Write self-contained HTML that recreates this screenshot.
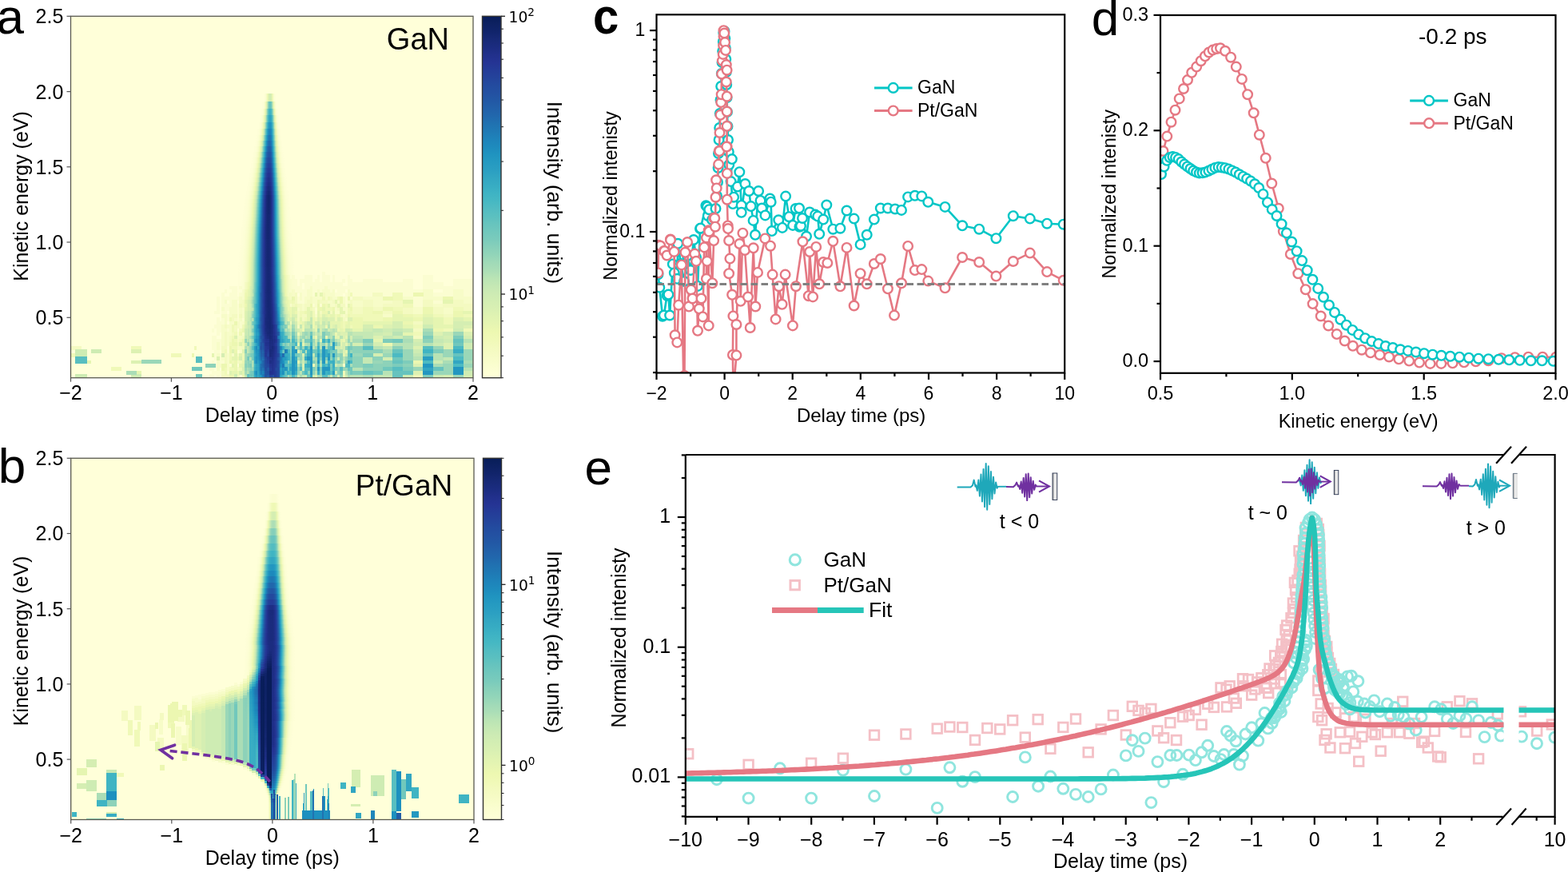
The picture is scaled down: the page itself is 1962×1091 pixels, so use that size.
<!DOCTYPE html>
<html><head><meta charset="utf-8"><title>Figure</title>
<style>html,body{margin:0;padding:0;background:#fff;}svg{display:block;}</style>
</head><body>
<svg width="1962" height="1091" viewBox="0 0 1962 1091" font-family="'Liberation Sans', Arial, sans-serif">
<defs>
<filter id="cmapA" filterUnits="userSpaceOnUse" x="0" y="0" width="700" height="1091" color-interpolation-filters="sRGB"><feGaussianBlur stdDeviation="0.55" result="b"/><feComponentTransfer in="b"><feFuncR type="table" tableValues="1.0000 0.9823 0.9646 0.9469 0.9288 0.8914 0.8540 0.8166 0.7782 0.7073 0.6364 0.5656 0.4952 0.4342 0.3731 0.3121 0.2527 0.2173 0.1818 0.1464 0.1141 0.1190 0.1240 0.1289 0.1336 0.1366 0.1395 0.1425 0.1420 0.1134 0.0849 0.0563 0.0314"/><feFuncG type="table" tableValues="1.0000 0.9931 0.9862 0.9793 0.9723 0.9576 0.9428 0.9280 0.9129 0.8853 0.8577 0.8302 0.8029 0.7802 0.7576 0.7349 0.7114 0.6750 0.6386 0.6022 0.5647 0.5145 0.4643 0.4141 0.3648 0.3234 0.2821 0.2407 0.2014 0.1788 0.1562 0.1335 0.1137"/><feFuncB type="table" tableValues="0.8510 0.8116 0.7722 0.7329 0.6942 0.6971 0.7001 0.7030 0.7061 0.7130 0.7199 0.7268 0.7337 0.7426 0.7515 0.7603 0.7684 0.7644 0.7605 0.7566 0.7511 0.7275 0.7039 0.6802 0.6570 0.6373 0.6176 0.5979 0.5739 0.5149 0.4558 0.3968 0.3451"/><feFuncA type="discrete" tableValues="1"/></feComponentTransfer></filter>
<filter id="cmapB" filterUnits="userSpaceOnUse" x="0" y="0" width="700" height="1091" color-interpolation-filters="sRGB"><feGaussianBlur stdDeviation="0.55" result="b"/><feComponentTransfer in="b"><feFuncR type="table" tableValues="1.0000 0.9823 0.9646 0.9469 0.9288 0.8914 0.8540 0.8166 0.7782 0.7073 0.6364 0.5656 0.4952 0.4342 0.3731 0.3121 0.2527 0.2173 0.1818 0.1464 0.1141 0.1190 0.1240 0.1289 0.1336 0.1366 0.1395 0.1425 0.1420 0.1134 0.0849 0.0563 0.0314"/><feFuncG type="table" tableValues="1.0000 0.9931 0.9862 0.9793 0.9723 0.9576 0.9428 0.9280 0.9129 0.8853 0.8577 0.8302 0.8029 0.7802 0.7576 0.7349 0.7114 0.6750 0.6386 0.6022 0.5647 0.5145 0.4643 0.4141 0.3648 0.3234 0.2821 0.2407 0.2014 0.1788 0.1562 0.1335 0.1137"/><feFuncB type="table" tableValues="0.8510 0.8116 0.7722 0.7329 0.6942 0.6971 0.7001 0.7030 0.7061 0.7130 0.7199 0.7268 0.7337 0.7426 0.7515 0.7603 0.7684 0.7644 0.7605 0.7566 0.7511 0.7275 0.7039 0.6802 0.6570 0.6373 0.6176 0.5979 0.5739 0.5149 0.4558 0.3968 0.3451"/><feFuncA type="discrete" tableValues="1"/></feComponentTransfer></filter>
</defs>
<rect x="88.5" y="20.3" width="503.5" height="452.4" fill="#ffffd9"/>
<clipPath id="clipcmapA"><rect x="88.5" y="20.3" width="503.5" height="452.4"/></clipPath>
<g clip-path="url(#clipcmapA)"><g filter="url(#cmapA)">
<rect x="86.5" y="18.3" width="507.5" height="456.4" fill="#000"/>
<g shape-rendering="crispEdges">
<path fill="#060606" d="M261.6 468.3h3.5v4.8h-3.5zM261.6 459.4h3.5v4.8h-3.5zM264.7 468.3h3.5v4.8h-3.5zM264.7 463.8h3.5v4.8h-3.5zM264.7 459.4h3.5v4.8h-3.5zM264.7 455h3.5v4.8h-3.5zM264.7 450.6h3.5v4.8h-3.5zM264.7 432.8h3.5v4.8h-3.5zM264.7 428.4h3.5v4.8h-3.5zM264.7 424h3.5v4.8h-3.5zM264.7 419.5h3.5v4.8h-3.5zM264.7 410.7h3.5v4.8h-3.5zM267.9 463.8h3.5v4.8h-3.5zM267.9 455h3.5v4.8h-3.5zM267.9 446.1h3.5v4.8h-3.5zM267.9 441.7h3.5v4.8h-3.5zM267.9 437.3h3.5v4.8h-3.5zM267.9 432.8h3.5v4.8h-3.5zM267.9 428.4h3.5v4.8h-3.5zM267.9 424h3.5v4.8h-3.5zM267.9 419.5h3.5v4.8h-3.5zM267.9 406.3h3.5v4.8h-3.5zM267.9 388.5h3.5v4.8h-3.5zM271 468.3h3.5v4.8h-3.5zM271 463.8h3.5v4.8h-3.5zM271 437.3h3.5v4.8h-3.5zM271 424h3.5v4.8h-3.5zM271 415.1h3.5v4.8h-3.5zM271 410.7h3.5v4.8h-3.5zM271 406.3h3.5v4.8h-3.5zM271 401.8h3.5v4.8h-3.5zM271 397.4h3.5v4.8h-3.5zM271 388.5h3.5v4.8h-3.5zM271 384.1h3.5v4.8h-3.5zM271 379.7h3.5v4.8h-3.5zM271 375.2h3.5v4.8h-3.5zM271 370.8h3.5v4.8h-3.5zM274.2 463.8h3.5v4.8h-3.5zM274.2 450.6h3.5v4.8h-3.5zM274.2 446.1h3.5v4.8h-3.5zM274.2 441.7h3.5v4.8h-3.5zM274.2 432.8h3.5v4.8h-3.5zM274.2 428.4h3.5v4.8h-3.5zM274.2 424h3.5v4.8h-3.5zM274.2 410.7h3.5v4.8h-3.5zM274.2 406.3h3.5v4.8h-3.5zM274.2 401.8h3.5v4.8h-3.5zM277.3 450.6h3.5v4.8h-3.5zM277.3 401.8h3.5v4.8h-3.5zM277.3 397.4h3.5v4.8h-3.5zM277.3 388.5h3.5v4.8h-3.5zM277.3 379.7h3.5v4.8h-3.5zM277.3 375.2h3.5v4.8h-3.5zM277.3 370.8h3.5v4.8h-3.5zM277.3 366.4h3.5v4.8h-3.5zM280.5 388.5h3.5v4.8h-3.5zM280.5 384.1h3.5v4.8h-3.5zM280.5 379.7h3.5v4.8h-3.5zM280.5 370.8h3.5v4.8h-3.5zM280.5 362h3.5v4.8h-3.5zM283.6 463.8h3.5v4.8h-3.5zM283.6 437.3h3.5v4.8h-3.5zM283.6 432.8h3.5v4.8h-3.5zM283.6 410.7h3.5v4.8h-3.5zM283.6 397.4h3.5v4.8h-3.5zM283.6 393h3.5v4.8h-3.5zM283.6 384.1h3.5v4.8h-3.5zM283.6 379.7h3.5v4.8h-3.5zM283.6 370.8h3.5v4.8h-3.5zM286.8 455h3.5v4.8h-3.5zM286.8 379.7h3.5v4.8h-3.5zM286.8 375.2h3.5v4.8h-3.5zM286.8 370.8h3.5v4.8h-3.5zM286.8 366.4h3.5v4.8h-3.5zM286.8 357.5h3.5v4.8h-3.5zM289.9 370.8h3.5v4.8h-3.5zM289.9 366.4h3.5v4.8h-3.5zM289.9 362h3.5v4.8h-3.5zM289.9 357.5h3.5v4.8h-3.5zM293 370.8h3.5v4.8h-3.5zM293 366.4h3.5v4.8h-3.5zM293 362h3.5v4.8h-3.5zM293 357.5h3.5v4.8h-3.5zM296.2 415.1h3.5v4.8h-3.5zM296.2 397.4h3.5v4.8h-3.5zM296.2 393h3.5v4.8h-3.5zM296.2 388.5h3.5v4.8h-3.5zM296.2 384.1h3.5v4.8h-3.5zM296.2 379.7h3.5v4.8h-3.5zM296.2 370.8h3.5v4.8h-3.5zM299.3 437.3h3.5v4.8h-3.5zM299.3 406.3h3.5v4.8h-3.5zM299.3 401.8h3.5v4.8h-3.5zM299.3 366.4h3.5v4.8h-3.5zM299.3 357.5h3.5v4.8h-3.5zM302.5 415.1h3.5v4.8h-3.5zM302.5 401.8h3.5v4.8h-3.5zM302.5 393h3.5v4.8h-3.5zM302.5 388.5h3.5v4.8h-3.5zM302.5 384.1h3.5v4.8h-3.5zM302.5 370.8h3.5v4.8h-3.5zM302.5 366.4h3.5v4.8h-3.5zM302.5 362h3.5v4.8h-3.5zM305.6 357.5h3.5v4.8h-3.5zM305.6 353.1h3.5v4.8h-3.5zM308.8 357.5h3.5v4.8h-3.5zM308.8 353.1h3.5v4.8h-3.5zM311.9 366.4h3.5v4.8h-3.5zM311.9 362h3.5v4.8h-3.5zM311.9 357.5h3.5v4.8h-3.5zM315.1 455h3.5v4.8h-3.5zM315.1 450.6h3.5v4.8h-3.5zM315.1 415.1h3.5v4.8h-3.5zM315.1 406.3h3.5v4.8h-3.5zM315.1 362h3.5v4.8h-3.5zM318.2 362h3.5v4.8h-3.5zM318.2 357.5h3.5v4.8h-3.5zM318.2 353.1h3.5v4.8h-3.5zM321.4 393h3.5v4.8h-3.5zM321.4 370.8h3.5v4.8h-3.5zM321.4 366.4h3.5v4.8h-3.5zM321.4 362h3.5v4.8h-3.5zM321.4 357.5h3.5v4.8h-3.5zM324.5 357.5h3.5v4.8h-3.5zM327.7 463.8h3.5v4.8h-3.5zM327.7 401.8h3.5v4.8h-3.5zM327.7 357.5h3.5v4.8h-3.5zM327.7 353.1h3.5v4.8h-3.5zM330.8 357.5h3.5v4.8h-3.5zM334 357.5h3.5v4.8h-3.5zM334 353.1h3.5v4.8h-3.5zM337.1 357.5h3.5v4.8h-3.5zM337.1 353.1h3.5v4.8h-3.5zM337.1 348.7h3.5v4.8h-3.5zM337.1 344.2h3.5v4.8h-3.5zM340.2 362h3.5v4.8h-3.5zM340.2 348.7h3.5v4.8h-3.5zM340.2 344.2h3.5v4.8h-3.5zM343.4 348.7h3.5v4.8h-3.5zM343.4 344.2h3.5v4.8h-3.5zM346.5 357.5h3.5v4.8h-3.5zM346.5 353.1h3.5v4.8h-3.5zM346.5 348.7h3.5v4.8h-3.5zM346.5 344.2h3.5v4.8h-3.5zM349.7 362h3.5v4.8h-3.5zM349.7 357.5h3.5v4.8h-3.5zM349.7 353.1h3.5v4.8h-3.5zM349.7 348.7h3.5v4.8h-3.5zM352.8 362h3.5v4.8h-3.5zM352.8 357.5h3.5v4.8h-3.5zM352.8 353.1h3.5v4.8h-3.5zM352.8 348.7h3.5v4.8h-3.5zM352.8 344.2h3.5v4.8h-3.5zM356 366.4h3.5v4.8h-3.5zM356 362h3.5v4.8h-3.5zM356 357.5h3.5v4.8h-3.5zM356 353.1h3.5v4.8h-3.5zM356 348.7h3.5v4.8h-3.5zM356 344.2h3.5v4.8h-3.5zM359.1 366.4h3.5v4.8h-3.5zM359.1 362h3.5v4.8h-3.5zM359.1 357.5h3.5v4.8h-3.5zM359.1 353.1h3.5v4.8h-3.5zM359.1 348.7h3.5v4.8h-3.5zM359.1 344.2h3.5v4.8h-3.5zM362.3 379.7h3.5v4.8h-3.5zM362.3 362h3.5v4.8h-3.5zM362.3 357.5h3.5v4.8h-3.5zM362.3 353.1h3.5v4.8h-3.5zM362.3 348.7h3.5v4.8h-3.5zM365.4 357.5h3.5v4.8h-3.5zM365.4 353.1h3.5v4.8h-3.5zM365.4 348.7h3.5v4.8h-3.5zM365.4 344.2h3.5v4.8h-3.5zM368.6 362h3.5v4.8h-3.5zM368.6 357.5h3.5v4.8h-3.5zM368.6 353.1h3.5v4.8h-3.5zM368.6 348.7h3.5v4.8h-3.5zM371.7 375.2h3.5v4.8h-3.5zM371.7 370.8h3.5v4.8h-3.5zM371.7 362h3.5v4.8h-3.5zM371.7 357.5h3.5v4.8h-3.5zM374.9 375.2h3.5v4.8h-3.5zM374.9 362h3.5v4.8h-3.5zM374.9 357.5h3.5v4.8h-3.5zM374.9 353.1h3.5v4.8h-3.5zM374.9 348.7h3.5v4.8h-3.5zM378 375.2h3.5v4.8h-3.5zM378 370.8h3.5v4.8h-3.5zM378 366.4h3.5v4.8h-3.5zM378 362h3.5v4.8h-3.5zM378 348.7h3.5v4.8h-3.5zM381.2 366.4h3.5v4.8h-3.5zM381.2 362h3.5v4.8h-3.5zM381.2 357.5h3.5v4.8h-3.5zM381.2 353.1h3.5v4.8h-3.5zM381.2 348.7h3.5v4.8h-3.5zM381.2 344.2h3.5v4.8h-3.5zM384.3 357.5h3.5v4.8h-3.5zM384.3 353.1h3.5v4.8h-3.5zM384.3 348.7h3.5v4.8h-3.5zM384.3 344.2h3.5v4.8h-3.5zM387.5 353.1h3.5v4.8h-3.5zM387.5 348.7h3.5v4.8h-3.5zM387.5 344.2h3.5v4.8h-3.5zM390.6 379.7h3.5v4.8h-3.5zM390.6 366.4h3.5v4.8h-3.5zM390.6 362h3.5v4.8h-3.5zM390.6 357.5h3.5v4.8h-3.5zM390.6 353.1h3.5v4.8h-3.5zM393.7 388.5h3.5v4.8h-3.5zM393.7 384.1h3.5v4.8h-3.5zM393.7 362h3.5v4.8h-3.5zM393.7 357.5h3.5v4.8h-3.5zM393.7 353.1h3.5v4.8h-3.5zM393.7 348.7h3.5v4.8h-3.5zM396.9 357.5h3.5v4.8h-3.5zM396.9 353.1h3.5v4.8h-3.5zM396.9 348.7h3.5v4.8h-3.5zM396.9 344.2h3.5v4.8h-3.5zM400 379.7h3.5v4.8h-3.5zM400 362h3.5v4.8h-3.5zM400 357.5h3.5v4.8h-3.5zM400 353.1h3.5v4.8h-3.5zM403.2 357.5h3.5v4.8h-3.5zM403.2 353.1h3.5v4.8h-3.5zM403.2 348.7h3.5v4.8h-3.5zM403.2 344.2h3.5v4.8h-3.5zM403.2 339.8h3.5v4.8h-3.5zM406.3 353.1h3.5v4.8h-3.5zM406.3 348.7h3.5v4.8h-3.5zM406.3 344.2h3.5v4.8h-3.5zM409.5 357.5h3.5v4.8h-3.5zM409.5 353.1h3.5v4.8h-3.5zM409.5 348.7h3.5v4.8h-3.5zM409.5 344.2h3.5v4.8h-3.5zM412.6 362h3.5v4.8h-3.5zM412.6 357.5h3.5v4.8h-3.5zM412.6 353.1h3.5v4.8h-3.5zM415.8 357.5h3.5v4.8h-3.5zM415.8 353.1h3.5v4.8h-3.5zM415.8 348.7h3.5v4.8h-3.5zM415.8 344.2h3.5v4.8h-3.5zM418.9 366.4h3.5v4.8h-3.5zM418.9 357.5h3.5v4.8h-3.5zM418.9 353.1h3.5v4.8h-3.5zM422.1 366.4h3.5v4.8h-3.5zM422.1 362h3.5v4.8h-3.5zM422.1 357.5h3.5v4.8h-3.5zM422.1 353.1h3.5v4.8h-3.5zM425.2 366.4h3.5v4.8h-3.5zM425.2 362h3.5v4.8h-3.5zM425.2 357.5h3.5v4.8h-3.5zM425.2 353.1h3.5v4.8h-3.5zM428.4 362h3.5v4.8h-3.5zM428.4 357.5h3.5v4.8h-3.5zM428.4 348.7h3.5v4.8h-3.5zM431.5 379.7h3.5v4.8h-3.5zM431.5 375.2h3.5v4.8h-3.5zM431.5 370.8h3.5v4.8h-3.5zM431.5 366.4h3.5v4.8h-3.5zM431.5 357.5h3.5v4.8h-3.5zM434.7 357.5h3.5v4.8h-3.5zM434.7 353.1h3.5v4.8h-3.5zM434.7 348.7h3.5v4.8h-3.5zM434.7 344.2h3.5v4.8h-3.5zM437.8 370.8h3.5v4.8h-3.5zM437.8 362h3.5v4.8h-3.5zM437.8 357.5h3.5v4.8h-3.5zM437.8 353.1h3.5v4.8h-3.5zM437.8 348.7h3.5v4.8h-3.5zM441 366.4h13v4.8h-13zM441 362h13v4.8h-13zM441 357.5h13v4.8h-13zM441 353.1h13v4.8h-13zM453.5 366.4h13v4.8h-13zM453.5 362h13v4.8h-13zM453.5 357.5h13v4.8h-13zM453.5 353.1h13v4.8h-13zM453.5 348.7h13v4.8h-13zM466.1 362h13v4.8h-13zM466.1 357.5h13v4.8h-13zM466.1 353.1h13v4.8h-13zM466.1 348.7h13v4.8h-13zM478.7 366.4h13v4.8h-13zM478.7 362h13v4.8h-13zM478.7 357.5h13v4.8h-13zM478.7 353.1h13v4.8h-13zM491.3 362h13v4.8h-13zM491.3 357.5h13v4.8h-13zM491.3 353.1h13v4.8h-13zM503.9 366.4h13v4.8h-13zM503.9 362h13v4.8h-13zM503.9 357.5h13v4.8h-13zM503.9 353.1h13v4.8h-13zM503.9 348.7h13v4.8h-13zM516.5 379.7h13v4.8h-13zM516.5 375.2h13v4.8h-13zM516.5 370.8h13v4.8h-13zM516.5 362h13v4.8h-13zM529.1 357.5h13v4.8h-13zM529.1 353.1h13v4.8h-13zM529.1 348.7h13v4.8h-13zM529.1 344.2h13v4.8h-13zM541.7 375.2h13v4.8h-13zM541.7 366.4h13v4.8h-13zM541.7 357.5h13v4.8h-13zM541.7 353.1h13v4.8h-13zM554.2 366.4h13v4.8h-13zM554.2 362h13v4.8h-13zM554.2 357.5h13v4.8h-13zM566.8 357.5h13v4.8h-13zM566.8 353.1h13v4.8h-13zM566.8 348.7h13v4.8h-13zM579.4 366.4h13v4.8h-13zM579.4 362h13v4.8h-13zM579.4 357.5h13v4.8h-13zM579.4 353.1h13v4.8h-13zM579.4 348.7h13v4.8h-13z"/>
<path fill="#0d0d0d" d="M271 459.4h3.5v4.8h-3.5zM271 455h3.5v4.8h-3.5zM271 450.6h3.5v4.8h-3.5zM271 441.7h3.5v4.8h-3.5zM271 432.8h3.5v4.8h-3.5zM271 428.4h3.5v4.8h-3.5zM274.2 455h3.5v4.8h-3.5zM277.3 446.1h3.5v4.8h-3.5zM277.3 428.4h3.5v4.8h-3.5zM277.3 424h3.5v4.8h-3.5zM277.3 419.5h3.5v4.8h-3.5zM277.3 415.1h3.5v4.8h-3.5zM277.3 410.7h3.5v4.8h-3.5zM277.3 406.3h3.5v4.8h-3.5zM277.3 393h3.5v4.8h-3.5zM277.3 384.1h3.5v4.8h-3.5zM280.5 410.7h3.5v4.8h-3.5zM280.5 401.8h3.5v4.8h-3.5zM280.5 397.4h3.5v4.8h-3.5zM280.5 393h3.5v4.8h-3.5zM280.5 375.2h3.5v4.8h-3.5zM283.6 459.4h3.5v4.8h-3.5zM283.6 455h3.5v4.8h-3.5zM283.6 450.6h3.5v4.8h-3.5zM283.6 446.1h3.5v4.8h-3.5zM283.6 441.7h3.5v4.8h-3.5zM283.6 428.4h3.5v4.8h-3.5zM283.6 424h3.5v4.8h-3.5zM283.6 419.5h3.5v4.8h-3.5zM283.6 415.1h3.5v4.8h-3.5zM283.6 406.3h3.5v4.8h-3.5zM286.8 415.1h3.5v4.8h-3.5zM286.8 410.7h3.5v4.8h-3.5zM286.8 406.3h3.5v4.8h-3.5zM286.8 401.8h3.5v4.8h-3.5zM286.8 393h3.5v4.8h-3.5zM286.8 388.5h3.5v4.8h-3.5zM286.8 384.1h3.5v4.8h-3.5zM289.9 441.7h3.5v4.8h-3.5zM289.9 401.8h3.5v4.8h-3.5zM289.9 388.5h3.5v4.8h-3.5zM289.9 384.1h3.5v4.8h-3.5zM289.9 379.7h3.5v4.8h-3.5zM289.9 375.2h3.5v4.8h-3.5zM293 397.4h3.5v4.8h-3.5zM293 388.5h3.5v4.8h-3.5zM293 384.1h3.5v4.8h-3.5zM293 379.7h3.5v4.8h-3.5zM293 375.2h3.5v4.8h-3.5zM296.2 459.4h3.5v4.8h-3.5zM296.2 450.6h3.5v4.8h-3.5zM296.2 441.7h3.5v4.8h-3.5zM296.2 432.8h3.5v4.8h-3.5zM296.2 424h3.5v4.8h-3.5zM296.2 419.5h3.5v4.8h-3.5zM296.2 406.3h3.5v4.8h-3.5zM296.2 401.8h3.5v4.8h-3.5zM299.3 432.8h3.5v4.8h-3.5zM299.3 419.5h3.5v4.8h-3.5zM299.3 397.4h3.5v4.8h-3.5zM299.3 388.5h3.5v4.8h-3.5zM299.3 384.1h3.5v4.8h-3.5zM299.3 375.2h3.5v4.8h-3.5zM299.3 370.8h3.5v4.8h-3.5zM302.5 432.8h3.5v4.8h-3.5zM302.5 419.5h3.5v4.8h-3.5zM302.5 379.7h3.5v4.8h-3.5zM302.5 375.2h3.5v4.8h-3.5zM305.6 362h3.5v4.8h-3.5zM308.8 366.4h3.5v4.8h-3.5zM308.8 362h3.5v4.8h-3.5zM311.9 415.1h3.5v4.8h-3.5zM311.9 384.1h3.5v4.8h-3.5zM311.9 379.7h3.5v4.8h-3.5zM311.9 370.8h3.5v4.8h-3.5zM315.1 424h3.5v4.8h-3.5zM315.1 379.7h3.5v4.8h-3.5zM315.1 370.8h3.5v4.8h-3.5zM318.2 375.2h3.5v4.8h-3.5zM318.2 370.8h3.5v4.8h-3.5zM318.2 366.4h3.5v4.8h-3.5zM321.4 432.8h3.5v4.8h-3.5zM321.4 410.7h3.5v4.8h-3.5zM321.4 401.8h3.5v4.8h-3.5zM321.4 397.4h3.5v4.8h-3.5zM321.4 388.5h3.5v4.8h-3.5zM321.4 384.1h3.5v4.8h-3.5zM321.4 379.7h3.5v4.8h-3.5zM321.4 375.2h3.5v4.8h-3.5zM324.5 468.3h3.5v4.8h-3.5zM324.5 415.1h3.5v4.8h-3.5zM324.5 410.7h3.5v4.8h-3.5zM324.5 401.8h3.5v4.8h-3.5zM324.5 393h3.5v4.8h-3.5zM324.5 384.1h3.5v4.8h-3.5zM324.5 379.7h3.5v4.8h-3.5zM324.5 375.2h3.5v4.8h-3.5zM324.5 370.8h3.5v4.8h-3.5zM327.7 441.7h3.5v4.8h-3.5zM327.7 432.8h3.5v4.8h-3.5zM327.7 410.7h3.5v4.8h-3.5zM327.7 384.1h3.5v4.8h-3.5zM327.7 375.2h3.5v4.8h-3.5zM330.8 388.5h3.5v4.8h-3.5zM330.8 370.8h3.5v4.8h-3.5zM330.8 362h3.5v4.8h-3.5zM334 384.1h3.5v4.8h-3.5zM334 370.8h3.5v4.8h-3.5zM334 366.4h3.5v4.8h-3.5zM334 362h3.5v4.8h-3.5zM337.1 362h3.5v4.8h-3.5zM340.2 357.5h3.5v4.8h-3.5zM340.2 353.1h3.5v4.8h-3.5zM343.4 357.5h3.5v4.8h-3.5zM343.4 353.1h3.5v4.8h-3.5zM346.5 379.7h3.5v4.8h-3.5zM346.5 362h3.5v4.8h-3.5zM349.7 393h3.5v4.8h-3.5zM349.7 375.2h3.5v4.8h-3.5zM349.7 370.8h3.5v4.8h-3.5zM349.7 366.4h3.5v4.8h-3.5zM352.8 375.2h3.5v4.8h-3.5zM352.8 366.4h3.5v4.8h-3.5zM356 375.2h3.5v4.8h-3.5zM359.1 370.8h3.5v4.8h-3.5zM362.3 370.8h3.5v4.8h-3.5zM362.3 366.4h3.5v4.8h-3.5zM365.4 366.4h3.5v4.8h-3.5zM365.4 362h3.5v4.8h-3.5zM371.7 384.1h3.5v4.8h-3.5zM374.9 370.8h3.5v4.8h-3.5zM374.9 366.4h3.5v4.8h-3.5zM378 384.1h3.5v4.8h-3.5zM378 379.7h3.5v4.8h-3.5zM381.2 375.2h3.5v4.8h-3.5zM381.2 370.8h3.5v4.8h-3.5zM384.3 370.8h3.5v4.8h-3.5zM384.3 366.4h3.5v4.8h-3.5zM384.3 362h3.5v4.8h-3.5zM387.5 366.4h3.5v4.8h-3.5zM387.5 362h3.5v4.8h-3.5zM387.5 357.5h3.5v4.8h-3.5zM390.6 375.2h3.5v4.8h-3.5zM390.6 370.8h3.5v4.8h-3.5zM393.7 393h3.5v4.8h-3.5zM393.7 379.7h3.5v4.8h-3.5zM393.7 375.2h3.5v4.8h-3.5zM393.7 370.8h3.5v4.8h-3.5zM396.9 370.8h3.5v4.8h-3.5zM396.9 366.4h3.5v4.8h-3.5zM396.9 362h3.5v4.8h-3.5zM400 370.8h3.5v4.8h-3.5zM403.2 362h3.5v4.8h-3.5zM406.3 370.8h3.5v4.8h-3.5zM406.3 366.4h3.5v4.8h-3.5zM406.3 362h3.5v4.8h-3.5zM406.3 357.5h3.5v4.8h-3.5zM409.5 375.2h3.5v4.8h-3.5zM409.5 366.4h3.5v4.8h-3.5zM409.5 362h3.5v4.8h-3.5zM412.6 379.7h3.5v4.8h-3.5zM412.6 375.2h3.5v4.8h-3.5zM412.6 366.4h3.5v4.8h-3.5zM415.8 379.7h3.5v4.8h-3.5zM415.8 370.8h3.5v4.8h-3.5zM415.8 366.4h3.5v4.8h-3.5zM415.8 362h3.5v4.8h-3.5zM418.9 388.5h3.5v4.8h-3.5zM418.9 384.1h3.5v4.8h-3.5zM418.9 370.8h3.5v4.8h-3.5zM422.1 388.5h3.5v4.8h-3.5zM422.1 375.2h3.5v4.8h-3.5zM428.4 455h3.5v4.8h-3.5zM428.4 393h3.5v4.8h-3.5zM428.4 384.1h3.5v4.8h-3.5zM428.4 375.2h3.5v4.8h-3.5zM428.4 370.8h3.5v4.8h-3.5zM431.5 397.4h3.5v4.8h-3.5zM431.5 388.5h3.5v4.8h-3.5zM431.5 384.1h3.5v4.8h-3.5zM434.7 375.2h3.5v4.8h-3.5zM434.7 366.4h3.5v4.8h-3.5zM434.7 362h3.5v4.8h-3.5zM441 379.7h13v4.8h-13zM441 375.2h13v4.8h-13zM453.5 370.8h13v4.8h-13zM466.1 379.7h13v4.8h-13zM466.1 375.2h13v4.8h-13zM466.1 370.8h13v4.8h-13zM478.7 393h13v4.8h-13zM478.7 375.2h13v4.8h-13zM503.9 370.8h13v4.8h-13zM516.5 388.5h13v4.8h-13zM516.5 384.1h13v4.8h-13zM529.1 370.8h13v4.8h-13zM529.1 366.4h13v4.8h-13zM529.1 362h13v4.8h-13zM541.7 379.7h13v4.8h-13zM541.7 370.8h13v4.8h-13zM554.2 388.5h13v4.8h-13zM554.2 384.1h13v4.8h-13zM566.8 370.8h13v4.8h-13zM566.8 366.4h13v4.8h-13zM566.8 362h13v4.8h-13zM579.4 375.2h13v4.8h-13zM579.4 370.8h13v4.8h-13z"/>
<path fill="#131313" d="M88.5 432.8h13v4.8h-13zM277.3 468.3h3.5v4.8h-3.5zM277.3 463.8h3.5v4.8h-3.5zM277.3 437.3h3.5v4.8h-3.5zM277.3 432.8h3.5v4.8h-3.5zM280.5 468.3h3.5v4.8h-3.5zM280.5 450.6h3.5v4.8h-3.5zM280.5 446.1h3.5v4.8h-3.5zM280.5 441.7h3.5v4.8h-3.5zM280.5 432.8h3.5v4.8h-3.5zM280.5 428.4h3.5v4.8h-3.5zM280.5 424h3.5v4.8h-3.5zM280.5 419.5h3.5v4.8h-3.5zM280.5 415.1h3.5v4.8h-3.5zM280.5 406.3h3.5v4.8h-3.5zM283.6 468.3h3.5v4.8h-3.5zM286.8 424h3.5v4.8h-3.5zM286.8 419.5h3.5v4.8h-3.5zM289.9 415.1h3.5v4.8h-3.5zM289.9 397.4h3.5v4.8h-3.5zM289.9 393h3.5v4.8h-3.5zM293 410.7h3.5v4.8h-3.5zM293 406.3h3.5v4.8h-3.5zM293 393h3.5v4.8h-3.5zM296.2 468.3h3.5v4.8h-3.5zM296.2 428.4h3.5v4.8h-3.5zM299.3 459.4h3.5v4.8h-3.5zM299.3 450.6h3.5v4.8h-3.5zM299.3 424h3.5v4.8h-3.5zM299.3 410.7h3.5v4.8h-3.5zM299.3 393h3.5v4.8h-3.5zM299.3 379.7h3.5v4.8h-3.5zM302.5 468.3h3.5v4.8h-3.5zM302.5 446.1h3.5v4.8h-3.5zM302.5 441.7h3.5v4.8h-3.5zM302.5 428.4h3.5v4.8h-3.5zM302.5 406.3h3.5v4.8h-3.5zM305.6 379.7h3.5v4.8h-3.5zM305.6 370.8h3.5v4.8h-3.5zM305.6 366.4h3.5v4.8h-3.5zM308.8 370.8h3.5v4.8h-3.5zM311.9 424h3.5v4.8h-3.5zM311.9 410.7h3.5v4.8h-3.5zM311.9 406.3h3.5v4.8h-3.5zM311.9 401.8h3.5v4.8h-3.5zM311.9 393h3.5v4.8h-3.5zM311.9 388.5h3.5v4.8h-3.5zM311.9 375.2h3.5v4.8h-3.5zM315.1 459.4h3.5v4.8h-3.5zM315.1 388.5h3.5v4.8h-3.5zM315.1 375.2h3.5v4.8h-3.5zM321.4 419.5h3.5v4.8h-3.5zM324.5 388.5h3.5v4.8h-3.5zM324.5 366.4h3.5v4.8h-3.5zM327.7 415.1h3.5v4.8h-3.5zM327.7 406.3h3.5v4.8h-3.5zM327.7 388.5h3.5v4.8h-3.5zM330.8 384.1h3.5v4.8h-3.5zM330.8 366.4h3.5v4.8h-3.5zM334 424h3.5v4.8h-3.5zM334 410.7h3.5v4.8h-3.5zM334 397.4h3.5v4.8h-3.5zM337.1 375.2h3.5v4.8h-3.5zM337.1 370.8h3.5v4.8h-3.5zM337.1 366.4h3.5v4.8h-3.5zM340.2 370.8h3.5v4.8h-3.5zM340.2 366.4h3.5v4.8h-3.5zM343.4 366.4h3.5v4.8h-3.5zM343.4 362h3.5v4.8h-3.5zM346.5 375.2h3.5v4.8h-3.5zM346.5 370.8h3.5v4.8h-3.5zM346.5 366.4h3.5v4.8h-3.5zM349.7 388.5h3.5v4.8h-3.5zM349.7 384.1h3.5v4.8h-3.5zM349.7 379.7h3.5v4.8h-3.5zM352.8 379.7h3.5v4.8h-3.5zM352.8 370.8h3.5v4.8h-3.5zM356 379.7h3.5v4.8h-3.5zM356 370.8h3.5v4.8h-3.5zM359.1 384.1h3.5v4.8h-3.5zM359.1 379.7h3.5v4.8h-3.5zM359.1 375.2h3.5v4.8h-3.5zM362.3 401.8h3.5v4.8h-3.5zM362.3 375.2h3.5v4.8h-3.5zM365.4 379.7h3.5v4.8h-3.5zM368.6 375.2h3.5v4.8h-3.5zM368.6 370.8h3.5v4.8h-3.5zM368.6 366.4h3.5v4.8h-3.5zM371.7 406.3h3.5v4.8h-3.5zM371.7 397.4h3.5v4.8h-3.5zM371.7 393h3.5v4.8h-3.5zM371.7 388.5h3.5v4.8h-3.5zM371.7 379.7h3.5v4.8h-3.5zM374.9 384.1h3.5v4.8h-3.5zM374.9 379.7h3.5v4.8h-3.5zM378 397.4h3.5v4.8h-3.5zM378 393h3.5v4.8h-3.5zM381.2 393h3.5v4.8h-3.5zM381.2 384.1h3.5v4.8h-3.5zM381.2 379.7h3.5v4.8h-3.5zM384.3 379.7h3.5v4.8h-3.5zM384.3 375.2h3.5v4.8h-3.5zM387.5 375.2h3.5v4.8h-3.5zM387.5 370.8h3.5v4.8h-3.5zM390.6 384.1h3.5v4.8h-3.5zM400 388.5h3.5v4.8h-3.5zM400 375.2h3.5v4.8h-3.5zM403.2 375.2h3.5v4.8h-3.5zM403.2 366.4h3.5v4.8h-3.5zM406.3 375.2h3.5v4.8h-3.5zM412.6 388.5h3.5v4.8h-3.5zM412.6 370.8h3.5v4.8h-3.5zM415.8 375.2h3.5v4.8h-3.5zM418.9 379.7h3.5v4.8h-3.5zM422.1 384.1h3.5v4.8h-3.5zM425.2 393h3.5v4.8h-3.5zM425.2 379.7h3.5v4.8h-3.5zM428.4 397.4h3.5v4.8h-3.5zM428.4 379.7h3.5v4.8h-3.5zM431.5 393h3.5v4.8h-3.5zM437.8 375.2h3.5v4.8h-3.5zM441 388.5h13v4.8h-13zM441 384.1h13v4.8h-13zM441 370.8h13v4.8h-13zM453.5 379.7h13v4.8h-13zM453.5 375.2h13v4.8h-13zM466.1 384.1h13v4.8h-13zM466.1 366.4h13v4.8h-13zM478.7 388.5h13v4.8h-13zM478.7 379.7h13v4.8h-13zM491.3 379.7h13v4.8h-13zM491.3 375.2h13v4.8h-13zM503.9 388.5h13v4.8h-13zM503.9 384.1h13v4.8h-13zM516.5 419.5h13v4.8h-13zM516.5 410.7h13v4.8h-13zM516.5 401.8h13v4.8h-13zM529.1 379.7h13v4.8h-13zM529.1 375.2h13v4.8h-13zM541.7 388.5h13v4.8h-13zM541.7 384.1h13v4.8h-13zM554.2 393h13v4.8h-13zM554.2 379.7h13v4.8h-13zM566.8 379.7h13v4.8h-13zM566.8 375.2h13v4.8h-13zM579.4 384.1h13v4.8h-13zM579.4 379.7h13v4.8h-13z"/>
<path fill="#1a1a1a" d="M88.5 441.7h13v4.8h-13zM138.8 459.4h13v4.8h-13zM164 432.8h13v4.8h-13zM214.4 441.7h13v4.8h-13zM242.7 432.8h3.5v4.8h-3.5zM280.5 463.8h3.5v4.8h-3.5zM280.5 459.4h3.5v4.8h-3.5zM280.5 437.3h3.5v4.8h-3.5zM286.8 459.4h3.5v4.8h-3.5zM286.8 446.1h3.5v4.8h-3.5zM286.8 441.7h3.5v4.8h-3.5zM286.8 428.4h3.5v4.8h-3.5zM286.8 397.4h3.5v4.8h-3.5zM289.9 459.4h3.5v4.8h-3.5zM289.9 450.6h3.5v4.8h-3.5zM289.9 432.8h3.5v4.8h-3.5zM289.9 419.5h3.5v4.8h-3.5zM289.9 410.7h3.5v4.8h-3.5zM289.9 406.3h3.5v4.8h-3.5zM293 432.8h3.5v4.8h-3.5zM293 424h3.5v4.8h-3.5zM293 415.1h3.5v4.8h-3.5zM296.2 463.8h3.5v4.8h-3.5zM296.2 446.1h3.5v4.8h-3.5zM299.3 415.1h3.5v4.8h-3.5zM302.5 450.6h3.5v4.8h-3.5zM302.5 424h3.5v4.8h-3.5zM302.5 410.7h3.5v4.8h-3.5zM305.6 401.8h3.5v4.8h-3.5zM305.6 384.1h3.5v4.8h-3.5zM305.6 375.2h3.5v4.8h-3.5zM308.8 384.1h3.5v4.8h-3.5zM308.8 379.7h3.5v4.8h-3.5zM308.8 375.2h3.5v4.8h-3.5zM311.9 446.1h3.5v4.8h-3.5zM311.9 428.4h3.5v4.8h-3.5zM311.9 397.4h3.5v4.8h-3.5zM315.1 437.3h3.5v4.8h-3.5zM315.1 410.7h3.5v4.8h-3.5zM315.1 393h3.5v4.8h-3.5zM318.2 401.8h3.5v4.8h-3.5zM318.2 393h3.5v4.8h-3.5zM318.2 388.5h3.5v4.8h-3.5zM318.2 384.1h3.5v4.8h-3.5zM324.5 450.6h3.5v4.8h-3.5zM324.5 424h3.5v4.8h-3.5zM324.5 406.3h3.5v4.8h-3.5zM324.5 397.4h3.5v4.8h-3.5zM327.7 468.3h3.5v4.8h-3.5zM327.7 459.4h3.5v4.8h-3.5zM330.8 406.3h3.5v4.8h-3.5zM330.8 393h3.5v4.8h-3.5zM330.8 379.7h3.5v4.8h-3.5zM330.8 375.2h3.5v4.8h-3.5zM334 441.7h3.5v4.8h-3.5zM334 406.3h3.5v4.8h-3.5zM334 393h3.5v4.8h-3.5zM334 388.5h3.5v4.8h-3.5zM334 379.7h3.5v4.8h-3.5zM334 375.2h3.5v4.8h-3.5zM337.1 388.5h3.5v4.8h-3.5zM337.1 384.1h3.5v4.8h-3.5zM337.1 379.7h3.5v4.8h-3.5zM340.2 375.2h3.5v4.8h-3.5zM343.4 375.2h3.5v4.8h-3.5zM343.4 370.8h3.5v4.8h-3.5zM349.7 406.3h3.5v4.8h-3.5zM352.8 388.5h3.5v4.8h-3.5zM356 388.5h3.5v4.8h-3.5zM356 384.1h3.5v4.8h-3.5zM359.1 397.4h3.5v4.8h-3.5zM359.1 388.5h3.5v4.8h-3.5zM362.3 393h3.5v4.8h-3.5zM362.3 388.5h3.5v4.8h-3.5zM362.3 384.1h3.5v4.8h-3.5zM365.4 375.2h3.5v4.8h-3.5zM368.6 379.7h3.5v4.8h-3.5zM371.7 415.1h3.5v4.8h-3.5zM371.7 401.8h3.5v4.8h-3.5zM374.9 393h3.5v4.8h-3.5zM374.9 388.5h3.5v4.8h-3.5zM378 388.5h3.5v4.8h-3.5zM381.2 397.4h3.5v4.8h-3.5zM387.5 384.1h3.5v4.8h-3.5zM390.6 455h3.5v4.8h-3.5zM390.6 393h3.5v4.8h-3.5zM390.6 388.5h3.5v4.8h-3.5zM393.7 397.4h3.5v4.8h-3.5zM396.9 375.2h3.5v4.8h-3.5zM400 393h3.5v4.8h-3.5zM403.2 370.8h3.5v4.8h-3.5zM406.3 384.1h3.5v4.8h-3.5zM406.3 379.7h3.5v4.8h-3.5zM409.5 384.1h3.5v4.8h-3.5zM409.5 370.8h3.5v4.8h-3.5zM412.6 384.1h3.5v4.8h-3.5zM418.9 397.4h3.5v4.8h-3.5zM418.9 393h3.5v4.8h-3.5zM422.1 370.8h3.5v4.8h-3.5zM428.4 468.3h3.5v4.8h-3.5zM428.4 463.8h3.5v4.8h-3.5zM428.4 406.3h3.5v4.8h-3.5zM428.4 401.8h3.5v4.8h-3.5zM434.7 388.5h3.5v4.8h-3.5zM434.7 384.1h3.5v4.8h-3.5zM437.8 406.3h3.5v4.8h-3.5zM437.8 393h3.5v4.8h-3.5zM437.8 388.5h3.5v4.8h-3.5zM437.8 379.7h3.5v4.8h-3.5zM437.8 366.4h3.5v4.8h-3.5zM441 393h13v4.8h-13zM453.5 397.4h13v4.8h-13zM453.5 393h13v4.8h-13zM453.5 388.5h13v4.8h-13zM453.5 384.1h13v4.8h-13zM466.1 397.4h13v4.8h-13zM466.1 393h13v4.8h-13zM491.3 384.1h13v4.8h-13zM491.3 370.8h13v4.8h-13zM491.3 366.4h13v4.8h-13zM503.9 379.7h13v4.8h-13zM516.5 468.3h13v4.8h-13zM516.5 415.1h13v4.8h-13zM516.5 406.3h13v4.8h-13zM516.5 393h13v4.8h-13zM541.7 393h13v4.8h-13zM554.2 410.7h13v4.8h-13zM554.2 401.8h13v4.8h-13zM554.2 397.4h13v4.8h-13zM566.8 384.1h13v4.8h-13zM579.4 410.7h13v4.8h-13zM579.4 393h13v4.8h-13z"/>
<path fill="#202020" d="M176.6 450.6h13v4.8h-13zM239.6 441.7h3.5v4.8h-3.5zM249 459.4h3.5v4.8h-3.5zM277.3 459.4h3.5v4.8h-3.5zM277.3 455h3.5v4.8h-3.5zM280.5 455h3.5v4.8h-3.5zM286.8 468.3h3.5v4.8h-3.5zM286.8 450.6h3.5v4.8h-3.5zM286.8 437.3h3.5v4.8h-3.5zM286.8 432.8h3.5v4.8h-3.5zM289.9 468.3h3.5v4.8h-3.5zM289.9 428.4h3.5v4.8h-3.5zM289.9 424h3.5v4.8h-3.5zM293 459.4h3.5v4.8h-3.5zM293 455h3.5v4.8h-3.5zM293 450.6h3.5v4.8h-3.5zM293 437.3h3.5v4.8h-3.5zM293 428.4h3.5v4.8h-3.5zM293 401.8h3.5v4.8h-3.5zM299.3 455h3.5v4.8h-3.5zM302.5 463.8h3.5v4.8h-3.5zM302.5 455h3.5v4.8h-3.5zM302.5 437.3h3.5v4.8h-3.5zM305.6 406.3h3.5v4.8h-3.5zM305.6 397.4h3.5v4.8h-3.5zM305.6 393h3.5v4.8h-3.5zM305.6 388.5h3.5v4.8h-3.5zM308.8 406.3h3.5v4.8h-3.5zM308.8 397.4h3.5v4.8h-3.5zM308.8 393h3.5v4.8h-3.5zM308.8 388.5h3.5v4.8h-3.5zM311.9 419.5h3.5v4.8h-3.5zM315.1 428.4h3.5v4.8h-3.5zM315.1 419.5h3.5v4.8h-3.5zM315.1 401.8h3.5v4.8h-3.5zM318.2 379.7h3.5v4.8h-3.5zM321.4 468.3h3.5v4.8h-3.5zM321.4 463.8h3.5v4.8h-3.5zM321.4 455h3.5v4.8h-3.5zM321.4 428.4h3.5v4.8h-3.5zM321.4 424h3.5v4.8h-3.5zM327.7 450.6h3.5v4.8h-3.5zM327.7 424h3.5v4.8h-3.5zM334 401.8h3.5v4.8h-3.5zM346.5 384.1h3.5v4.8h-3.5zM349.7 410.7h3.5v4.8h-3.5zM349.7 397.4h3.5v4.8h-3.5zM352.8 428.4h3.5v4.8h-3.5zM352.8 393h3.5v4.8h-3.5zM352.8 384.1h3.5v4.8h-3.5zM359.1 406.3h3.5v4.8h-3.5zM359.1 393h3.5v4.8h-3.5zM365.4 370.8h3.5v4.8h-3.5zM368.6 388.5h3.5v4.8h-3.5zM374.9 401.8h3.5v4.8h-3.5zM378 410.7h3.5v4.8h-3.5zM378 406.3h3.5v4.8h-3.5zM381.2 388.5h3.5v4.8h-3.5zM387.5 379.7h3.5v4.8h-3.5zM390.6 406.3h3.5v4.8h-3.5zM390.6 401.8h3.5v4.8h-3.5zM390.6 397.4h3.5v4.8h-3.5zM393.7 419.5h3.5v4.8h-3.5zM396.9 384.1h3.5v4.8h-3.5zM396.9 379.7h3.5v4.8h-3.5zM400 384.1h3.5v4.8h-3.5zM403.2 388.5h3.5v4.8h-3.5zM403.2 379.7h3.5v4.8h-3.5zM406.3 406.3h3.5v4.8h-3.5zM406.3 388.5h3.5v4.8h-3.5zM409.5 393h3.5v4.8h-3.5zM415.8 384.1h3.5v4.8h-3.5zM418.9 415.1h3.5v4.8h-3.5zM422.1 410.7h3.5v4.8h-3.5zM422.1 393h3.5v4.8h-3.5zM425.2 406.3h3.5v4.8h-3.5zM425.2 401.8h3.5v4.8h-3.5zM425.2 375.2h3.5v4.8h-3.5zM425.2 370.8h3.5v4.8h-3.5zM428.4 424h3.5v4.8h-3.5zM428.4 410.7h3.5v4.8h-3.5zM431.5 401.8h3.5v4.8h-3.5zM434.7 393h3.5v4.8h-3.5zM434.7 370.8h3.5v4.8h-3.5zM437.8 401.8h3.5v4.8h-3.5zM437.8 384.1h3.5v4.8h-3.5zM441 406.3h13v4.8h-13zM441 401.8h13v4.8h-13zM441 397.4h13v4.8h-13zM466.1 406.3h13v4.8h-13zM466.1 388.5h13v4.8h-13zM478.7 428.4h13v4.8h-13zM478.7 397.4h13v4.8h-13zM478.7 384.1h13v4.8h-13zM478.7 370.8h13v4.8h-13zM491.3 388.5h13v4.8h-13zM503.9 401.8h13v4.8h-13zM503.9 393h13v4.8h-13zM516.5 450.6h13v4.8h-13zM516.5 397.4h13v4.8h-13zM516.5 366.4h13v4.8h-13zM529.1 388.5h13v4.8h-13zM529.1 384.1h13v4.8h-13zM541.7 410.7h13v4.8h-13zM554.2 370.8h13v4.8h-13zM566.8 393h13v4.8h-13zM566.8 388.5h13v4.8h-13z"/>
<path fill="#262626" d="M101.1 450.6h13v4.8h-13zM164 463.8h13v4.8h-13zM264.7 441.7h3.5v4.8h-3.5zM289.9 463.8h3.5v4.8h-3.5zM289.9 455h3.5v4.8h-3.5zM289.9 446.1h3.5v4.8h-3.5zM293 463.8h3.5v4.8h-3.5zM293 446.1h3.5v4.8h-3.5zM293 441.7h3.5v4.8h-3.5zM299.3 441.7h3.5v4.8h-3.5zM299.3 428.4h3.5v4.8h-3.5zM302.5 459.4h3.5v4.8h-3.5zM308.8 437.3h3.5v4.8h-3.5zM308.8 432.8h3.5v4.8h-3.5zM308.8 419.5h3.5v4.8h-3.5zM308.8 415.1h3.5v4.8h-3.5zM308.8 410.7h3.5v4.8h-3.5zM308.8 401.8h3.5v4.8h-3.5zM311.9 437.3h3.5v4.8h-3.5zM311.9 432.8h3.5v4.8h-3.5zM315.1 446.1h3.5v4.8h-3.5zM315.1 441.7h3.5v4.8h-3.5zM318.2 428.4h3.5v4.8h-3.5zM318.2 415.1h3.5v4.8h-3.5zM318.2 397.4h3.5v4.8h-3.5zM321.4 459.4h3.5v4.8h-3.5zM321.4 450.6h3.5v4.8h-3.5zM321.4 437.3h3.5v4.8h-3.5zM321.4 406.3h3.5v4.8h-3.5zM324.5 419.5h3.5v4.8h-3.5zM330.8 424h3.5v4.8h-3.5zM330.8 410.7h3.5v4.8h-3.5zM330.8 397.4h3.5v4.8h-3.5zM334 459.4h3.5v4.8h-3.5zM334 437.3h3.5v4.8h-3.5zM337.1 393h3.5v4.8h-3.5zM340.2 379.7h3.5v4.8h-3.5zM343.4 379.7h3.5v4.8h-3.5zM346.5 388.5h3.5v4.8h-3.5zM349.7 428.4h3.5v4.8h-3.5zM356 410.7h3.5v4.8h-3.5zM356 401.8h3.5v4.8h-3.5zM356 397.4h3.5v4.8h-3.5zM356 393h3.5v4.8h-3.5zM362.3 406.3h3.5v4.8h-3.5zM362.3 397.4h3.5v4.8h-3.5zM365.4 388.5h3.5v4.8h-3.5zM365.4 384.1h3.5v4.8h-3.5zM368.6 397.4h3.5v4.8h-3.5zM368.6 384.1h3.5v4.8h-3.5zM371.7 450.6h3.5v4.8h-3.5zM371.7 428.4h3.5v4.8h-3.5zM374.9 397.4h3.5v4.8h-3.5zM378 428.4h3.5v4.8h-3.5zM378 401.8h3.5v4.8h-3.5zM384.3 397.4h3.5v4.8h-3.5zM384.3 393h3.5v4.8h-3.5zM384.3 388.5h3.5v4.8h-3.5zM384.3 384.1h3.5v4.8h-3.5zM393.7 410.7h3.5v4.8h-3.5zM393.7 406.3h3.5v4.8h-3.5zM393.7 366.4h3.5v4.8h-3.5zM396.9 393h3.5v4.8h-3.5zM396.9 388.5h3.5v4.8h-3.5zM400 424h3.5v4.8h-3.5zM400 401.8h3.5v4.8h-3.5zM400 397.4h3.5v4.8h-3.5zM400 366.4h3.5v4.8h-3.5zM403.2 384.1h3.5v4.8h-3.5zM406.3 419.5h3.5v4.8h-3.5zM406.3 393h3.5v4.8h-3.5zM409.5 379.7h3.5v4.8h-3.5zM412.6 406.3h3.5v4.8h-3.5zM412.6 401.8h3.5v4.8h-3.5zM412.6 393h3.5v4.8h-3.5zM415.8 401.8h3.5v4.8h-3.5zM415.8 393h3.5v4.8h-3.5zM415.8 388.5h3.5v4.8h-3.5zM418.9 419.5h3.5v4.8h-3.5zM418.9 401.8h3.5v4.8h-3.5zM418.9 375.2h3.5v4.8h-3.5zM422.1 419.5h3.5v4.8h-3.5zM422.1 406.3h3.5v4.8h-3.5zM422.1 401.8h3.5v4.8h-3.5zM422.1 379.7h3.5v4.8h-3.5zM425.2 428.4h3.5v4.8h-3.5zM425.2 424h3.5v4.8h-3.5zM425.2 410.7h3.5v4.8h-3.5zM425.2 397.4h3.5v4.8h-3.5zM425.2 388.5h3.5v4.8h-3.5zM425.2 384.1h3.5v4.8h-3.5zM428.4 441.7h3.5v4.8h-3.5zM428.4 388.5h3.5v4.8h-3.5zM431.5 437.3h3.5v4.8h-3.5zM431.5 428.4h3.5v4.8h-3.5zM431.5 419.5h3.5v4.8h-3.5zM431.5 406.3h3.5v4.8h-3.5zM434.7 406.3h3.5v4.8h-3.5zM434.7 401.8h3.5v4.8h-3.5zM434.7 379.7h3.5v4.8h-3.5zM441 410.7h13v4.8h-13zM453.5 401.8h13v4.8h-13zM466.1 424h13v4.8h-13zM466.1 401.8h13v4.8h-13zM478.7 401.8h13v4.8h-13zM491.3 397.4h13v4.8h-13zM491.3 393h13v4.8h-13zM503.9 415.1h13v4.8h-13zM503.9 406.3h13v4.8h-13zM503.9 397.4h13v4.8h-13zM503.9 375.2h13v4.8h-13zM529.1 393h13v4.8h-13zM541.7 406.3h13v4.8h-13zM541.7 401.8h13v4.8h-13zM541.7 397.4h13v4.8h-13zM554.2 406.3h13v4.8h-13zM554.2 375.2h13v4.8h-13zM579.4 397.4h13v4.8h-13zM579.4 388.5h13v4.8h-13z"/>
<path fill="#2d2d2d" d="M164 450.6h13v4.8h-13zM164 437.3h13v4.8h-13zM271 446.1h3.5v4.8h-3.5zM286.8 463.8h3.5v4.8h-3.5zM289.9 437.3h3.5v4.8h-3.5zM293 419.5h3.5v4.8h-3.5zM299.3 463.8h3.5v4.8h-3.5zM299.3 446.1h3.5v4.8h-3.5zM305.6 428.4h3.5v4.8h-3.5zM305.6 415.1h3.5v4.8h-3.5zM305.6 410.7h3.5v4.8h-3.5zM308.8 463.8h3.5v4.8h-3.5zM308.8 424h3.5v4.8h-3.5zM311.9 459.4h3.5v4.8h-3.5zM311.9 450.6h3.5v4.8h-3.5zM315.1 468.3h3.5v4.8h-3.5zM315.1 463.8h3.5v4.8h-3.5zM318.2 410.7h3.5v4.8h-3.5zM318.2 406.3h3.5v4.8h-3.5zM321.4 446.1h3.5v4.8h-3.5zM321.4 441.7h3.5v4.8h-3.5zM324.5 446.1h3.5v4.8h-3.5zM327.7 455h3.5v4.8h-3.5zM330.8 419.5h3.5v4.8h-3.5zM330.8 415.1h3.5v4.8h-3.5zM330.8 401.8h3.5v4.8h-3.5zM334 468.3h3.5v4.8h-3.5zM340.2 384.1h3.5v4.8h-3.5zM343.4 384.1h3.5v4.8h-3.5zM346.5 406.3h3.5v4.8h-3.5zM346.5 393h3.5v4.8h-3.5zM352.8 406.3h3.5v4.8h-3.5zM352.8 397.4h3.5v4.8h-3.5zM362.3 410.7h3.5v4.8h-3.5zM365.4 393h3.5v4.8h-3.5zM368.6 393h3.5v4.8h-3.5zM371.7 437.3h3.5v4.8h-3.5zM374.9 410.7h3.5v4.8h-3.5zM378 455h3.5v4.8h-3.5zM378 441.7h3.5v4.8h-3.5zM387.5 393h3.5v4.8h-3.5zM387.5 388.5h3.5v4.8h-3.5zM393.7 468.3h3.5v4.8h-3.5zM396.9 397.4h3.5v4.8h-3.5zM403.2 393h3.5v4.8h-3.5zM409.5 397.4h3.5v4.8h-3.5zM412.6 397.4h3.5v4.8h-3.5zM415.8 406.3h3.5v4.8h-3.5zM415.8 397.4h3.5v4.8h-3.5zM422.1 397.4h3.5v4.8h-3.5zM425.2 432.8h3.5v4.8h-3.5zM425.2 415.1h3.5v4.8h-3.5zM428.4 437.3h3.5v4.8h-3.5zM428.4 419.5h3.5v4.8h-3.5zM428.4 415.1h3.5v4.8h-3.5zM431.5 415.1h3.5v4.8h-3.5zM434.7 397.4h3.5v4.8h-3.5zM437.8 397.4h3.5v4.8h-3.5zM466.1 419.5h13v4.8h-13zM478.7 406.3h13v4.8h-13zM516.5 463.8h13v4.8h-13zM516.5 455h13v4.8h-13zM516.5 432.8h13v4.8h-13zM529.1 401.8h13v4.8h-13zM529.1 397.4h13v4.8h-13zM541.7 415.1h13v4.8h-13zM554.2 432.8h13v4.8h-13zM554.2 428.4h13v4.8h-13zM566.8 397.4h13v4.8h-13zM579.4 415.1h13v4.8h-13zM579.4 406.3h13v4.8h-13z"/>
<path fill="#333333" d="M277.3 441.7h3.5v4.8h-3.5zM305.6 468.3h3.5v4.8h-3.5zM305.6 419.5h3.5v4.8h-3.5zM308.8 459.4h3.5v4.8h-3.5zM311.9 441.7h3.5v4.8h-3.5zM315.1 432.8h3.5v4.8h-3.5zM318.2 419.5h3.5v4.8h-3.5zM324.5 463.8h3.5v4.8h-3.5zM324.5 441.7h3.5v4.8h-3.5zM324.5 437.3h3.5v4.8h-3.5zM324.5 428.4h3.5v4.8h-3.5zM330.8 432.8h3.5v4.8h-3.5zM334 432.8h3.5v4.8h-3.5zM334 428.4h3.5v4.8h-3.5zM334 419.5h3.5v4.8h-3.5zM337.1 401.8h3.5v4.8h-3.5zM337.1 397.4h3.5v4.8h-3.5zM340.2 397.4h3.5v4.8h-3.5zM340.2 393h3.5v4.8h-3.5zM340.2 388.5h3.5v4.8h-3.5zM346.5 397.4h3.5v4.8h-3.5zM349.7 401.8h3.5v4.8h-3.5zM352.8 437.3h3.5v4.8h-3.5zM368.6 401.8h3.5v4.8h-3.5zM371.7 419.5h3.5v4.8h-3.5zM371.7 410.7h3.5v4.8h-3.5zM378 459.4h3.5v4.8h-3.5zM381.2 401.8h3.5v4.8h-3.5zM390.6 419.5h3.5v4.8h-3.5zM390.6 410.7h3.5v4.8h-3.5zM393.7 401.8h3.5v4.8h-3.5zM400 410.7h3.5v4.8h-3.5zM400 406.3h3.5v4.8h-3.5zM403.2 397.4h3.5v4.8h-3.5zM406.3 401.8h3.5v4.8h-3.5zM406.3 397.4h3.5v4.8h-3.5zM409.5 388.5h3.5v4.8h-3.5zM418.9 406.3h3.5v4.8h-3.5zM422.1 468.3h3.5v4.8h-3.5zM422.1 415.1h3.5v4.8h-3.5zM428.4 432.8h3.5v4.8h-3.5zM428.4 428.4h3.5v4.8h-3.5zM437.8 419.5h3.5v4.8h-3.5zM437.8 410.7h3.5v4.8h-3.5zM441 428.4h13v4.8h-13zM453.5 406.3h13v4.8h-13zM466.1 441.7h13v4.8h-13zM466.1 428.4h13v4.8h-13zM478.7 446.1h13v4.8h-13zM478.7 415.1h13v4.8h-13zM491.3 406.3h13v4.8h-13zM491.3 401.8h13v4.8h-13zM516.5 424h13v4.8h-13zM554.2 468.3h13v4.8h-13zM554.2 419.5h13v4.8h-13zM566.8 406.3h13v4.8h-13zM566.8 401.8h13v4.8h-13zM579.4 468.3h13v4.8h-13zM579.4 419.5h13v4.8h-13zM579.4 401.8h13v4.8h-13z"/>
<path fill="#393939" d="M113.7 437.3h13v4.8h-13zM164 468.3h13v4.8h-13zM293 468.3h3.5v4.8h-3.5zM305.6 432.8h3.5v4.8h-3.5zM308.8 441.7h3.5v4.8h-3.5zM311.9 463.8h3.5v4.8h-3.5zM311.9 455h3.5v4.8h-3.5zM318.2 455h3.5v4.8h-3.5zM324.5 455h3.5v4.8h-3.5zM330.8 446.1h3.5v4.8h-3.5zM337.1 410.7h3.5v4.8h-3.5zM337.1 406.3h3.5v4.8h-3.5zM340.2 401.8h3.5v4.8h-3.5zM343.4 397.4h3.5v4.8h-3.5zM343.4 393h3.5v4.8h-3.5zM343.4 388.5h3.5v4.8h-3.5zM359.1 468.3h3.5v4.8h-3.5zM359.1 410.7h3.5v4.8h-3.5zM359.1 401.8h3.5v4.8h-3.5zM362.3 419.5h3.5v4.8h-3.5zM365.4 397.4h3.5v4.8h-3.5zM368.6 406.3h3.5v4.8h-3.5zM371.7 468.3h3.5v4.8h-3.5zM374.9 415.1h3.5v4.8h-3.5zM378 450.6h3.5v4.8h-3.5zM378 424h3.5v4.8h-3.5zM381.2 468.3h3.5v4.8h-3.5zM381.2 406.3h3.5v4.8h-3.5zM384.3 406.3h3.5v4.8h-3.5zM390.6 468.3h3.5v4.8h-3.5zM393.7 424h3.5v4.8h-3.5zM393.7 415.1h3.5v4.8h-3.5zM396.9 401.8h3.5v4.8h-3.5zM400 415.1h3.5v4.8h-3.5zM403.2 406.3h3.5v4.8h-3.5zM409.5 410.7h3.5v4.8h-3.5zM418.9 463.8h3.5v4.8h-3.5zM418.9 455h3.5v4.8h-3.5zM418.9 432.8h3.5v4.8h-3.5zM422.1 446.1h3.5v4.8h-3.5zM422.1 432.8h3.5v4.8h-3.5zM428.4 450.6h3.5v4.8h-3.5zM431.5 468.3h3.5v4.8h-3.5zM431.5 441.7h3.5v4.8h-3.5zM431.5 424h3.5v4.8h-3.5zM431.5 410.7h3.5v4.8h-3.5zM434.7 410.7h3.5v4.8h-3.5zM437.8 424h3.5v4.8h-3.5zM453.5 410.7h13v4.8h-13zM466.1 415.1h13v4.8h-13zM478.7 410.7h13v4.8h-13zM491.3 419.5h13v4.8h-13zM503.9 468.3h13v4.8h-13zM503.9 410.7h13v4.8h-13zM516.5 437.3h13v4.8h-13zM516.5 428.4h13v4.8h-13zM529.1 406.3h13v4.8h-13zM541.7 468.3h13v4.8h-13zM541.7 450.6h13v4.8h-13zM541.7 428.4h13v4.8h-13zM541.7 419.5h13v4.8h-13zM554.2 424h13v4.8h-13zM554.2 415.1h13v4.8h-13zM566.8 410.7h13v4.8h-13zM579.4 463.8h13v4.8h-13zM579.4 432.8h13v4.8h-13zM579.4 428.4h13v4.8h-13zM93.5 436.9h15.5v9.1h-15.5zM93.5 468.2h15.5v4.9h-15.5z"/>
<path fill="#404040" d="M305.6 463.8h3.5v4.8h-3.5zM305.6 446.1h3.5v4.8h-3.5zM305.6 441.7h3.5v4.8h-3.5zM308.8 455h3.5v4.8h-3.5zM308.8 450.6h3.5v4.8h-3.5zM308.8 428.4h3.5v4.8h-3.5zM311.9 468.3h3.5v4.8h-3.5zM318.2 459.4h3.5v4.8h-3.5zM318.2 441.7h3.5v4.8h-3.5zM324.5 459.4h3.5v4.8h-3.5zM330.8 428.4h3.5v4.8h-3.5zM334 415.1h3.5v4.8h-3.5zM343.4 401.8h3.5v4.8h-3.5zM349.7 415.1h3.5v4.8h-3.5zM352.8 410.7h3.5v4.8h-3.5zM352.8 401.8h3.5v4.8h-3.5zM356 428.4h3.5v4.8h-3.5zM356 415.1h3.5v4.8h-3.5zM356 406.3h3.5v4.8h-3.5zM359.1 428.4h3.5v4.8h-3.5zM359.1 419.5h3.5v4.8h-3.5zM362.3 415.1h3.5v4.8h-3.5zM365.4 401.8h3.5v4.8h-3.5zM368.6 410.7h3.5v4.8h-3.5zM371.7 424h3.5v4.8h-3.5zM374.9 406.3h3.5v4.8h-3.5zM378 468.3h3.5v4.8h-3.5zM378 446.1h3.5v4.8h-3.5zM384.3 401.8h3.5v4.8h-3.5zM387.5 401.8h3.5v4.8h-3.5zM387.5 397.4h3.5v4.8h-3.5zM390.6 441.7h3.5v4.8h-3.5zM393.7 428.4h3.5v4.8h-3.5zM396.9 406.3h3.5v4.8h-3.5zM403.2 401.8h3.5v4.8h-3.5zM406.3 428.4h3.5v4.8h-3.5zM409.5 401.8h3.5v4.8h-3.5zM412.6 468.3h3.5v4.8h-3.5zM412.6 410.7h3.5v4.8h-3.5zM415.8 415.1h3.5v4.8h-3.5zM418.9 410.7h3.5v4.8h-3.5zM422.1 437.3h3.5v4.8h-3.5zM422.1 424h3.5v4.8h-3.5zM434.7 428.4h3.5v4.8h-3.5zM441 415.1h13v4.8h-13zM453.5 450.6h13v4.8h-13zM453.5 446.1h13v4.8h-13zM453.5 419.5h13v4.8h-13zM453.5 415.1h13v4.8h-13zM466.1 468.3h13v4.8h-13zM466.1 410.7h13v4.8h-13zM478.7 468.3h13v4.8h-13zM478.7 432.8h13v4.8h-13zM478.7 419.5h13v4.8h-13zM491.3 410.7h13v4.8h-13zM516.5 441.7h13v4.8h-13zM541.7 424h13v4.8h-13zM554.2 446.1h13v4.8h-13z"/>
<path fill="#464646" d="M305.6 459.4h3.5v4.8h-3.5zM305.6 450.6h3.5v4.8h-3.5zM305.6 424h3.5v4.8h-3.5zM318.2 437.3h3.5v4.8h-3.5zM318.2 424h3.5v4.8h-3.5zM324.5 432.8h3.5v4.8h-3.5zM330.8 463.8h3.5v4.8h-3.5zM330.8 455h3.5v4.8h-3.5zM330.8 450.6h3.5v4.8h-3.5zM334 463.8h3.5v4.8h-3.5zM334 455h3.5v4.8h-3.5zM346.5 419.5h3.5v4.8h-3.5zM346.5 401.8h3.5v4.8h-3.5zM349.7 468.3h3.5v4.8h-3.5zM349.7 419.5h3.5v4.8h-3.5zM359.1 450.6h3.5v4.8h-3.5zM359.1 415.1h3.5v4.8h-3.5zM362.3 424h3.5v4.8h-3.5zM368.6 432.8h3.5v4.8h-3.5zM371.7 455h3.5v4.8h-3.5zM374.9 463.8h3.5v4.8h-3.5zM381.2 437.3h3.5v4.8h-3.5zM381.2 428.4h3.5v4.8h-3.5zM381.2 419.5h3.5v4.8h-3.5zM381.2 410.7h3.5v4.8h-3.5zM384.3 410.7h3.5v4.8h-3.5zM387.5 410.7h3.5v4.8h-3.5zM390.6 432.8h3.5v4.8h-3.5zM390.6 415.1h3.5v4.8h-3.5zM393.7 463.8h3.5v4.8h-3.5zM396.9 415.1h3.5v4.8h-3.5zM400 455h3.5v4.8h-3.5zM400 432.8h3.5v4.8h-3.5zM400 428.4h3.5v4.8h-3.5zM400 419.5h3.5v4.8h-3.5zM403.2 410.7h3.5v4.8h-3.5zM409.5 406.3h3.5v4.8h-3.5zM412.6 428.4h3.5v4.8h-3.5zM412.6 419.5h3.5v4.8h-3.5zM412.6 415.1h3.5v4.8h-3.5zM415.8 410.7h3.5v4.8h-3.5zM418.9 424h3.5v4.8h-3.5zM422.1 455h3.5v4.8h-3.5zM425.2 455h3.5v4.8h-3.5zM425.2 437.3h3.5v4.8h-3.5zM425.2 419.5h3.5v4.8h-3.5zM428.4 446.1h3.5v4.8h-3.5zM431.5 463.8h3.5v4.8h-3.5zM434.7 415.1h3.5v4.8h-3.5zM437.8 468.3h3.5v4.8h-3.5zM437.8 415.1h3.5v4.8h-3.5zM441 468.3h13v4.8h-13zM441 459.4h13v4.8h-13zM441 419.5h13v4.8h-13zM466.1 432.8h13v4.8h-13zM478.7 463.8h13v4.8h-13zM491.3 428.4h13v4.8h-13zM491.3 415.1h13v4.8h-13zM503.9 432.8h13v4.8h-13zM503.9 428.4h13v4.8h-13zM503.9 419.5h13v4.8h-13zM516.5 446.1h13v4.8h-13zM529.1 428.4h13v4.8h-13zM541.7 446.1h13v4.8h-13zM541.7 441.7h13v4.8h-13zM579.4 459.4h13v4.8h-13zM579.4 424h13v4.8h-13z"/>
<path fill="#4c4c4c" d="M305.6 455h3.5v4.8h-3.5zM305.6 437.3h3.5v4.8h-3.5zM308.8 446.1h3.5v4.8h-3.5zM318.2 468.3h3.5v4.8h-3.5zM318.2 446.1h3.5v4.8h-3.5zM318.2 432.8h3.5v4.8h-3.5zM330.8 468.3h3.5v4.8h-3.5zM330.8 459.4h3.5v4.8h-3.5zM330.8 437.3h3.5v4.8h-3.5zM337.1 415.1h3.5v4.8h-3.5zM346.5 410.7h3.5v4.8h-3.5zM349.7 437.3h3.5v4.8h-3.5zM349.7 424h3.5v4.8h-3.5zM352.8 468.3h3.5v4.8h-3.5zM356 468.3h3.5v4.8h-3.5zM356 432.8h3.5v4.8h-3.5zM365.4 406.3h3.5v4.8h-3.5zM368.6 415.1h3.5v4.8h-3.5zM371.7 446.1h3.5v4.8h-3.5zM374.9 468.3h3.5v4.8h-3.5zM374.9 450.6h3.5v4.8h-3.5zM374.9 437.3h3.5v4.8h-3.5zM374.9 419.5h3.5v4.8h-3.5zM378 415.1h3.5v4.8h-3.5zM384.3 428.4h3.5v4.8h-3.5zM384.3 419.5h3.5v4.8h-3.5zM384.3 415.1h3.5v4.8h-3.5zM387.5 406.3h3.5v4.8h-3.5zM390.6 446.1h3.5v4.8h-3.5zM390.6 428.4h3.5v4.8h-3.5zM393.7 455h3.5v4.8h-3.5zM393.7 446.1h3.5v4.8h-3.5zM396.9 468.3h3.5v4.8h-3.5zM396.9 419.5h3.5v4.8h-3.5zM400 468.3h3.5v4.8h-3.5zM400 450.6h3.5v4.8h-3.5zM406.3 450.6h3.5v4.8h-3.5zM406.3 432.8h3.5v4.8h-3.5zM406.3 410.7h3.5v4.8h-3.5zM409.5 419.5h3.5v4.8h-3.5zM422.1 428.4h3.5v4.8h-3.5zM434.7 468.3h3.5v4.8h-3.5zM434.7 419.5h3.5v4.8h-3.5zM437.8 455h3.5v4.8h-3.5zM441 424h13v4.8h-13zM453.5 468.3h13v4.8h-13zM478.7 437.3h13v4.8h-13zM503.9 424h13v4.8h-13zM529.1 410.7h13v4.8h-13zM541.7 455h13v4.8h-13zM554.2 450.6h13v4.8h-13zM579.4 450.6h13v4.8h-13zM157.7 463.7h13v4.9h-13z"/>
<path fill="#535353" d="M318.2 450.6h3.5v4.8h-3.5zM334 450.6h3.5v4.8h-3.5zM334 446.1h3.5v4.8h-3.5zM340.2 410.7h3.5v4.8h-3.5zM349.7 459.4h3.5v4.8h-3.5zM352.8 419.5h3.5v4.8h-3.5zM352.8 415.1h3.5v4.8h-3.5zM356 463.8h3.5v4.8h-3.5zM359.1 432.8h3.5v4.8h-3.5zM362.3 468.3h3.5v4.8h-3.5zM362.3 437.3h3.5v4.8h-3.5zM362.3 432.8h3.5v4.8h-3.5zM362.3 428.4h3.5v4.8h-3.5zM365.4 410.7h3.5v4.8h-3.5zM368.6 419.5h3.5v4.8h-3.5zM371.7 463.8h3.5v4.8h-3.5zM371.7 432.8h3.5v4.8h-3.5zM378 432.8h3.5v4.8h-3.5zM378 419.5h3.5v4.8h-3.5zM381.2 450.6h3.5v4.8h-3.5zM381.2 415.1h3.5v4.8h-3.5zM390.6 424h3.5v4.8h-3.5zM393.7 459.4h3.5v4.8h-3.5zM393.7 450.6h3.5v4.8h-3.5zM393.7 432.8h3.5v4.8h-3.5zM396.9 424h3.5v4.8h-3.5zM396.9 410.7h3.5v4.8h-3.5zM403.2 428.4h3.5v4.8h-3.5zM406.3 415.1h3.5v4.8h-3.5zM409.5 468.3h3.5v4.8h-3.5zM409.5 415.1h3.5v4.8h-3.5zM412.6 424h3.5v4.8h-3.5zM418.9 468.3h3.5v4.8h-3.5zM418.9 450.6h3.5v4.8h-3.5zM418.9 446.1h3.5v4.8h-3.5zM422.1 441.7h3.5v4.8h-3.5zM425.2 450.6h3.5v4.8h-3.5zM428.4 459.4h3.5v4.8h-3.5zM431.5 459.4h3.5v4.8h-3.5zM431.5 446.1h3.5v4.8h-3.5zM431.5 432.8h3.5v4.8h-3.5zM434.7 424h3.5v4.8h-3.5zM437.8 437.3h3.5v4.8h-3.5zM437.8 428.4h3.5v4.8h-3.5zM441 441.7h13v4.8h-13zM453.5 428.4h13v4.8h-13zM466.1 450.6h13v4.8h-13zM478.7 441.7h13v4.8h-13zM503.9 446.1h13v4.8h-13zM503.9 441.7h13v4.8h-13zM503.9 437.3h13v4.8h-13zM516.5 459.4h13v4.8h-13zM529.1 415.1h13v4.8h-13zM541.7 463.8h13v4.8h-13zM541.7 432.8h13v4.8h-13zM554.2 463.8h13v4.8h-13zM554.2 459.4h13v4.8h-13zM554.2 455h13v4.8h-13zM554.2 441.7h13v4.8h-13zM554.2 437.3h13v4.8h-13zM566.8 468.3h13v4.8h-13zM566.8 415.1h13v4.8h-13zM579.4 455h13v4.8h-13zM579.4 446.1h13v4.8h-13zM579.4 441.7h13v4.8h-13zM579.4 437.3h13v4.8h-13zM176.6 450.1h25.6v4.9h-25.6z"/>
<path fill="#595959" d="M308.8 468.3h3.5v4.8h-3.5zM318.2 463.8h3.5v4.8h-3.5zM330.8 441.7h3.5v4.8h-3.5zM340.2 406.3h3.5v4.8h-3.5zM349.7 463.8h3.5v4.8h-3.5zM352.8 432.8h3.5v4.8h-3.5zM356 455h3.5v4.8h-3.5zM362.3 441.7h3.5v4.8h-3.5zM371.7 459.4h3.5v4.8h-3.5zM374.9 446.1h3.5v4.8h-3.5zM374.9 441.7h3.5v4.8h-3.5zM374.9 424h3.5v4.8h-3.5zM384.3 463.8h3.5v4.8h-3.5zM390.6 463.8h3.5v4.8h-3.5zM400 463.8h3.5v4.8h-3.5zM412.6 446.1h3.5v4.8h-3.5zM415.8 419.5h3.5v4.8h-3.5zM422.1 463.8h3.5v4.8h-3.5zM422.1 459.4h3.5v4.8h-3.5zM425.2 468.3h3.5v4.8h-3.5zM425.2 446.1h3.5v4.8h-3.5zM425.2 441.7h3.5v4.8h-3.5zM434.7 463.8h3.5v4.8h-3.5zM441 455h13v4.8h-13zM441 450.6h13v4.8h-13zM441 446.1h13v4.8h-13zM441 437.3h13v4.8h-13zM441 432.8h13v4.8h-13zM453.5 459.4h13v4.8h-13zM453.5 437.3h13v4.8h-13zM466.1 459.4h13v4.8h-13zM466.1 455h13v4.8h-13zM466.1 446.1h13v4.8h-13zM466.1 437.3h13v4.8h-13zM478.7 455h13v4.8h-13zM478.7 450.6h13v4.8h-13zM491.3 432.8h13v4.8h-13zM503.9 455h13v4.8h-13zM529.1 424h13v4.8h-13zM257.2 454.6h13v4.9h-13z"/>
<path fill="#606060" d="M337.1 424h3.5v4.8h-3.5zM337.1 419.5h3.5v4.8h-3.5zM340.2 468.3h3.5v4.8h-3.5zM340.2 415.1h3.5v4.8h-3.5zM352.8 424h3.5v4.8h-3.5zM356 424h3.5v4.8h-3.5zM356 419.5h3.5v4.8h-3.5zM359.1 459.4h3.5v4.8h-3.5zM359.1 455h3.5v4.8h-3.5zM362.3 446.1h3.5v4.8h-3.5zM365.4 415.1h3.5v4.8h-3.5zM368.6 468.3h3.5v4.8h-3.5zM368.6 424h3.5v4.8h-3.5zM371.7 441.7h3.5v4.8h-3.5zM374.9 455h3.5v4.8h-3.5zM381.2 424h3.5v4.8h-3.5zM384.3 424h3.5v4.8h-3.5zM390.6 459.4h3.5v4.8h-3.5zM390.6 450.6h3.5v4.8h-3.5zM400 459.4h3.5v4.8h-3.5zM400 446.1h3.5v4.8h-3.5zM400 437.3h3.5v4.8h-3.5zM403.2 419.5h3.5v4.8h-3.5zM403.2 415.1h3.5v4.8h-3.5zM406.3 446.1h3.5v4.8h-3.5zM409.5 428.4h3.5v4.8h-3.5zM412.6 455h3.5v4.8h-3.5zM412.6 441.7h3.5v4.8h-3.5zM415.8 468.3h3.5v4.8h-3.5zM415.8 437.3h3.5v4.8h-3.5zM415.8 424h3.5v4.8h-3.5zM418.9 459.4h3.5v4.8h-3.5zM418.9 441.7h3.5v4.8h-3.5zM418.9 437.3h3.5v4.8h-3.5zM418.9 428.4h3.5v4.8h-3.5zM422.1 450.6h3.5v4.8h-3.5zM431.5 450.6h3.5v4.8h-3.5zM437.8 432.8h3.5v4.8h-3.5zM441 463.8h13v4.8h-13zM453.5 455h13v4.8h-13zM453.5 441.7h13v4.8h-13zM453.5 424h13v4.8h-13zM478.7 424h13v4.8h-13zM491.3 455h13v4.8h-13zM503.9 459.4h13v4.8h-13zM503.9 450.6h13v4.8h-13zM529.1 468.3h13v4.8h-13zM529.1 419.5h13v4.8h-13zM541.7 437.3h13v4.8h-13zM566.8 419.5h13v4.8h-13z"/>
<path fill="#666666" d="M337.1 428.4h3.5v4.8h-3.5zM343.4 410.7h3.5v4.8h-3.5zM343.4 406.3h3.5v4.8h-3.5zM349.7 455h3.5v4.8h-3.5zM349.7 432.8h3.5v4.8h-3.5zM362.3 450.6h3.5v4.8h-3.5zM365.4 428.4h3.5v4.8h-3.5zM368.6 441.7h3.5v4.8h-3.5zM378 463.8h3.5v4.8h-3.5zM381.2 441.7h3.5v4.8h-3.5zM384.3 468.3h3.5v4.8h-3.5zM384.3 432.8h3.5v4.8h-3.5zM387.5 415.1h3.5v4.8h-3.5zM390.6 437.3h3.5v4.8h-3.5zM393.7 437.3h3.5v4.8h-3.5zM406.3 424h3.5v4.8h-3.5zM412.6 459.4h3.5v4.8h-3.5zM412.6 437.3h3.5v4.8h-3.5zM425.2 463.8h3.5v4.8h-3.5zM434.7 446.1h3.5v4.8h-3.5zM434.7 437.3h3.5v4.8h-3.5zM434.7 432.8h3.5v4.8h-3.5zM437.8 463.8h3.5v4.8h-3.5zM437.8 459.4h3.5v4.8h-3.5zM437.8 446.1h3.5v4.8h-3.5zM466.1 463.8h13v4.8h-13zM478.7 459.4h13v4.8h-13zM491.3 446.1h13v4.8h-13zM491.3 424h13v4.8h-13zM566.8 428.4h13v4.8h-13zM239.5 459.1h13v4.9h-13zM244.6 468.2h8v4.9h-8z"/>
<path fill="#6c6c6c" d="M337.1 468.3h3.5v4.8h-3.5zM340.2 419.5h3.5v4.8h-3.5zM346.5 428.4h3.5v4.8h-3.5zM349.7 441.7h3.5v4.8h-3.5zM356 450.6h3.5v4.8h-3.5zM359.1 437.3h3.5v4.8h-3.5zM359.1 424h3.5v4.8h-3.5zM365.4 419.5h3.5v4.8h-3.5zM393.7 441.7h3.5v4.8h-3.5zM396.9 428.4h3.5v4.8h-3.5zM400 441.7h3.5v4.8h-3.5zM409.5 432.8h3.5v4.8h-3.5zM434.7 459.4h3.5v4.8h-3.5zM434.7 441.7h3.5v4.8h-3.5zM453.5 463.8h13v4.8h-13zM491.3 468.3h13v4.8h-13zM491.3 463.8h13v4.8h-13zM491.3 450.6h13v4.8h-13zM491.3 437.3h13v4.8h-13zM503.9 463.8h13v4.8h-13zM529.1 441.7h13v4.8h-13zM541.7 459.4h13v4.8h-13zM566.8 441.7h13v4.8h-13zM566.8 424h13v4.8h-13z"/>
<path fill="#737373" d="M337.1 432.8h3.5v4.8h-3.5zM343.4 415.1h3.5v4.8h-3.5zM346.5 424h3.5v4.8h-3.5zM346.5 415.1h3.5v4.8h-3.5zM349.7 450.6h3.5v4.8h-3.5zM352.8 459.4h3.5v4.8h-3.5zM352.8 446.1h3.5v4.8h-3.5zM356 441.7h3.5v4.8h-3.5zM362.3 463.8h3.5v4.8h-3.5zM374.9 459.4h3.5v4.8h-3.5zM374.9 432.8h3.5v4.8h-3.5zM378 437.3h3.5v4.8h-3.5zM381.2 459.4h3.5v4.8h-3.5zM384.3 459.4h3.5v4.8h-3.5zM387.5 424h3.5v4.8h-3.5zM403.2 468.3h3.5v4.8h-3.5zM406.3 468.3h3.5v4.8h-3.5zM406.3 455h3.5v4.8h-3.5zM412.6 463.8h3.5v4.8h-3.5zM412.6 432.8h3.5v4.8h-3.5zM425.2 459.4h3.5v4.8h-3.5zM431.5 455h3.5v4.8h-3.5zM453.5 432.8h13v4.8h-13zM491.3 459.4h13v4.8h-13zM529.1 432.8h13v4.8h-13zM93.5 445.6h15.5v9.4h-15.5zM244.6 445.6h8v8.7h-8z"/>
<path fill="#797979" d="M337.1 459.4h3.5v4.8h-3.5zM346.5 432.8h3.5v4.8h-3.5zM349.7 446.1h3.5v4.8h-3.5zM352.8 463.8h3.5v4.8h-3.5zM352.8 450.6h3.5v4.8h-3.5zM359.1 463.8h3.5v4.8h-3.5zM359.1 446.1h3.5v4.8h-3.5zM359.1 441.7h3.5v4.8h-3.5zM362.3 455h3.5v4.8h-3.5zM365.4 468.3h3.5v4.8h-3.5zM365.4 424h3.5v4.8h-3.5zM368.6 428.4h3.5v4.8h-3.5zM374.9 428.4h3.5v4.8h-3.5zM381.2 463.8h3.5v4.8h-3.5zM384.3 450.6h3.5v4.8h-3.5zM387.5 419.5h3.5v4.8h-3.5zM396.9 455h3.5v4.8h-3.5zM409.5 437.3h3.5v4.8h-3.5zM415.8 446.1h3.5v4.8h-3.5zM434.7 455h3.5v4.8h-3.5zM437.8 450.6h3.5v4.8h-3.5zM491.3 441.7h13v4.8h-13zM529.1 450.6h13v4.8h-13zM566.8 455h13v4.8h-13zM566.8 446.1h13v4.8h-13zM566.8 432.8h13v4.8h-13z"/>
<path fill="#808080" d="M337.1 446.1h3.5v4.8h-3.5zM340.2 428.4h3.5v4.8h-3.5zM340.2 424h3.5v4.8h-3.5zM346.5 437.3h3.5v4.8h-3.5zM356 446.1h3.5v4.8h-3.5zM381.2 455h3.5v4.8h-3.5zM381.2 432.8h3.5v4.8h-3.5zM384.3 437.3h3.5v4.8h-3.5zM387.5 428.4h3.5v4.8h-3.5zM396.9 437.3h3.5v4.8h-3.5zM396.9 432.8h3.5v4.8h-3.5zM403.2 455h3.5v4.8h-3.5zM403.2 424h3.5v4.8h-3.5zM406.3 463.8h3.5v4.8h-3.5zM409.5 450.6h3.5v4.8h-3.5zM409.5 424h3.5v4.8h-3.5zM412.6 450.6h3.5v4.8h-3.5zM415.8 459.4h3.5v4.8h-3.5zM437.8 441.7h3.5v4.8h-3.5zM529.1 437.3h13v4.8h-13z"/>
<path fill="#868686" d="M337.1 455h3.5v4.8h-3.5zM343.4 428.4h3.5v4.8h-3.5zM346.5 446.1h3.5v4.8h-3.5zM356 459.4h3.5v4.8h-3.5zM362.3 459.4h3.5v4.8h-3.5zM368.6 463.8h3.5v4.8h-3.5zM368.6 446.1h3.5v4.8h-3.5zM381.2 446.1h3.5v4.8h-3.5zM384.3 455h3.5v4.8h-3.5zM384.3 441.7h3.5v4.8h-3.5zM396.9 463.8h3.5v4.8h-3.5zM406.3 441.7h3.5v4.8h-3.5zM406.3 437.3h3.5v4.8h-3.5zM409.5 463.8h3.5v4.8h-3.5zM415.8 455h3.5v4.8h-3.5zM415.8 450.6h3.5v4.8h-3.5zM566.8 437.3h13v4.8h-13z"/>
<path fill="#8c8c8c" d="M343.4 459.4h3.5v4.8h-3.5zM343.4 419.5h3.5v4.8h-3.5zM352.8 455h3.5v4.8h-3.5zM365.4 432.8h3.5v4.8h-3.5zM368.6 455h3.5v4.8h-3.5zM387.5 468.3h3.5v4.8h-3.5zM396.9 446.1h3.5v4.8h-3.5zM409.5 455h3.5v4.8h-3.5zM415.8 432.8h3.5v4.8h-3.5zM434.7 450.6h3.5v4.8h-3.5zM529.1 459.4h13v4.8h-13zM566.8 450.6h13v4.8h-13z"/>
<path fill="#939393" d="M337.1 463.8h3.5v4.8h-3.5zM337.1 437.3h3.5v4.8h-3.5zM343.4 446.1h3.5v4.8h-3.5zM346.5 455h3.5v4.8h-3.5zM365.4 441.7h3.5v4.8h-3.5zM365.4 437.3h3.5v4.8h-3.5zM368.6 459.4h3.5v4.8h-3.5zM368.6 450.6h3.5v4.8h-3.5zM387.5 441.7h3.5v4.8h-3.5zM387.5 437.3h3.5v4.8h-3.5zM396.9 441.7h3.5v4.8h-3.5zM409.5 441.7h3.5v4.8h-3.5zM415.8 463.8h3.5v4.8h-3.5zM415.8 428.4h3.5v4.8h-3.5zM529.1 446.1h13v4.8h-13z"/>
<path fill="#999999" d="M337.1 450.6h3.5v4.8h-3.5zM337.1 441.7h3.5v4.8h-3.5zM340.2 463.8h3.5v4.8h-3.5zM340.2 459.4h3.5v4.8h-3.5zM340.2 455h3.5v4.8h-3.5zM340.2 450.6h3.5v4.8h-3.5zM340.2 446.1h3.5v4.8h-3.5zM340.2 441.7h3.5v4.8h-3.5zM340.2 437.3h3.5v4.8h-3.5zM340.2 432.8h3.5v4.8h-3.5zM343.4 468.3h3.5v4.8h-3.5zM343.4 463.8h3.5v4.8h-3.5zM343.4 455h3.5v4.8h-3.5zM343.4 450.6h3.5v4.8h-3.5zM343.4 441.7h3.5v4.8h-3.5zM343.4 437.3h3.5v4.8h-3.5zM343.4 432.8h3.5v4.8h-3.5zM343.4 424h3.5v4.8h-3.5zM346.5 468.3h3.5v4.8h-3.5zM346.5 463.8h3.5v4.8h-3.5zM346.5 459.4h3.5v4.8h-3.5zM346.5 450.6h3.5v4.8h-3.5zM346.5 441.7h3.5v4.8h-3.5zM352.8 441.7h3.5v4.8h-3.5zM356 437.3h3.5v4.8h-3.5zM365.4 463.8h3.5v4.8h-3.5zM365.4 459.4h3.5v4.8h-3.5zM365.4 455h3.5v4.8h-3.5zM365.4 450.6h3.5v4.8h-3.5zM365.4 446.1h3.5v4.8h-3.5zM368.6 437.3h3.5v4.8h-3.5zM384.3 446.1h3.5v4.8h-3.5zM387.5 463.8h3.5v4.8h-3.5zM387.5 459.4h3.5v4.8h-3.5zM387.5 455h3.5v4.8h-3.5zM387.5 450.6h3.5v4.8h-3.5zM387.5 446.1h3.5v4.8h-3.5zM387.5 432.8h3.5v4.8h-3.5zM396.9 459.4h3.5v4.8h-3.5zM396.9 450.6h3.5v4.8h-3.5zM403.2 463.8h3.5v4.8h-3.5zM403.2 459.4h3.5v4.8h-3.5zM403.2 450.6h3.5v4.8h-3.5zM403.2 446.1h3.5v4.8h-3.5zM403.2 441.7h3.5v4.8h-3.5zM403.2 437.3h3.5v4.8h-3.5zM403.2 432.8h3.5v4.8h-3.5zM406.3 459.4h3.5v4.8h-3.5zM409.5 459.4h3.5v4.8h-3.5zM409.5 446.1h3.5v4.8h-3.5zM415.8 441.7h3.5v4.8h-3.5zM529.1 463.8h13v4.8h-13zM529.1 455h13v4.8h-13zM566.8 463.8h13v4.8h-13zM566.8 459.4h13v4.8h-13z"/>
</g>
<rect x="273.92" y="470" width="116.6" height="3" fill="url(#gA54)" fill-opacity="0.705"/><rect x="274.17" y="467" width="116.11" height="3" fill="url(#gA54)" fill-opacity="0.714"/><rect x="274.42" y="464" width="115.62" height="3" fill="url(#gA54)" fill-opacity="0.724"/><rect x="274.66" y="461" width="115.13" height="3" fill="url(#gA54)" fill-opacity="0.734"/><rect x="274.91" y="458" width="114.64" height="3" fill="url(#gA54)" fill-opacity="0.743"/><rect x="275.15" y="455" width="114.14" height="3" fill="url(#gA54)" fill-opacity="0.753"/><rect x="275.4" y="452" width="113.65" height="3" fill="url(#gA54)" fill-opacity="0.764"/><rect x="275.65" y="449" width="113.16" height="3" fill="url(#gA54)" fill-opacity="0.778"/><rect x="275.89" y="446" width="112.67" height="3" fill="url(#gA54)" fill-opacity="0.792"/><rect x="276.14" y="443" width="112.18" height="3" fill="url(#gA54)" fill-opacity="0.807"/><rect x="276.39" y="440" width="111.68" height="3" fill="url(#gA54)" fill-opacity="0.821"/><rect x="276.63" y="437" width="111.19" height="3" fill="url(#gA54)" fill-opacity="0.836"/><rect x="276.88" y="433" width="110.7" height="4" fill="url(#gA54)" fill-opacity="0.850"/><rect x="277.18" y="430" width="110.11" height="3" fill="url(#gA54)" fill-opacity="0.861"/><rect x="277.48" y="427" width="109.52" height="3" fill="url(#gA54)" fill-opacity="0.871"/><rect x="277.77" y="424" width="108.93" height="3" fill="url(#gA54)" fill-opacity="0.882"/><rect x="278.07" y="421" width="108.34" height="3" fill="url(#gA54)" fill-opacity="0.893"/><rect x="278.37" y="418" width="107.75" height="3" fill="url(#gA54)" fill-opacity="0.903"/><rect x="278.67" y="415" width="107.16" height="3" fill="url(#gA54)" fill-opacity="0.914"/><rect x="278.97" y="412" width="106.57" height="3" fill="url(#gA54)" fill-opacity="0.925"/><rect x="279.27" y="409" width="105.98" height="3" fill="url(#gA54)" fill-opacity="0.930"/><rect x="279.57" y="406" width="105.39" height="3" fill="url(#gA54)" fill-opacity="0.931"/><rect x="279.87" y="403" width="104.8" height="3" fill="url(#gA54)" fill-opacity="0.931"/><rect x="280.17" y="400" width="104.21" height="3" fill="url(#gA54)" fill-opacity="0.931"/><rect x="280.47" y="397" width="103.62" height="3" fill="url(#gA54)" fill-opacity="0.932"/><rect x="280.77" y="394" width="103.02" height="3" fill="url(#gA54)" fill-opacity="0.932"/><rect x="281.06" y="391" width="102.43" height="3" fill="url(#gA54)" fill-opacity="0.932"/><rect x="281.36" y="388" width="101.84" height="3" fill="url(#gA54)" fill-opacity="0.933"/><rect x="281.61" y="385" width="101.36" height="3" fill="url(#gA54)" fill-opacity="0.933"/><rect x="281.76" y="382" width="101.04" height="3" fill="url(#gA54)" fill-opacity="0.933"/><rect x="281.91" y="379" width="100.72" height="3" fill="url(#gA54)" fill-opacity="0.934"/><rect x="282.06" y="376" width="100.4" height="3" fill="url(#gA54)" fill-opacity="0.934"/><rect x="282.21" y="373" width="100.09" height="3" fill="url(#gA54)" fill-opacity="0.935"/><rect x="282.36" y="370" width="99.77" height="3" fill="url(#gA54)" fill-opacity="0.935"/><rect x="282.51" y="367" width="99.45" height="3" fill="url(#gA54)" fill-opacity="0.935"/><rect x="282.66" y="364" width="99.13" height="3" fill="url(#gA54)" fill-opacity="0.936"/><rect x="282.82" y="361" width="98.82" height="3" fill="url(#gA54)" fill-opacity="0.936"/><rect x="282.97" y="358" width="98.5" height="3" fill="url(#gA54)" fill-opacity="0.936"/><rect x="283.12" y="355" width="98.18" height="3" fill="url(#gA54)" fill-opacity="0.937"/><rect x="283.27" y="352" width="97.86" height="3" fill="url(#gA54)" fill-opacity="0.937"/><rect x="283.42" y="349" width="97.55" height="3" fill="url(#gA54)" fill-opacity="0.937"/><rect x="283.57" y="346" width="97.23" height="3" fill="url(#gA54)" fill-opacity="0.938"/><rect x="283.72" y="343" width="96.91" height="3" fill="url(#gA54)" fill-opacity="0.938"/><rect x="283.87" y="340" width="96.59" height="3" fill="url(#gA54)" fill-opacity="0.939"/><rect x="284.02" y="337" width="96.28" height="3" fill="url(#gA54)" fill-opacity="0.939"/><rect x="284.18" y="334" width="95.96" height="3" fill="url(#gA54)" fill-opacity="0.939"/><rect x="284.33" y="331" width="95.64" height="3" fill="url(#gA54)" fill-opacity="0.940"/><rect x="284.48" y="328" width="95.32" height="3" fill="url(#gA54)" fill-opacity="0.940"/><rect x="284.84" y="325" width="94.62" height="3" fill="url(#gA54)" fill-opacity="0.940"/><rect x="285.19" y="322" width="93.92" height="3" fill="url(#gA54)" fill-opacity="0.941"/><rect x="285.55" y="319" width="93.22" height="3" fill="url(#gA54)" fill-opacity="0.941"/><rect x="285.91" y="316" width="92.51" height="3" fill="url(#gA54)" fill-opacity="0.941"/><rect x="286.28" y="313" width="91.79" height="3" fill="url(#gA54)" fill-opacity="0.942"/><rect x="286.65" y="310" width="91.06" height="3" fill="url(#gA54)" fill-opacity="0.942"/><rect x="287.04" y="306" width="90.3" height="4" fill="url(#gA54)" fill-opacity="0.943"/><rect x="287.43" y="303" width="89.52" height="3" fill="url(#gA54)" fill-opacity="0.943"/><rect x="287.84" y="299" width="88.72" height="4" fill="url(#gA54)" fill-opacity="0.943"/><rect x="288.26" y="296" width="87.9" height="3" fill="url(#gA54)" fill-opacity="0.944"/><rect x="288.69" y="292" width="87.06" height="4" fill="url(#gA54)" fill-opacity="0.944"/><rect x="289.2" y="288" width="86.19" height="4" fill="url(#gA54)" fill-opacity="0.945"/><rect x="289.73" y="284" width="85.3" height="4" fill="url(#gA54)" fill-opacity="0.945"/><rect x="290.28" y="280" width="84.38" height="4" fill="url(#gA54)" fill-opacity="0.946"/><rect x="290.85" y="276" width="83.44" height="4" fill="url(#gA54)" fill-opacity="0.946"/><rect x="291.43" y="272" width="82.46" height="4" fill="url(#gA54)" fill-opacity="0.947"/><rect x="292.03" y="268" width="81.46" height="4" fill="url(#gA54)" fill-opacity="0.947"/><rect x="292.64" y="263" width="80.43" height="5" fill="url(#gA54)" fill-opacity="0.948"/><rect x="293.28" y="259" width="79.37" height="4" fill="url(#gA54)" fill-opacity="0.948"/><rect x="293.93" y="254" width="78.28" height="5" fill="url(#gA54)" fill-opacity="0.949"/><rect x="294.6" y="249" width="77.15" height="5" fill="url(#gA54)" fill-opacity="0.949"/><rect x="295.67" y="244" width="75.29" height="5" fill="url(#gA54)" fill-opacity="0.950"/><rect x="296.89" y="239" width="73.15" height="5" fill="url(#gA54)" fill-opacity="0.937"/><rect x="298.15" y="233" width="70.95" height="6" fill="url(#gA54)" fill-opacity="0.924"/><rect x="299.45" y="228" width="68.67" height="5" fill="url(#gA54)" fill-opacity="0.911"/><rect x="300.8" y="222" width="66.32" height="6" fill="url(#gA54)" fill-opacity="0.897"/><rect x="302.18" y="216" width="63.89" height="6" fill="url(#gA54)" fill-opacity="0.882"/><rect x="303.62" y="210" width="61.38" height="6" fill="url(#gA54)" fill-opacity="0.862"/><rect x="305.1" y="204" width="58.78" height="6" fill="url(#gA54)" fill-opacity="0.840"/><rect x="306.63" y="197" width="56.1" height="7" fill="url(#gA54)" fill-opacity="0.817"/><rect x="308.25" y="190" width="53.31" height="7" fill="url(#gA54)" fill-opacity="0.791"/><rect x="310.01" y="183" width="50.38" height="7" fill="url(#gA54)" fill-opacity="0.759"/><rect x="311.83" y="176" width="47.35" height="7" fill="url(#gA54)" fill-opacity="0.726"/><rect x="313.72" y="169" width="44.21" height="7" fill="url(#gA54)" fill-opacity="0.695"/><rect x="315.68" y="161" width="40.95" height="8" fill="url(#gA54)" fill-opacity="0.663"/><rect x="317.71" y="153" width="37.58" height="8" fill="url(#gA54)" fill-opacity="0.619"/><rect x="319.73" y="144" width="34.05" height="9" fill="url(#gA54)" fill-opacity="0.566"/><rect x="321.71" y="136" width="30.35" height="8" fill="url(#gA54)" fill-opacity="0.509"/><rect x="323.78" y="127" width="26.51" height="9" fill="url(#gA54)" fill-opacity="0.429"/><rect x="325.73" y="117" width="22.86" height="10" fill="url(#gA54)" fill-opacity="0.218"/>
</g></g>
<defs><linearGradient id="gA54" x1="0" y1="0" x2="1" y2="0"><stop offset="0.000" stop-color="#fff" stop-opacity="0.000"/><stop offset="0.021" stop-color="#fff" stop-opacity="0.000"/><stop offset="0.042" stop-color="#fff" stop-opacity="0.000"/><stop offset="0.062" stop-color="#fff" stop-opacity="0.000"/><stop offset="0.083" stop-color="#fff" stop-opacity="0.000"/><stop offset="0.104" stop-color="#fff" stop-opacity="0.000"/><stop offset="0.125" stop-color="#fff" stop-opacity="0.001"/><stop offset="0.146" stop-color="#fff" stop-opacity="0.002"/><stop offset="0.167" stop-color="#fff" stop-opacity="0.005"/><stop offset="0.188" stop-color="#fff" stop-opacity="0.009"/><stop offset="0.208" stop-color="#fff" stop-opacity="0.017"/><stop offset="0.229" stop-color="#fff" stop-opacity="0.030"/><stop offset="0.250" stop-color="#fff" stop-opacity="0.050"/><stop offset="0.271" stop-color="#fff" stop-opacity="0.080"/><stop offset="0.292" stop-color="#fff" stop-opacity="0.123"/><stop offset="0.312" stop-color="#fff" stop-opacity="0.180"/><stop offset="0.333" stop-color="#fff" stop-opacity="0.253"/><stop offset="0.354" stop-color="#fff" stop-opacity="0.341"/><stop offset="0.375" stop-color="#fff" stop-opacity="0.441"/><stop offset="0.396" stop-color="#fff" stop-opacity="0.549"/><stop offset="0.417" stop-color="#fff" stop-opacity="0.658"/><stop offset="0.438" stop-color="#fff" stop-opacity="0.760"/><stop offset="0.458" stop-color="#fff" stop-opacity="0.850"/><stop offset="0.479" stop-color="#fff" stop-opacity="0.921"/><stop offset="0.500" stop-color="#fff" stop-opacity="0.969"/><stop offset="0.521" stop-color="#fff" stop-opacity="0.994"/><stop offset="0.542" stop-color="#fff" stop-opacity="1.000"/><stop offset="0.562" stop-color="#fff" stop-opacity="0.988"/><stop offset="0.583" stop-color="#fff" stop-opacity="0.947"/><stop offset="0.604" stop-color="#fff" stop-opacity="0.874"/><stop offset="0.625" stop-color="#fff" stop-opacity="0.773"/><stop offset="0.646" stop-color="#fff" stop-opacity="0.653"/><stop offset="0.667" stop-color="#fff" stop-opacity="0.525"/><stop offset="0.688" stop-color="#fff" stop-opacity="0.401"/><stop offset="0.708" stop-color="#fff" stop-opacity="0.290"/><stop offset="0.729" stop-color="#fff" stop-opacity="0.198"/><stop offset="0.750" stop-color="#fff" stop-opacity="0.127"/><stop offset="0.771" stop-color="#fff" stop-opacity="0.077"/><stop offset="0.792" stop-color="#fff" stop-opacity="0.044"/><stop offset="0.812" stop-color="#fff" stop-opacity="0.023"/><stop offset="0.833" stop-color="#fff" stop-opacity="0.012"/><stop offset="0.854" stop-color="#fff" stop-opacity="0.005"/><stop offset="0.875" stop-color="#fff" stop-opacity="0.002"/><stop offset="0.896" stop-color="#fff" stop-opacity="0.001"/><stop offset="0.917" stop-color="#fff" stop-opacity="0.000"/><stop offset="0.938" stop-color="#fff" stop-opacity="0.000"/><stop offset="0.958" stop-color="#fff" stop-opacity="0.000"/><stop offset="0.979" stop-color="#fff" stop-opacity="0.000"/><stop offset="1.000" stop-color="#fff" stop-opacity="0.000"/></linearGradient></defs>
<rect x="88.7" y="573.3" width="504.3" height="452.2" fill="#ffffd9"/>
<clipPath id="clipcmapB"><rect x="88.7" y="573.3" width="504.3" height="452.2"/></clipPath>
<g clip-path="url(#clipcmapB)"><g filter="url(#cmapB)">
<rect x="86.7" y="571.3" width="508.3" height="456.2" fill="#000"/>
<g shape-rendering="crispEdges">
<path fill="#060606" d="M240 870.6h4.3v3.4h-4.3zM240 939.6h4.3v3.4h-4.3zM243.9 869.8h4.3v3.4h-4.3zM247.8 869h4.7v3.4h-4.7zM247.8 872h4.7v3.4h-4.7zM252 868.1h5.1v3.4h-5.1zM256.7 867.2h4.8v3.4h-4.8zM261.1 866.4h4v3.4h-4zM261.1 947.4h4v3.4h-4zM264.8 865.7h4.2v3.4h-4.2zM264.8 949.7h4.2v3.4h-4.2zM268.6 864.8h4.3v3.4h-4.3zM272.5 863.4h5v3.4h-5zM277.1 861.9h4.8v3.4h-4.8zM277.1 951.9h4.8v3.4h-4.8zM281.5 953.4h5v3.4h-5zM293.3 853.7h3.4v3.4h-3.4zM296.3 855.6h4.4v3.4h-4.4zM300.3 852.7h4.5v3.4h-4.5zM304.4 959.5h4.6v3.4h-4.6zM308.6 961.7h3.7v3.4h-3.7zM311.9 838.4h3.8v3.4h-3.8zM315.3 834.6h4.5v3.4h-4.5zM315.3 966.6h4.5v3.4h-4.5zM319.5 830.7h3.6v3.4h-3.6zM322.7 826.8h3.8v3.4h-3.8zM326.1 821.8h5.2v3.4h-5.2zM330.9 817.8h3.1v3.4h-3.1zM333.6 814.7h3.8v3.4h-3.8zM337 811.7h3v3.4h-3z"/>
<path fill="#0d0d0d" d="M240 873.6h4.3v3.4h-4.3zM243.9 872.8h4.3v3.4h-4.3zM243.9 875.8h4.3v3.4h-4.3zM247.8 875h4.7v3.4h-4.7zM247.8 941h4.7v3.4h-4.7zM252 871.1h5.1v3.4h-5.1zM252 943.1h5.1v3.4h-5.1zM256.7 870.2h4.8v3.4h-4.8zM256.7 945.2h4.8v3.4h-4.8zM261.1 869.4h4v3.4h-4zM264.8 868.7h4.2v3.4h-4.2zM268.6 867.8h4.3v3.4h-4.3zM272.5 866.4h5v3.4h-5zM272.5 950.4h5v3.4h-5zM277.1 864.9h4.8v3.4h-4.8zM281.5 860.4h5v3.4h-5zM286.1 859.2h3.1v3.4h-3.1zM288.8 858h4.9v3.4h-4.9zM288.8 954h4.9v3.4h-4.9zM293.3 856.7h3.4v3.4h-3.4zM296.3 954.6h4.4v3.4h-4.4zM304.4 848.5h4.6v3.4h-4.6zM308.6 844.7h3.7v3.4h-3.7zM311.9 841.4h3.8v3.4h-3.8zM319.5 833.7h3.6v3.4h-3.6zM319.5 968.7h3.6v3.4h-3.6zM232.6 906.7h5.3v14h-5.3zM220.2 908.8h6.5v23.2h-6.5zM233.4 905.1h5.9v19.5h-5.9zM199.1 899.7h4.7v19.6h-4.7z"/>
<path fill="#131313" d="M240 876.6h4.3v3.4h-4.3zM240 879.6h4.3v3.4h-4.3zM240 936.6h4.3v3.4h-4.3zM243.9 878.8h4.3v3.4h-4.3zM243.9 938.8h4.3v3.4h-4.3zM247.8 878h4.7v3.4h-4.7zM252 874.1h5.1v3.4h-5.1zM252 877.1h5.1v3.4h-5.1zM256.7 873.2h4.8v3.4h-4.8zM261.1 872.4h4v3.4h-4zM264.8 871.7h4.2v3.4h-4.2zM268.6 870.8h4.3v3.4h-4.3zM268.6 948.8h4.3v3.4h-4.3zM272.5 869.4h5v3.4h-5zM277.1 867.9h4.8v3.4h-4.8zM281.5 863.4h5v3.4h-5zM286.1 862.2h3.1v3.4h-3.1zM288.8 861h4.9v3.4h-4.9zM293.3 859.7h3.4v3.4h-3.4zM296.3 858.6h4.4v3.4h-4.4zM300.3 855.7h4.5v3.4h-4.5zM304.4 851.5h4.6v3.4h-4.6zM308.6 847.7h3.7v3.4h-3.7zM315.3 837.6h4.5v3.4h-4.5zM337 988.7h3v3.4h-3zM222.3 892.9h9v10.5h-9zM187.2 906.7h7.9v20.5h-7.9zM151.6 888.7h8.8v13.5h-8.8zM199.5 891.9h5.8v8.6h-5.8zM226.5 919.7h9v21.6h-9zM197.4 922.6h7.1v14.9h-7.1zM167.9 882.9h9.4v17.7h-9.4z"/>
<path fill="#1a1a1a" d="M240 882.6h4.3v3.4h-4.3zM243.9 881.8h4.3v3.4h-4.3zM247.8 881h4.7v3.4h-4.7zM247.8 938h4.7v3.4h-4.7zM252 880.1h5.1v3.4h-5.1zM256.7 876.2h4.8v3.4h-4.8zM261.1 875.4h4v3.4h-4zM264.8 874.7h4.2v3.4h-4.2zM264.8 946.7h4.2v3.4h-4.2zM268.6 873.8h4.3v3.4h-4.3zM272.5 872.4h5v3.4h-5zM281.5 866.4h5v3.4h-5zM286.1 952.2h3.1v3.4h-3.1zM296.3 861.6h4.4v3.4h-4.4zM300.3 858.7h4.5v3.4h-4.5zM308.6 850.7h3.7v3.4h-3.7zM319.5 836.7h3.6v3.4h-3.6zM322.7 829.8h3.8v3.4h-3.8zM326.1 974.8h5.2v3.4h-5.2zM330.9 820.8h3.1v3.4h-3.1zM330.9 979.8h3.1v3.4h-3.1zM171.6 902.7h4.7v11.4h-4.7zM159.8 901.3h6.4v19h-6.4zM227.6 881.6h6.3v12.9h-6.3zM168.2 913.4h6.4v20.7h-6.4zM210.3 899.6h7.5v11.5h-7.5zM145.5 967h9.6v5.4h-9.6z"/>
<path fill="#202020" d="M240 885.6h4.3v3.4h-4.3zM243.9 884.8h4.3v3.4h-4.3zM243.9 935.8h4.3v3.4h-4.3zM247.8 884h4.7v3.4h-4.7zM247.8 887h4.7v3.4h-4.7zM252 883.1h5.1v3.4h-5.1zM252 940.1h5.1v3.4h-5.1zM256.7 879.2h4.8v3.4h-4.8zM256.7 942.2h4.8v3.4h-4.8zM261.1 878.4h4v3.4h-4zM261.1 944.4h4v3.4h-4zM264.8 877.7h4.2v3.4h-4.2zM268.6 876.8h4.3v3.4h-4.3zM272.5 875.4h5v3.4h-5zM272.5 947.4h5v3.4h-5zM277.1 870.9h4.8v3.4h-4.8zM277.1 948.9h4.8v3.4h-4.8zM286.1 865.2h3.1v3.4h-3.1zM288.8 864h4.9v3.4h-4.9zM293.3 862.7h3.4v3.4h-3.4zM296.3 864.6h4.4v3.4h-4.4zM300.3 861.7h4.5v3.4h-4.5zM300.3 954.7h4.5v3.4h-4.5zM304.4 854.5h4.6v3.4h-4.6zM311.9 844.4h3.8v3.4h-3.8zM315.3 840.6h4.5v3.4h-4.5zM326.1 824.8h5.2v3.4h-5.2zM333.6 817.7h3.8v3.4h-3.8zM337 814.7h3v3.4h-3zM227.5 929.8h6.6v21.9h-6.6zM209.8 882h8.6v22.4h-8.6zM236.8 900.9h5.4v24.3h-5.4zM214.2 904.9h4.4v17.8h-4.4zM212.6 879.8h6.8v20.7h-6.8zM219.7 888.1h8.3v9.1h-8.3zM236.4 910.6h4.9v25.3h-4.9zM193.6 903.9h4.5v8.5h-4.5zM214.9 877.8h7.9v24.1h-7.9zM232.3 889.2h5.7v17.3h-5.7zM200 956.6h6.4v7.8h-6.4z"/>
<path fill="#262626" d="M240 888.6h4.3v3.4h-4.3zM240 933.6h4.3v3.4h-4.3zM243.9 887.8h4.3v3.4h-4.3zM247.8 890h4.7v3.4h-4.7zM252 886.1h5.1v3.4h-5.1zM256.7 882.2h4.8v3.4h-4.8zM261.1 881.4h4v3.4h-4zM264.8 880.7h4.2v3.4h-4.2zM272.5 878.4h5v3.4h-5zM277.1 873.9h4.8v3.4h-4.8zM281.5 869.4h5v3.4h-5zM281.5 950.4h5v3.4h-5zM288.8 867h4.9v3.4h-4.9zM293.3 952.7h3.4v3.4h-3.4zM304.4 857.5h4.6v3.4h-4.6zM304.4 956.5h4.6v3.4h-4.6zM308.6 853.7h3.7v3.4h-3.7zM308.6 958.7h3.7v3.4h-3.7zM319.5 839.7h3.6v3.4h-3.6zM322.7 970.8h3.8v3.4h-3.8zM194 928h6v12.4h-6zM96 961h12.8v8.8h-12.8z"/>
<path fill="#2d2d2d" d="M240 891.6h4.3v3.4h-4.3zM243.9 890.8h4.3v3.4h-4.3zM243.9 893.8h4.3v3.4h-4.3zM243.9 896.8h4.3v3.4h-4.3zM243.9 899.8h4.3v3.4h-4.3zM243.9 902.8h4.3v3.4h-4.3zM243.9 905.8h4.3v3.4h-4.3zM243.9 908.8h4.3v3.4h-4.3zM243.9 911.8h4.3v3.4h-4.3zM243.9 914.8h4.3v3.4h-4.3zM243.9 917.8h4.3v3.4h-4.3zM243.9 920.8h4.3v3.4h-4.3zM243.9 923.8h4.3v3.4h-4.3zM243.9 926.8h4.3v3.4h-4.3zM243.9 929.8h4.3v3.4h-4.3zM243.9 932.8h4.3v3.4h-4.3zM247.8 893h4.7v3.4h-4.7zM247.8 896h4.7v3.4h-4.7zM247.8 899h4.7v3.4h-4.7zM247.8 902h4.7v3.4h-4.7zM247.8 905h4.7v3.4h-4.7zM247.8 908h4.7v3.4h-4.7zM247.8 911h4.7v3.4h-4.7zM247.8 914h4.7v3.4h-4.7zM247.8 917h4.7v3.4h-4.7zM247.8 920h4.7v3.4h-4.7zM247.8 923h4.7v3.4h-4.7zM247.8 926h4.7v3.4h-4.7zM247.8 929h4.7v3.4h-4.7zM247.8 932h4.7v3.4h-4.7zM247.8 935h4.7v3.4h-4.7zM252 889.1h5.1v3.4h-5.1zM256.7 885.2h4.8v3.4h-4.8zM261.1 884.4h4v3.4h-4zM264.8 883.7h4.2v3.4h-4.2zM264.8 943.7h4.2v3.4h-4.2zM268.6 879.8h4.3v3.4h-4.3zM268.6 945.8h4.3v3.4h-4.3zM272.5 881.4h5v3.4h-5zM277.1 876.9h4.8v3.4h-4.8zM286.1 868.2h3.1v3.4h-3.1zM288.8 951h4.9v3.4h-4.9zM293.3 865.7h3.4v3.4h-3.4zM296.3 867.6h4.4v3.4h-4.4zM296.3 951.6h4.4v3.4h-4.4zM300.3 864.7h4.5v3.4h-4.5zM311.9 847.4h3.8v3.4h-3.8zM311.9 961.4h3.8v3.4h-3.8zM315.3 843.6h4.5v3.4h-4.5zM322.7 832.8h3.8v3.4h-3.8zM330.9 823.8h3.1v3.4h-3.1z"/>
<path fill="#333333" d="M240 894.6h4.3v3.4h-4.3zM240 897.6h4.3v3.4h-4.3zM240 900.6h4.3v3.4h-4.3zM240 903.6h4.3v3.4h-4.3zM240 906.6h4.3v3.4h-4.3zM240 909.6h4.3v3.4h-4.3zM240 912.6h4.3v3.4h-4.3zM240 915.6h4.3v3.4h-4.3zM240 918.6h4.3v3.4h-4.3zM240 921.6h4.3v3.4h-4.3zM240 924.6h4.3v3.4h-4.3zM240 927.6h4.3v3.4h-4.3zM240 930.6h4.3v3.4h-4.3zM252 892.1h5.1v3.4h-5.1zM252 895.1h5.1v3.4h-5.1zM252 898.1h5.1v3.4h-5.1zM252 901.1h5.1v3.4h-5.1zM252 904.1h5.1v3.4h-5.1zM252 907.1h5.1v3.4h-5.1zM252 910.1h5.1v3.4h-5.1zM252 913.1h5.1v3.4h-5.1zM252 916.1h5.1v3.4h-5.1zM252 919.1h5.1v3.4h-5.1zM252 922.1h5.1v3.4h-5.1zM252 925.1h5.1v3.4h-5.1zM252 928.1h5.1v3.4h-5.1zM252 931.1h5.1v3.4h-5.1zM252 934.1h5.1v3.4h-5.1zM252 937.1h5.1v3.4h-5.1zM261.1 887.4h4v3.4h-4zM261.1 941.4h4v3.4h-4zM268.6 882.8h4.3v3.4h-4.3zM272.5 884.4h5v3.4h-5zM277.1 879.9h4.8v3.4h-4.8zM281.5 872.4h5v3.4h-5zM286.1 871.2h3.1v3.4h-3.1zM288.8 870h4.9v3.4h-4.9zM296.3 870.6h4.4v3.4h-4.4zM300.3 867.7h4.5v3.4h-4.5zM304.4 860.5h4.6v3.4h-4.6zM308.6 856.7h3.7v3.4h-3.7zM315.3 963.6h4.5v3.4h-4.5zM108.4 950h12.7v10.4h-12.7zM96 979.5h12.8v7.7h-12.8zM133.1 1016h13.3v2.4h-13.3zM440 963h11.4v22.4h-11.4zM438.7 1006h12.7v3.4h-12.7z"/>
<path fill="#393939" d="M256.7 888.2h4.8v3.4h-4.8zM256.7 891.2h4.8v3.4h-4.8zM256.7 894.2h4.8v3.4h-4.8zM256.7 897.2h4.8v3.4h-4.8zM256.7 900.2h4.8v3.4h-4.8zM256.7 903.2h4.8v3.4h-4.8zM256.7 906.2h4.8v3.4h-4.8zM256.7 909.2h4.8v3.4h-4.8zM256.7 912.2h4.8v3.4h-4.8zM256.7 915.2h4.8v3.4h-4.8zM256.7 918.2h4.8v3.4h-4.8zM256.7 921.2h4.8v3.4h-4.8zM256.7 924.2h4.8v3.4h-4.8zM256.7 927.2h4.8v3.4h-4.8zM256.7 930.2h4.8v3.4h-4.8zM256.7 933.2h4.8v3.4h-4.8zM256.7 936.2h4.8v3.4h-4.8zM256.7 939.2h4.8v3.4h-4.8zM261.1 890.4h4v3.4h-4zM261.1 893.4h4v3.4h-4zM261.1 896.4h4v3.4h-4zM261.1 899.4h4v3.4h-4zM261.1 902.4h4v3.4h-4zM261.1 905.4h4v3.4h-4zM261.1 908.4h4v3.4h-4zM261.1 911.4h4v3.4h-4zM261.1 914.4h4v3.4h-4zM261.1 917.4h4v3.4h-4zM261.1 920.4h4v3.4h-4zM261.1 923.4h4v3.4h-4zM261.1 926.4h4v3.4h-4zM261.1 929.4h4v3.4h-4zM261.1 932.4h4v3.4h-4zM261.1 935.4h4v3.4h-4zM261.1 938.4h4v3.4h-4zM264.8 886.7h4.2v3.4h-4.2zM264.8 889.7h4.2v3.4h-4.2zM264.8 892.7h4.2v3.4h-4.2zM264.8 895.7h4.2v3.4h-4.2zM264.8 898.7h4.2v3.4h-4.2zM264.8 901.7h4.2v3.4h-4.2zM264.8 904.7h4.2v3.4h-4.2zM264.8 907.7h4.2v3.4h-4.2zM264.8 910.7h4.2v3.4h-4.2zM264.8 913.7h4.2v3.4h-4.2zM264.8 916.7h4.2v3.4h-4.2zM264.8 919.7h4.2v3.4h-4.2zM264.8 922.7h4.2v3.4h-4.2zM264.8 925.7h4.2v3.4h-4.2zM264.8 928.7h4.2v3.4h-4.2zM264.8 931.7h4.2v3.4h-4.2zM264.8 934.7h4.2v3.4h-4.2zM264.8 937.7h4.2v3.4h-4.2zM264.8 940.7h4.2v3.4h-4.2zM268.6 885.8h4.3v3.4h-4.3zM268.6 888.8h4.3v3.4h-4.3zM268.6 891.8h4.3v3.4h-4.3zM268.6 894.8h4.3v3.4h-4.3zM268.6 897.8h4.3v3.4h-4.3zM268.6 900.8h4.3v3.4h-4.3zM268.6 903.8h4.3v3.4h-4.3zM268.6 906.8h4.3v3.4h-4.3zM268.6 909.8h4.3v3.4h-4.3zM268.6 912.8h4.3v3.4h-4.3zM268.6 915.8h4.3v3.4h-4.3zM268.6 918.8h4.3v3.4h-4.3zM268.6 921.8h4.3v3.4h-4.3zM268.6 924.8h4.3v3.4h-4.3zM268.6 927.8h4.3v3.4h-4.3zM268.6 930.8h4.3v3.4h-4.3zM268.6 933.8h4.3v3.4h-4.3zM268.6 936.8h4.3v3.4h-4.3zM268.6 939.8h4.3v3.4h-4.3zM268.6 942.8h4.3v3.4h-4.3zM272.5 887.4h5v3.4h-5zM272.5 890.4h5v3.4h-5zM272.5 893.4h5v3.4h-5zM272.5 896.4h5v3.4h-5zM272.5 899.4h5v3.4h-5zM272.5 902.4h5v3.4h-5zM272.5 905.4h5v3.4h-5zM272.5 908.4h5v3.4h-5zM272.5 911.4h5v3.4h-5zM272.5 914.4h5v3.4h-5zM272.5 917.4h5v3.4h-5zM272.5 920.4h5v3.4h-5zM272.5 923.4h5v3.4h-5zM272.5 926.4h5v3.4h-5zM272.5 929.4h5v3.4h-5zM272.5 932.4h5v3.4h-5zM272.5 935.4h5v3.4h-5zM272.5 938.4h5v3.4h-5zM272.5 941.4h5v3.4h-5zM272.5 944.4h5v3.4h-5zM277.1 945.9h4.8v3.4h-4.8zM281.5 875.4h5v3.4h-5zM286.1 949.2h3.1v3.4h-3.1zM293.3 868.7h3.4v3.4h-3.4zM300.3 951.7h4.5v3.4h-4.5zM308.6 859.7h3.7v3.4h-3.7zM311.9 850.4h3.8v3.4h-3.8zM315.3 846.6h4.5v3.4h-4.5zM319.5 842.7h3.6v3.4h-3.6zM319.5 965.7h3.6v3.4h-3.6zM326.1 827.8h5.2v3.4h-5.2zM337 817.7h3v3.4h-3zM108.4 976h12.7v14h-12.7zM464 970h17.4v26.4h-17.4z"/>
<path fill="#404040" d="M277.1 882.9h4.8v3.4h-4.8zM277.1 885.9h4.8v3.4h-4.8zM277.1 888.9h4.8v3.4h-4.8zM277.1 891.9h4.8v3.4h-4.8zM277.1 894.9h4.8v3.4h-4.8zM277.1 897.9h4.8v3.4h-4.8zM277.1 900.9h4.8v3.4h-4.8zM277.1 903.9h4.8v3.4h-4.8zM277.1 906.9h4.8v3.4h-4.8zM277.1 909.9h4.8v3.4h-4.8zM277.1 912.9h4.8v3.4h-4.8zM277.1 915.9h4.8v3.4h-4.8zM277.1 918.9h4.8v3.4h-4.8zM277.1 921.9h4.8v3.4h-4.8zM277.1 924.9h4.8v3.4h-4.8zM277.1 927.9h4.8v3.4h-4.8zM277.1 930.9h4.8v3.4h-4.8zM277.1 933.9h4.8v3.4h-4.8zM277.1 936.9h4.8v3.4h-4.8zM277.1 939.9h4.8v3.4h-4.8zM277.1 942.9h4.8v3.4h-4.8zM286.1 874.2h3.1v3.4h-3.1zM288.8 873h4.9v3.4h-4.9zM296.3 873.6h4.4v3.4h-4.4zM300.3 870.7h4.5v3.4h-4.5zM304.4 863.5h4.6v3.4h-4.6zM330.9 826.8h3.1v3.4h-3.1zM333.6 820.7h3.8v3.4h-3.8zM133.1 963h13.3v3.9h-13.3z"/>
<path fill="#464646" d="M281.5 878.4h5v3.4h-5zM281.5 947.4h5v3.4h-5zM288.8 876h4.9v3.4h-4.9zM293.3 871.7h3.4v3.4h-3.4zM293.3 949.7h3.4v3.4h-3.4zM296.3 948.6h4.4v3.4h-4.4zM304.4 866.5h4.6v3.4h-4.6zM304.4 953.5h4.6v3.4h-4.6zM308.6 862.7h3.7v3.4h-3.7zM308.6 955.7h3.7v3.4h-3.7zM319.5 845.7h3.6v3.4h-3.6zM322.7 835.8h3.8v3.4h-3.8zM368.1 968.3h1.8v57.6h-1.8z"/>
<path fill="#4c4c4c" d="M286.1 877.2h3.1v3.4h-3.1zM288.8 948h4.9v3.4h-4.9zM296.3 876.6h4.4v3.4h-4.4zM296.3 879.6h4.4v3.4h-4.4zM296.3 882.6h4.4v3.4h-4.4zM296.3 885.6h4.4v3.4h-4.4zM296.3 888.6h4.4v3.4h-4.4zM296.3 891.6h4.4v3.4h-4.4zM296.3 894.6h4.4v3.4h-4.4zM296.3 897.6h4.4v3.4h-4.4zM296.3 900.6h4.4v3.4h-4.4zM296.3 903.6h4.4v3.4h-4.4zM296.3 906.6h4.4v3.4h-4.4zM296.3 909.6h4.4v3.4h-4.4zM296.3 912.6h4.4v3.4h-4.4zM296.3 915.6h4.4v3.4h-4.4zM296.3 918.6h4.4v3.4h-4.4zM296.3 921.6h4.4v3.4h-4.4zM296.3 924.6h4.4v3.4h-4.4zM296.3 927.6h4.4v3.4h-4.4zM296.3 930.6h4.4v3.4h-4.4zM296.3 933.6h4.4v3.4h-4.4zM296.3 936.6h4.4v3.4h-4.4zM296.3 939.6h4.4v3.4h-4.4zM296.3 942.6h4.4v3.4h-4.4zM296.3 945.6h4.4v3.4h-4.4zM300.3 873.7h4.5v3.4h-4.5zM300.3 876.7h4.5v3.4h-4.5zM300.3 879.7h4.5v3.4h-4.5zM300.3 882.7h4.5v3.4h-4.5zM300.3 885.7h4.5v3.4h-4.5zM300.3 888.7h4.5v3.4h-4.5zM300.3 891.7h4.5v3.4h-4.5zM300.3 894.7h4.5v3.4h-4.5zM300.3 897.7h4.5v3.4h-4.5zM300.3 900.7h4.5v3.4h-4.5zM300.3 903.7h4.5v3.4h-4.5zM300.3 906.7h4.5v3.4h-4.5zM300.3 909.7h4.5v3.4h-4.5zM300.3 912.7h4.5v3.4h-4.5zM300.3 915.7h4.5v3.4h-4.5zM300.3 918.7h4.5v3.4h-4.5zM300.3 921.7h4.5v3.4h-4.5zM300.3 924.7h4.5v3.4h-4.5zM300.3 927.7h4.5v3.4h-4.5zM300.3 930.7h4.5v3.4h-4.5zM300.3 933.7h4.5v3.4h-4.5zM300.3 936.7h4.5v3.4h-4.5zM300.3 939.7h4.5v3.4h-4.5zM300.3 942.7h4.5v3.4h-4.5zM300.3 945.7h4.5v3.4h-4.5zM300.3 948.7h4.5v3.4h-4.5zM311.9 853.4h3.8v3.4h-3.8zM315.3 849.6h4.5v3.4h-4.5zM121.2 992.3h12.3v9.1h-12.3z"/>
<path fill="#535353" d="M281.5 881.4h5v3.4h-5zM281.5 884.4h5v3.4h-5zM281.5 887.4h5v3.4h-5zM281.5 890.4h5v3.4h-5zM281.5 893.4h5v3.4h-5zM281.5 896.4h5v3.4h-5zM281.5 899.4h5v3.4h-5zM281.5 902.4h5v3.4h-5zM281.5 905.4h5v3.4h-5zM281.5 908.4h5v3.4h-5zM281.5 911.4h5v3.4h-5zM281.5 914.4h5v3.4h-5zM281.5 917.4h5v3.4h-5zM281.5 920.4h5v3.4h-5zM281.5 923.4h5v3.4h-5zM281.5 926.4h5v3.4h-5zM281.5 929.4h5v3.4h-5zM281.5 932.4h5v3.4h-5zM281.5 935.4h5v3.4h-5zM281.5 938.4h5v3.4h-5zM281.5 941.4h5v3.4h-5zM281.5 944.4h5v3.4h-5zM288.8 879h4.9v3.4h-4.9zM288.8 882h4.9v3.4h-4.9zM288.8 885h4.9v3.4h-4.9zM288.8 888h4.9v3.4h-4.9zM288.8 891h4.9v3.4h-4.9zM288.8 894h4.9v3.4h-4.9zM288.8 897h4.9v3.4h-4.9zM288.8 900h4.9v3.4h-4.9zM288.8 903h4.9v3.4h-4.9zM288.8 906h4.9v3.4h-4.9zM288.8 909h4.9v3.4h-4.9zM288.8 912h4.9v3.4h-4.9zM288.8 915h4.9v3.4h-4.9zM288.8 918h4.9v3.4h-4.9zM288.8 921h4.9v3.4h-4.9zM288.8 924h4.9v3.4h-4.9zM288.8 927h4.9v3.4h-4.9zM288.8 930h4.9v3.4h-4.9zM288.8 933h4.9v3.4h-4.9zM288.8 936h4.9v3.4h-4.9zM288.8 939h4.9v3.4h-4.9zM288.8 942h4.9v3.4h-4.9zM288.8 945h4.9v3.4h-4.9zM293.3 874.7h3.4v3.4h-3.4zM304.4 869.5h4.6v3.4h-4.6zM308.6 865.7h3.7v3.4h-3.7zM308.6 868.7h3.7v3.4h-3.7zM308.6 871.7h3.7v3.4h-3.7zM308.6 874.7h3.7v3.4h-3.7zM308.6 877.7h3.7v3.4h-3.7zM308.6 880.7h3.7v3.4h-3.7zM308.6 883.7h3.7v3.4h-3.7zM308.6 886.7h3.7v3.4h-3.7zM308.6 889.7h3.7v3.4h-3.7zM308.6 892.7h3.7v3.4h-3.7zM308.6 895.7h3.7v3.4h-3.7zM308.6 898.7h3.7v3.4h-3.7zM308.6 901.7h3.7v3.4h-3.7zM308.6 904.7h3.7v3.4h-3.7zM308.6 907.7h3.7v3.4h-3.7zM308.6 910.7h3.7v3.4h-3.7zM308.6 913.7h3.7v3.4h-3.7zM308.6 916.7h3.7v3.4h-3.7zM308.6 919.7h3.7v3.4h-3.7zM308.6 922.7h3.7v3.4h-3.7zM308.6 925.7h3.7v3.4h-3.7zM308.6 928.7h3.7v3.4h-3.7zM308.6 931.7h3.7v3.4h-3.7zM308.6 934.7h3.7v3.4h-3.7zM308.6 937.7h3.7v3.4h-3.7zM308.6 940.7h3.7v3.4h-3.7zM308.6 943.7h3.7v3.4h-3.7zM308.6 946.7h3.7v3.4h-3.7zM308.6 949.7h3.7v3.4h-3.7zM308.6 952.7h3.7v3.4h-3.7zM319.5 848.7h3.6v3.4h-3.6zM326.1 830.8h5.2v3.4h-5.2zM333.6 982.7h3.8v3.4h-3.8zM337 820.7h3v3.4h-3z"/>
<path fill="#595959" d="M286.1 880.2h3.1v3.4h-3.1zM286.1 883.2h3.1v3.4h-3.1zM286.1 886.2h3.1v3.4h-3.1zM286.1 889.2h3.1v3.4h-3.1zM286.1 892.2h3.1v3.4h-3.1zM286.1 895.2h3.1v3.4h-3.1zM286.1 898.2h3.1v3.4h-3.1zM286.1 901.2h3.1v3.4h-3.1zM286.1 904.2h3.1v3.4h-3.1zM286.1 907.2h3.1v3.4h-3.1zM286.1 910.2h3.1v3.4h-3.1zM286.1 913.2h3.1v3.4h-3.1zM286.1 916.2h3.1v3.4h-3.1zM286.1 919.2h3.1v3.4h-3.1zM286.1 922.2h3.1v3.4h-3.1zM286.1 925.2h3.1v3.4h-3.1zM286.1 928.2h3.1v3.4h-3.1zM286.1 931.2h3.1v3.4h-3.1zM286.1 934.2h3.1v3.4h-3.1zM286.1 937.2h3.1v3.4h-3.1zM286.1 940.2h3.1v3.4h-3.1zM286.1 943.2h3.1v3.4h-3.1zM286.1 946.2h3.1v3.4h-3.1zM304.4 872.5h4.6v3.4h-4.6zM304.4 875.5h4.6v3.4h-4.6zM304.4 878.5h4.6v3.4h-4.6zM304.4 881.5h4.6v3.4h-4.6zM304.4 884.5h4.6v3.4h-4.6zM304.4 887.5h4.6v3.4h-4.6zM304.4 890.5h4.6v3.4h-4.6zM304.4 893.5h4.6v3.4h-4.6zM304.4 896.5h4.6v3.4h-4.6zM304.4 899.5h4.6v3.4h-4.6zM304.4 902.5h4.6v3.4h-4.6zM304.4 905.5h4.6v3.4h-4.6zM304.4 908.5h4.6v3.4h-4.6zM304.4 911.5h4.6v3.4h-4.6zM304.4 914.5h4.6v3.4h-4.6zM304.4 917.5h4.6v3.4h-4.6zM304.4 920.5h4.6v3.4h-4.6zM304.4 923.5h4.6v3.4h-4.6zM304.4 926.5h4.6v3.4h-4.6zM304.4 929.5h4.6v3.4h-4.6zM304.4 932.5h4.6v3.4h-4.6zM304.4 935.5h4.6v3.4h-4.6zM304.4 938.5h4.6v3.4h-4.6zM304.4 941.5h4.6v3.4h-4.6zM304.4 944.5h4.6v3.4h-4.6zM304.4 947.5h4.6v3.4h-4.6zM304.4 950.5h4.6v3.4h-4.6zM322.7 838.8h3.8v3.4h-3.8zM330.9 829.8h3.1v3.4h-3.1zM133.1 1001h13.3v7.8h-13.3zM108 1024h25.4v1.9h-25.4zM467 990h5.4v6.4h-5.4zM367.2 974.5h1.6v51.4h-1.6zM356.2 997.8h1.8v28.1h-1.8z"/>
<path fill="#606060" d="M293.3 877.7h3.4v3.4h-3.4zM311.9 856.4h3.8v3.4h-3.8zM311.9 958.4h3.8v3.4h-3.8zM315.3 852.6h4.5v3.4h-4.5zM330.9 976.8h3.1v3.4h-3.1zM333.6 823.7h3.8v3.4h-3.8zM359.9 997.1h2.1v28.8h-2.1zM409.5 980.2h1.8v45.7h-1.8z"/>
<path fill="#666666" d="M293.3 880.7h3.4v3.4h-3.4zM293.3 883.7h3.4v3.4h-3.4zM293.3 886.7h3.4v3.4h-3.4zM293.3 889.7h3.4v3.4h-3.4zM293.3 892.7h3.4v3.4h-3.4zM293.3 895.7h3.4v3.4h-3.4zM293.3 898.7h3.4v3.4h-3.4zM293.3 901.7h3.4v3.4h-3.4zM293.3 904.7h3.4v3.4h-3.4zM293.3 907.7h3.4v3.4h-3.4zM293.3 910.7h3.4v3.4h-3.4zM293.3 913.7h3.4v3.4h-3.4zM293.3 916.7h3.4v3.4h-3.4zM293.3 919.7h3.4v3.4h-3.4zM293.3 922.7h3.4v3.4h-3.4zM293.3 925.7h3.4v3.4h-3.4zM293.3 928.7h3.4v3.4h-3.4zM293.3 931.7h3.4v3.4h-3.4zM293.3 934.7h3.4v3.4h-3.4zM293.3 937.7h3.4v3.4h-3.4zM293.3 940.7h3.4v3.4h-3.4zM293.3 943.7h3.4v3.4h-3.4zM293.3 946.7h3.4v3.4h-3.4zM315.3 960.6h4.5v3.4h-4.5zM319.5 851.7h3.6v3.4h-3.6zM319.5 962.7h3.6v3.4h-3.6zM502 975h5.9v25.4h-5.9zM382.2 981.3h1.6v44.6h-1.6z"/>
<path fill="#6c6c6c" d="M311.9 859.4h3.8v3.4h-3.8zM315.3 855.6h4.5v3.4h-4.5zM322.7 967.8h3.8v3.4h-3.8zM330.9 832.8h3.1v3.4h-3.1zM337 985.7h3v3.4h-3zM390.8 1003.5h2.2v22.4h-2.2z"/>
<path fill="#737373" d="M319.5 854.7h3.6v3.4h-3.6zM322.7 841.8h3.8v3.4h-3.8zM326.1 833.8h5.2v3.4h-5.2zM337 823.7h3v3.4h-3zM489.6 963h6.8v62.4h-6.8zM388.3 990.1h2.2v35.8h-2.2zM404.7 996h2.1v29.9h-2.1zM403.6 985.6h1.7v40.3h-1.7zM409.6 985.7h2.1v40.2h-2.1zM409.2 999.8h2v26.1h-2z"/>
<path fill="#797979" d="M319.5 857.7h3.6v3.4h-3.6zM319.5 860.7h3.6v3.4h-3.6zM319.5 863.7h3.6v3.4h-3.6zM319.5 866.7h3.6v3.4h-3.6zM319.5 869.7h3.6v3.4h-3.6zM319.5 872.7h3.6v3.4h-3.6zM319.5 875.7h3.6v3.4h-3.6zM319.5 878.7h3.6v3.4h-3.6zM319.5 881.7h3.6v3.4h-3.6zM319.5 884.7h3.6v3.4h-3.6zM319.5 887.7h3.6v3.4h-3.6zM319.5 890.7h3.6v3.4h-3.6zM319.5 893.7h3.6v3.4h-3.6zM319.5 896.7h3.6v3.4h-3.6zM319.5 899.7h3.6v3.4h-3.6zM319.5 902.7h3.6v3.4h-3.6zM319.5 905.7h3.6v3.4h-3.6zM319.5 908.7h3.6v3.4h-3.6zM319.5 911.7h3.6v3.4h-3.6zM319.5 914.7h3.6v3.4h-3.6zM319.5 917.7h3.6v3.4h-3.6zM319.5 920.7h3.6v3.4h-3.6zM319.5 923.7h3.6v3.4h-3.6zM319.5 926.7h3.6v3.4h-3.6zM319.5 929.7h3.6v3.4h-3.6zM319.5 932.7h3.6v3.4h-3.6zM319.5 935.7h3.6v3.4h-3.6zM319.5 938.7h3.6v3.4h-3.6zM319.5 941.7h3.6v3.4h-3.6zM319.5 944.7h3.6v3.4h-3.6zM319.5 947.7h3.6v3.4h-3.6zM319.5 950.7h3.6v3.4h-3.6zM319.5 953.7h3.6v3.4h-3.6zM319.5 956.7h3.6v3.4h-3.6zM319.5 959.7h3.6v3.4h-3.6zM326.1 971.8h5.2v3.4h-5.2zM348.6 1000h2.2v25.9h-2.2zM343.5 993.3h1.9v32.6h-1.9zM341.7 992h1.4v33.9h-1.4z"/>
<path fill="#808080" d="M311.9 862.4h3.8v3.4h-3.8zM315.3 858.6h4.5v3.4h-4.5zM333.6 826.7h3.8v3.4h-3.8zM133.1 966.5h13.3v23.9h-13.3zM121.2 1001h12.3v7.8h-12.3zM89.6 1016h6.3v6.1h-6.3zM146 1023.5h9.4v2.4h-9.4zM426.3 978.5h6.6v8.7h-6.6zM515 985h9.4v14.4h-9.4zM574.3 993.7h12.7v11.4h-12.7zM349.2 996h1.7v29.9h-1.7zM364.9 976.3h1.7v49.6h-1.7z"/>
<path fill="#868686" d="M311.9 865.4h3.8v3.4h-3.8zM311.9 868.4h3.8v3.4h-3.8zM311.9 871.4h3.8v3.4h-3.8zM311.9 874.4h3.8v3.4h-3.8zM311.9 877.4h3.8v3.4h-3.8zM311.9 880.4h3.8v3.4h-3.8zM311.9 883.4h3.8v3.4h-3.8zM311.9 886.4h3.8v3.4h-3.8zM311.9 889.4h3.8v3.4h-3.8zM311.9 892.4h3.8v3.4h-3.8zM311.9 895.4h3.8v3.4h-3.8zM311.9 898.4h3.8v3.4h-3.8zM311.9 901.4h3.8v3.4h-3.8zM311.9 904.4h3.8v3.4h-3.8zM311.9 907.4h3.8v3.4h-3.8zM311.9 910.4h3.8v3.4h-3.8zM311.9 913.4h3.8v3.4h-3.8zM311.9 916.4h3.8v3.4h-3.8zM311.9 919.4h3.8v3.4h-3.8zM311.9 922.4h3.8v3.4h-3.8zM311.9 925.4h3.8v3.4h-3.8zM311.9 928.4h3.8v3.4h-3.8zM311.9 931.4h3.8v3.4h-3.8zM311.9 934.4h3.8v3.4h-3.8zM311.9 937.4h3.8v3.4h-3.8zM311.9 940.4h3.8v3.4h-3.8zM311.9 943.4h3.8v3.4h-3.8zM311.9 946.4h3.8v3.4h-3.8zM311.9 949.4h3.8v3.4h-3.8zM311.9 952.4h3.8v3.4h-3.8zM311.9 955.4h3.8v3.4h-3.8zM315.3 861.6h4.5v3.4h-4.5zM315.3 864.6h4.5v3.4h-4.5zM315.3 867.6h4.5v3.4h-4.5zM315.3 870.6h4.5v3.4h-4.5zM315.3 873.6h4.5v3.4h-4.5zM315.3 876.6h4.5v3.4h-4.5zM315.3 879.6h4.5v3.4h-4.5zM315.3 882.6h4.5v3.4h-4.5zM315.3 885.6h4.5v3.4h-4.5zM315.3 888.6h4.5v3.4h-4.5zM315.3 891.6h4.5v3.4h-4.5zM315.3 894.6h4.5v3.4h-4.5zM315.3 897.6h4.5v3.4h-4.5zM315.3 900.6h4.5v3.4h-4.5zM315.3 903.6h4.5v3.4h-4.5zM315.3 906.6h4.5v3.4h-4.5zM315.3 909.6h4.5v3.4h-4.5zM315.3 912.6h4.5v3.4h-4.5zM315.3 915.6h4.5v3.4h-4.5zM315.3 918.6h4.5v3.4h-4.5zM315.3 921.6h4.5v3.4h-4.5zM315.3 924.6h4.5v3.4h-4.5zM315.3 927.6h4.5v3.4h-4.5zM315.3 930.6h4.5v3.4h-4.5zM315.3 933.6h4.5v3.4h-4.5zM315.3 936.6h4.5v3.4h-4.5zM315.3 939.6h4.5v3.4h-4.5zM315.3 942.6h4.5v3.4h-4.5zM315.3 945.6h4.5v3.4h-4.5zM315.3 948.6h4.5v3.4h-4.5zM315.3 951.6h4.5v3.4h-4.5zM315.3 954.6h4.5v3.4h-4.5zM315.3 957.6h4.5v3.4h-4.5zM330.9 835.8h3.1v3.4h-3.1zM133.1 1018h13.3v4.1h-13.3zM341.8 987.8h1.9v38.1h-1.9zM340.5 998.7h1.6v27.2h-1.6zM369.5 979.5h1.7v46.4h-1.7zM379.2 1004.6h1.6v21.3h-1.6z"/>
<path fill="#8c8c8c" d="M322.7 844.8h3.8v3.4h-3.8zM438.7 984h6.7v8.4h-6.7zM445 1017h6.9v7.4h-6.9zM507.5 967.5h7.3v22.4h-7.3zM342.4 990.6h1.8v35.3h-1.8z"/>
<path fill="#939393" d="M326.1 836.8h5.2v3.4h-5.2zM337 826.7h3v3.4h-3zM380.1 991.6h1.3v34.3h-1.3z"/>
<path fill="#999999" d="M515 1015h9.4v8h-9.4zM339.1 992.8h1.6v33.1h-1.6zM409.6 996.1h1.6v29.8h-1.6z"/>
<path fill="#9f9f9f" d="M330.9 838.8h3.1v3.4h-3.1zM133.1 990h13.3v11.4h-13.3zM496 965h6.4v50.4h-6.4zM489.6 1015h6.8v10.4h-6.8zM391.8 987.3h1.5v38.6h-1.5zM405.4 996.1h1.6v29.8h-1.6zM378 1014h35.4v11.9h-35.4z"/>
<path fill="#a6a6a6" d="M322.7 847.8h3.8v3.4h-3.8zM330.9 973.8h3.1v3.4h-3.1zM333.6 829.7h3.8v3.4h-3.8zM464 1014h5.4v11.4h-5.4z"/>
<path fill="#acacac" d="M410.5 1004.9h1.7v21h-1.7z"/>
<path fill="#b2b2b2" d="M326.1 839.8h5.2v3.4h-5.2zM337 829.7h3v3.4h-3zM391.1 989.1h1.6v36.8h-1.6zM403.1 995.7h1.6v30.2h-1.6z"/>
<path fill="#b9b9b9" d="M322.7 964.8h3.8v3.4h-3.8zM330.9 841.8h3.1v3.4h-3.1zM346 994h1.9v31.9h-1.9zM342.2 998.9h1.7v27h-1.7z"/>
<path fill="#bfbfbf" d="M322.7 850.8h3.8v3.4h-3.8zM330.9 844.8h3.1v3.4h-3.1zM330.9 847.8h3.1v3.4h-3.1zM330.9 850.8h3.1v3.4h-3.1zM330.9 853.8h3.1v3.4h-3.1zM330.9 856.8h3.1v3.4h-3.1zM330.9 859.8h3.1v3.4h-3.1zM330.9 862.8h3.1v3.4h-3.1zM330.9 865.8h3.1v3.4h-3.1zM330.9 868.8h3.1v3.4h-3.1zM330.9 871.8h3.1v3.4h-3.1zM330.9 874.8h3.1v3.4h-3.1zM330.9 877.8h3.1v3.4h-3.1zM330.9 880.8h3.1v3.4h-3.1zM330.9 883.8h3.1v3.4h-3.1zM330.9 886.8h3.1v3.4h-3.1zM330.9 889.8h3.1v3.4h-3.1zM330.9 892.8h3.1v3.4h-3.1zM330.9 895.8h3.1v3.4h-3.1zM330.9 898.8h3.1v3.4h-3.1zM330.9 901.8h3.1v3.4h-3.1zM330.9 904.8h3.1v3.4h-3.1zM330.9 907.8h3.1v3.4h-3.1zM330.9 910.8h3.1v3.4h-3.1zM330.9 913.8h3.1v3.4h-3.1zM330.9 916.8h3.1v3.4h-3.1zM330.9 919.8h3.1v3.4h-3.1zM330.9 922.8h3.1v3.4h-3.1zM330.9 925.8h3.1v3.4h-3.1zM330.9 928.8h3.1v3.4h-3.1zM330.9 931.8h3.1v3.4h-3.1zM330.9 934.8h3.1v3.4h-3.1zM330.9 937.8h3.1v3.4h-3.1zM330.9 940.8h3.1v3.4h-3.1zM330.9 943.8h3.1v3.4h-3.1zM330.9 946.8h3.1v3.4h-3.1zM330.9 949.8h3.1v3.4h-3.1zM330.9 952.8h3.1v3.4h-3.1zM330.9 955.8h3.1v3.4h-3.1zM330.9 958.8h3.1v3.4h-3.1zM330.9 961.8h3.1v3.4h-3.1zM330.9 964.8h3.1v3.4h-3.1zM330.9 967.8h3.1v3.4h-3.1zM330.9 970.8h3.1v3.4h-3.1zM333.6 979.7h3.8v3.4h-3.8zM496 1017h6.4v8.4h-6.4z"/>
<path fill="#c6c6c6" d="M322.7 853.8h3.8v3.4h-3.8zM322.7 856.8h3.8v3.4h-3.8zM322.7 859.8h3.8v3.4h-3.8zM322.7 862.8h3.8v3.4h-3.8zM322.7 865.8h3.8v3.4h-3.8zM322.7 868.8h3.8v3.4h-3.8zM322.7 871.8h3.8v3.4h-3.8zM322.7 874.8h3.8v3.4h-3.8zM322.7 877.8h3.8v3.4h-3.8zM322.7 880.8h3.8v3.4h-3.8zM322.7 883.8h3.8v3.4h-3.8zM322.7 886.8h3.8v3.4h-3.8zM322.7 889.8h3.8v3.4h-3.8zM322.7 892.8h3.8v3.4h-3.8zM322.7 895.8h3.8v3.4h-3.8zM322.7 898.8h3.8v3.4h-3.8zM322.7 901.8h3.8v3.4h-3.8zM322.7 904.8h3.8v3.4h-3.8zM322.7 907.8h3.8v3.4h-3.8zM322.7 910.8h3.8v3.4h-3.8zM322.7 913.8h3.8v3.4h-3.8zM322.7 916.8h3.8v3.4h-3.8zM322.7 919.8h3.8v3.4h-3.8zM322.7 922.8h3.8v3.4h-3.8zM322.7 925.8h3.8v3.4h-3.8zM322.7 928.8h3.8v3.4h-3.8zM322.7 931.8h3.8v3.4h-3.8zM322.7 934.8h3.8v3.4h-3.8zM322.7 937.8h3.8v3.4h-3.8zM322.7 940.8h3.8v3.4h-3.8zM322.7 943.8h3.8v3.4h-3.8zM322.7 946.8h3.8v3.4h-3.8zM322.7 949.8h3.8v3.4h-3.8zM322.7 952.8h3.8v3.4h-3.8zM322.7 955.8h3.8v3.4h-3.8zM322.7 958.8h3.8v3.4h-3.8zM322.7 961.8h3.8v3.4h-3.8zM333.6 832.7h3.8v3.4h-3.8z"/>
<path fill="#cccccc" d="M337 982.7h3v3.4h-3z"/>
<path fill="#d2d2d2" d="M326.1 842.8h5.2v3.4h-5.2zM326.1 968.8h5.2v3.4h-5.2zM337 832.7h3v3.4h-3z"/>
<path fill="#ececec" d="M333.6 835.7h3.8v3.4h-3.8z"/>
<path fill="#f2f2f2" d="M326.1 845.8h5.2v3.4h-5.2zM337 835.7h3v3.4h-3z"/>
<path fill="#f9f9f9" d="M326.1 848.8h5.2v3.4h-5.2zM326.1 851.8h5.2v3.4h-5.2zM326.1 854.8h5.2v3.4h-5.2zM326.1 857.8h5.2v3.4h-5.2zM326.1 860.8h5.2v3.4h-5.2zM326.1 863.8h5.2v3.4h-5.2zM326.1 866.8h5.2v3.4h-5.2zM326.1 869.8h5.2v3.4h-5.2zM326.1 872.8h5.2v3.4h-5.2zM326.1 875.8h5.2v3.4h-5.2zM326.1 878.8h5.2v3.4h-5.2zM326.1 881.8h5.2v3.4h-5.2zM326.1 884.8h5.2v3.4h-5.2zM326.1 887.8h5.2v3.4h-5.2zM326.1 890.8h5.2v3.4h-5.2zM326.1 893.8h5.2v3.4h-5.2zM326.1 896.8h5.2v3.4h-5.2zM326.1 899.8h5.2v3.4h-5.2zM326.1 902.8h5.2v3.4h-5.2zM326.1 905.8h5.2v3.4h-5.2zM326.1 908.8h5.2v3.4h-5.2zM326.1 911.8h5.2v3.4h-5.2zM326.1 914.8h5.2v3.4h-5.2zM326.1 917.8h5.2v3.4h-5.2zM326.1 920.8h5.2v3.4h-5.2zM326.1 923.8h5.2v3.4h-5.2zM326.1 926.8h5.2v3.4h-5.2zM326.1 929.8h5.2v3.4h-5.2zM326.1 932.8h5.2v3.4h-5.2zM326.1 935.8h5.2v3.4h-5.2zM326.1 938.8h5.2v3.4h-5.2zM326.1 941.8h5.2v3.4h-5.2zM326.1 944.8h5.2v3.4h-5.2zM326.1 947.8h5.2v3.4h-5.2zM326.1 950.8h5.2v3.4h-5.2zM326.1 953.8h5.2v3.4h-5.2zM326.1 956.8h5.2v3.4h-5.2zM326.1 959.8h5.2v3.4h-5.2zM326.1 962.8h5.2v3.4h-5.2zM326.1 965.8h5.2v3.4h-5.2zM337 838.7h3v3.4h-3zM337 841.7h3v3.4h-3zM337 844.7h3v3.4h-3zM337 847.7h3v3.4h-3zM337 850.7h3v3.4h-3zM337 853.7h3v3.4h-3zM337 856.7h3v3.4h-3zM337 859.7h3v3.4h-3zM337 862.7h3v3.4h-3zM337 865.7h3v3.4h-3zM337 868.7h3v3.4h-3zM337 871.7h3v3.4h-3zM337 874.7h3v3.4h-3zM337 877.7h3v3.4h-3zM337 880.7h3v3.4h-3zM337 883.7h3v3.4h-3zM337 886.7h3v3.4h-3zM337 889.7h3v3.4h-3zM337 892.7h3v3.4h-3zM337 895.7h3v3.4h-3zM337 898.7h3v3.4h-3zM337 901.7h3v3.4h-3zM337 904.7h3v3.4h-3zM337 907.7h3v3.4h-3zM337 910.7h3v3.4h-3zM337 913.7h3v3.4h-3zM337 916.7h3v3.4h-3zM337 919.7h3v3.4h-3zM337 922.7h3v3.4h-3zM337 925.7h3v3.4h-3zM337 928.7h3v3.4h-3zM337 931.7h3v3.4h-3zM337 934.7h3v3.4h-3zM337 937.7h3v3.4h-3zM337 940.7h3v3.4h-3zM337 943.7h3v3.4h-3zM337 946.7h3v3.4h-3zM337 949.7h3v3.4h-3zM337 952.7h3v3.4h-3zM337 955.7h3v3.4h-3zM337 958.7h3v3.4h-3zM337 961.7h3v3.4h-3zM337 964.7h3v3.4h-3zM337 967.7h3v3.4h-3zM337 970.7h3v3.4h-3zM337 973.7h3v3.4h-3zM337 976.7h3v3.4h-3zM337 979.7h3v3.4h-3z"/>
<path fill="#ffffff" d="M333.6 838.7h3.8v3.4h-3.8zM333.6 841.7h3.8v3.4h-3.8zM333.6 844.7h3.8v3.4h-3.8zM333.6 847.7h3.8v3.4h-3.8zM333.6 850.7h3.8v3.4h-3.8zM333.6 853.7h3.8v3.4h-3.8zM333.6 856.7h3.8v3.4h-3.8zM333.6 859.7h3.8v3.4h-3.8zM333.6 862.7h3.8v3.4h-3.8zM333.6 865.7h3.8v3.4h-3.8zM333.6 868.7h3.8v3.4h-3.8zM333.6 871.7h3.8v3.4h-3.8zM333.6 874.7h3.8v3.4h-3.8zM333.6 877.7h3.8v3.4h-3.8zM333.6 880.7h3.8v3.4h-3.8zM333.6 883.7h3.8v3.4h-3.8zM333.6 886.7h3.8v3.4h-3.8zM333.6 889.7h3.8v3.4h-3.8zM333.6 892.7h3.8v3.4h-3.8zM333.6 895.7h3.8v3.4h-3.8zM333.6 898.7h3.8v3.4h-3.8zM333.6 901.7h3.8v3.4h-3.8zM333.6 904.7h3.8v3.4h-3.8zM333.6 907.7h3.8v3.4h-3.8zM333.6 910.7h3.8v3.4h-3.8zM333.6 913.7h3.8v3.4h-3.8zM333.6 916.7h3.8v3.4h-3.8zM333.6 919.7h3.8v3.4h-3.8zM333.6 922.7h3.8v3.4h-3.8zM333.6 925.7h3.8v3.4h-3.8zM333.6 928.7h3.8v3.4h-3.8zM333.6 931.7h3.8v3.4h-3.8zM333.6 934.7h3.8v3.4h-3.8zM333.6 937.7h3.8v3.4h-3.8zM333.6 940.7h3.8v3.4h-3.8zM333.6 943.7h3.8v3.4h-3.8zM333.6 946.7h3.8v3.4h-3.8zM333.6 949.7h3.8v3.4h-3.8zM333.6 952.7h3.8v3.4h-3.8zM333.6 955.7h3.8v3.4h-3.8zM333.6 958.7h3.8v3.4h-3.8zM333.6 961.7h3.8v3.4h-3.8zM333.6 964.7h3.8v3.4h-3.8zM333.6 967.7h3.8v3.4h-3.8zM333.6 970.7h3.8v3.4h-3.8zM333.6 973.7h3.8v3.4h-3.8zM333.6 976.7h3.8v3.4h-3.8z"/>
</g>
<rect x="329.5" y="1022" width="24" height="4" fill="url(#gB50)" fill-opacity="0.300"/><rect x="329.5" y="1019" width="24" height="3" fill="url(#gB50)" fill-opacity="0.300"/><rect x="329.5" y="1016" width="24" height="3" fill="url(#gB50)" fill-opacity="0.300"/><rect x="329.5" y="1013" width="24" height="3" fill="url(#gB50)" fill-opacity="0.300"/><rect x="329.5" y="1010" width="24" height="3" fill="url(#gB50)" fill-opacity="0.300"/><rect x="329.5" y="1007" width="24" height="3" fill="url(#gB50)" fill-opacity="0.300"/><rect x="329.5" y="1004" width="24" height="3" fill="url(#gB50)" fill-opacity="0.316"/><rect x="329.5" y="1001" width="24" height="3" fill="url(#gB50)" fill-opacity="0.380"/><rect x="329.5" y="998" width="24" height="3" fill="url(#gB50)" fill-opacity="0.444"/><rect x="329.26" y="995" width="24.48" height="3" fill="url(#gB50)" fill-opacity="0.505"/><rect x="327.34" y="992" width="28.32" height="3" fill="url(#gB50)" fill-opacity="0.546"/><rect x="325.42" y="989" width="32.16" height="3" fill="url(#gB50)" fill-opacity="0.587"/><rect x="323.5" y="986" width="36" height="3" fill="url(#gB50)" fill-opacity="0.629"/><rect x="321.53" y="983" width="39.84" height="3" fill="url(#gB50)" fill-opacity="0.670"/><rect x="319.55" y="980" width="43.68" height="3" fill="url(#gB50)" fill-opacity="0.694"/><rect x="317.58" y="977" width="47.52" height="3" fill="url(#gB50)" fill-opacity="0.714"/><rect x="316.03" y="974" width="50.52" height="3" fill="url(#gB50)" fill-opacity="0.733"/><rect x="314.53" y="971" width="53.4" height="3" fill="url(#gB50)" fill-opacity="0.752"/><rect x="313.04" y="968" width="56.28" height="3" fill="url(#gB50)" fill-opacity="0.771"/><rect x="311.55" y="965" width="59.16" height="3" fill="url(#gB50)" fill-opacity="0.790"/><rect x="310.05" y="962" width="62.04" height="3" fill="url(#gB50)" fill-opacity="0.804"/><rect x="308.56" y="959" width="64.92" height="3" fill="url(#gB50)" fill-opacity="0.813"/><rect x="307.33" y="956" width="67.1" height="3" fill="url(#gB50)" fill-opacity="0.822"/><rect x="306.27" y="953" width="68.86" height="3" fill="url(#gB50)" fill-opacity="0.831"/><rect x="305.2" y="950" width="70.62" height="3" fill="url(#gB50)" fill-opacity="0.840"/><rect x="304.13" y="947" width="72.38" height="3" fill="url(#gB50)" fill-opacity="0.849"/><rect x="303.07" y="944" width="74.14" height="3" fill="url(#gB50)" fill-opacity="0.858"/><rect x="302" y="941" width="75.9" height="3" fill="url(#gB51)" fill-opacity="0.867"/><rect x="300.93" y="938" width="77.66" height="3" fill="url(#gB51)" fill-opacity="0.876"/><rect x="299.87" y="935" width="79.42" height="3" fill="url(#gB51)" fill-opacity="0.884"/><rect x="298.8" y="932" width="81.18" height="3" fill="url(#gB51)" fill-opacity="0.893"/><rect x="297.75" y="929" width="82.89" height="3" fill="url(#gB51)" fill-opacity="0.900"/><rect x="296.75" y="926" width="84.45" height="3" fill="url(#gB51)" fill-opacity="0.900"/><rect x="295.76" y="923" width="86.01" height="3" fill="url(#gB51)" fill-opacity="0.901"/><rect x="294.76" y="920" width="87.57" height="3" fill="url(#gB52)" fill-opacity="0.901"/><rect x="293.76" y="917" width="89.13" height="3" fill="url(#gB52)" fill-opacity="0.902"/><rect x="292.76" y="914" width="90.69" height="3" fill="url(#gB52)" fill-opacity="0.902"/><rect x="291.77" y="911" width="92.25" height="3" fill="url(#gB52)" fill-opacity="0.902"/><rect x="290.77" y="908" width="93.81" height="3" fill="url(#gB52)" fill-opacity="0.903"/><rect x="289.77" y="905" width="95.37" height="3" fill="url(#gB52)" fill-opacity="0.903"/><rect x="288.77" y="902" width="96.93" height="3" fill="url(#gB52)" fill-opacity="0.903"/><rect x="287.78" y="899" width="98.49" height="3" fill="url(#gB53)" fill-opacity="0.904"/><rect x="286.78" y="896" width="100.05" height="3" fill="url(#gB53)" fill-opacity="0.904"/><rect x="285.78" y="893" width="101.61" height="3" fill="url(#gB53)" fill-opacity="0.904"/><rect x="285.03" y="890" width="102.48" height="3" fill="url(#gB53)" fill-opacity="0.905"/><rect x="284.35" y="887" width="103.12" height="3" fill="url(#gB53)" fill-opacity="0.905"/><rect x="283.67" y="884" width="103.76" height="3" fill="url(#gB54)" fill-opacity="0.905"/><rect x="282.99" y="881" width="104.4" height="3" fill="url(#gB54)" fill-opacity="0.906"/><rect x="282.32" y="878" width="105.04" height="3" fill="url(#gB54)" fill-opacity="0.906"/><rect x="281.64" y="875" width="105.68" height="3" fill="url(#gB55)" fill-opacity="0.906"/><rect x="280.99" y="872" width="106.32" height="3" fill="url(#gB55)" fill-opacity="0.907"/><rect x="280.36" y="869" width="106.96" height="3" fill="url(#gB55)" fill-opacity="0.907"/><rect x="279.71" y="866" width="107.62" height="3" fill="url(#gB55)" fill-opacity="0.908"/><rect x="279.56" y="862" width="107.78" height="4" fill="url(#gB55)" fill-opacity="0.908"/><rect x="280.09" y="859" width="107.27" height="3" fill="url(#gB55)" fill-opacity="0.908"/><rect x="280.63" y="856" width="106.74" height="3" fill="url(#gB55)" fill-opacity="0.909"/><rect x="281.19" y="852" width="106.19" height="4" fill="url(#gB55)" fill-opacity="0.909"/><rect x="281.77" y="849" width="105.63" height="3" fill="url(#gB55)" fill-opacity="0.910"/><rect x="282.36" y="845" width="105.05" height="4" fill="url(#gB54)" fill-opacity="0.910"/><rect x="282.96" y="841" width="104.46" height="4" fill="url(#gB54)" fill-opacity="0.910"/><rect x="283.59" y="837" width="103.85" height="4" fill="url(#gB54)" fill-opacity="0.911"/><rect x="284.09" y="833" width="103.36" height="4" fill="url(#gB54)" fill-opacity="0.911"/><rect x="284.43" y="829" width="103.04" height="4" fill="url(#gB53)" fill-opacity="0.912"/><rect x="284.78" y="825" width="102.71" height="4" fill="url(#gB53)" fill-opacity="0.912"/><rect x="285.14" y="821" width="102.37" height="4" fill="url(#gB53)" fill-opacity="0.913"/><rect x="285.51" y="816" width="102.02" height="5" fill="url(#gB53)" fill-opacity="0.913"/><rect x="285.89" y="812" width="101.65" height="4" fill="url(#gB53)" fill-opacity="0.914"/><rect x="286.28" y="807" width="101.28" height="5" fill="url(#gB53)" fill-opacity="0.914"/><rect x="286.69" y="802" width="100.89" height="5" fill="url(#gB52)" fill-opacity="0.915"/><rect x="287.11" y="797" width="100.49" height="5" fill="url(#gB52)" fill-opacity="0.916"/><rect x="288.39" y="792" width="98.13" height="5" fill="url(#gB52)" fill-opacity="0.916"/><rect x="289.71" y="786" width="95.69" height="6" fill="url(#gB52)" fill-opacity="0.917"/><rect x="291.07" y="781" width="93.18" height="5" fill="url(#gB52)" fill-opacity="0.917"/><rect x="292.48" y="775" width="90.58" height="6" fill="url(#gB52)" fill-opacity="0.918"/><rect x="293.93" y="769" width="87.91" height="6" fill="url(#gB52)" fill-opacity="0.919"/><rect x="295.43" y="763" width="85.14" height="6" fill="url(#gB52)" fill-opacity="0.920"/><rect x="296.98" y="757" width="82.28" height="6" fill="url(#gB52)" fill-opacity="0.903"/><rect x="298.58" y="750" width="79.32" height="7" fill="url(#gB52)" fill-opacity="0.849"/><rect x="300.03" y="743" width="76.75" height="7" fill="url(#gB52)" fill-opacity="0.806"/><rect x="301.35" y="736" width="74.46" height="7" fill="url(#gB52)" fill-opacity="0.767"/><rect x="302.72" y="729" width="72.1" height="7" fill="url(#gB52)" fill-opacity="0.726"/><rect x="304.14" y="721" width="69.65" height="8" fill="url(#gB52)" fill-opacity="0.686"/><rect x="305.61" y="714" width="67.12" height="7" fill="url(#gB52)" fill-opacity="0.642"/><rect x="307.14" y="706" width="64.49" height="8" fill="url(#gB52)" fill-opacity="0.602"/><rect x="309.11" y="697" width="61.08" height="9" fill="url(#gB52)" fill-opacity="0.550"/><rect x="311.65" y="689" width="56.67" height="8" fill="url(#gB52)" fill-opacity="0.500"/><rect x="314.29" y="680" width="52.1" height="9" fill="url(#gB52)" fill-opacity="0.462"/><rect x="317.02" y="670" width="47.36" height="10" fill="url(#gB52)" fill-opacity="0.420"/><rect x="319.73" y="661" width="42.65" height="9" fill="url(#gB52)" fill-opacity="0.365"/><rect x="322.05" y="651" width="38.56" height="10" fill="url(#gB52)" fill-opacity="0.294"/><rect x="324.47" y="640" width="34.3" height="11" fill="url(#gB52)" fill-opacity="0.203"/><rect x="326.98" y="629" width="29.88" height="11" fill="url(#gB52)" fill-opacity="0.109"/><rect x="328.1" y="618" width="27.9" height="11" fill="url(#gB52)" fill-opacity="0.028"/>
</g></g>
<defs><linearGradient id="gB50" x1="0" y1="0" x2="1" y2="0"><stop offset="0.000" stop-color="#fff" stop-opacity="0.000"/><stop offset="0.021" stop-color="#fff" stop-opacity="0.000"/><stop offset="0.042" stop-color="#fff" stop-opacity="0.000"/><stop offset="0.062" stop-color="#fff" stop-opacity="0.000"/><stop offset="0.083" stop-color="#fff" stop-opacity="0.000"/><stop offset="0.104" stop-color="#fff" stop-opacity="0.000"/><stop offset="0.125" stop-color="#fff" stop-opacity="0.000"/><stop offset="0.146" stop-color="#fff" stop-opacity="0.000"/><stop offset="0.167" stop-color="#fff" stop-opacity="0.000"/><stop offset="0.188" stop-color="#fff" stop-opacity="0.001"/><stop offset="0.208" stop-color="#fff" stop-opacity="0.005"/><stop offset="0.229" stop-color="#fff" stop-opacity="0.014"/><stop offset="0.250" stop-color="#fff" stop-opacity="0.034"/><stop offset="0.271" stop-color="#fff" stop-opacity="0.074"/><stop offset="0.292" stop-color="#fff" stop-opacity="0.142"/><stop offset="0.312" stop-color="#fff" stop-opacity="0.241"/><stop offset="0.333" stop-color="#fff" stop-opacity="0.368"/><stop offset="0.354" stop-color="#fff" stop-opacity="0.512"/><stop offset="0.375" stop-color="#fff" stop-opacity="0.656"/><stop offset="0.396" stop-color="#fff" stop-opacity="0.783"/><stop offset="0.417" stop-color="#fff" stop-opacity="0.882"/><stop offset="0.438" stop-color="#fff" stop-opacity="0.949"/><stop offset="0.458" stop-color="#fff" stop-opacity="0.984"/><stop offset="0.479" stop-color="#fff" stop-opacity="0.998"/><stop offset="0.500" stop-color="#fff" stop-opacity="1.000"/><stop offset="0.521" stop-color="#fff" stop-opacity="0.998"/><stop offset="0.542" stop-color="#fff" stop-opacity="0.984"/><stop offset="0.562" stop-color="#fff" stop-opacity="0.949"/><stop offset="0.583" stop-color="#fff" stop-opacity="0.882"/><stop offset="0.604" stop-color="#fff" stop-opacity="0.783"/><stop offset="0.625" stop-color="#fff" stop-opacity="0.656"/><stop offset="0.646" stop-color="#fff" stop-opacity="0.512"/><stop offset="0.667" stop-color="#fff" stop-opacity="0.368"/><stop offset="0.688" stop-color="#fff" stop-opacity="0.241"/><stop offset="0.708" stop-color="#fff" stop-opacity="0.142"/><stop offset="0.729" stop-color="#fff" stop-opacity="0.074"/><stop offset="0.750" stop-color="#fff" stop-opacity="0.034"/><stop offset="0.771" stop-color="#fff" stop-opacity="0.014"/><stop offset="0.792" stop-color="#fff" stop-opacity="0.005"/><stop offset="0.812" stop-color="#fff" stop-opacity="0.001"/><stop offset="0.833" stop-color="#fff" stop-opacity="0.000"/><stop offset="0.854" stop-color="#fff" stop-opacity="0.000"/><stop offset="0.875" stop-color="#fff" stop-opacity="0.000"/><stop offset="0.896" stop-color="#fff" stop-opacity="0.000"/><stop offset="0.917" stop-color="#fff" stop-opacity="0.000"/><stop offset="0.938" stop-color="#fff" stop-opacity="0.000"/><stop offset="0.958" stop-color="#fff" stop-opacity="0.000"/><stop offset="0.979" stop-color="#fff" stop-opacity="0.000"/><stop offset="1.000" stop-color="#fff" stop-opacity="0.000"/></linearGradient><linearGradient id="gB51" x1="0" y1="0" x2="1" y2="0"><stop offset="0.000" stop-color="#fff" stop-opacity="0.000"/><stop offset="0.021" stop-color="#fff" stop-opacity="0.000"/><stop offset="0.042" stop-color="#fff" stop-opacity="0.000"/><stop offset="0.062" stop-color="#fff" stop-opacity="0.000"/><stop offset="0.083" stop-color="#fff" stop-opacity="0.000"/><stop offset="0.104" stop-color="#fff" stop-opacity="0.000"/><stop offset="0.125" stop-color="#fff" stop-opacity="0.000"/><stop offset="0.146" stop-color="#fff" stop-opacity="0.000"/><stop offset="0.167" stop-color="#fff" stop-opacity="0.000"/><stop offset="0.188" stop-color="#fff" stop-opacity="0.001"/><stop offset="0.208" stop-color="#fff" stop-opacity="0.004"/><stop offset="0.229" stop-color="#fff" stop-opacity="0.011"/><stop offset="0.250" stop-color="#fff" stop-opacity="0.028"/><stop offset="0.271" stop-color="#fff" stop-opacity="0.062"/><stop offset="0.292" stop-color="#fff" stop-opacity="0.120"/><stop offset="0.312" stop-color="#fff" stop-opacity="0.208"/><stop offset="0.333" stop-color="#fff" stop-opacity="0.326"/><stop offset="0.354" stop-color="#fff" stop-opacity="0.463"/><stop offset="0.375" stop-color="#fff" stop-opacity="0.606"/><stop offset="0.396" stop-color="#fff" stop-opacity="0.739"/><stop offset="0.417" stop-color="#fff" stop-opacity="0.847"/><stop offset="0.438" stop-color="#fff" stop-opacity="0.925"/><stop offset="0.458" stop-color="#fff" stop-opacity="0.972"/><stop offset="0.479" stop-color="#fff" stop-opacity="0.994"/><stop offset="0.500" stop-color="#fff" stop-opacity="1.000"/><stop offset="0.521" stop-color="#fff" stop-opacity="1.000"/><stop offset="0.542" stop-color="#fff" stop-opacity="0.993"/><stop offset="0.562" stop-color="#fff" stop-opacity="0.967"/><stop offset="0.583" stop-color="#fff" stop-opacity="0.913"/><stop offset="0.604" stop-color="#fff" stop-opacity="0.826"/><stop offset="0.625" stop-color="#fff" stop-opacity="0.705"/><stop offset="0.646" stop-color="#fff" stop-opacity="0.563"/><stop offset="0.667" stop-color="#fff" stop-opacity="0.414"/><stop offset="0.688" stop-color="#fff" stop-opacity="0.277"/><stop offset="0.708" stop-color="#fff" stop-opacity="0.167"/><stop offset="0.729" stop-color="#fff" stop-opacity="0.089"/><stop offset="0.750" stop-color="#fff" stop-opacity="0.042"/><stop offset="0.771" stop-color="#fff" stop-opacity="0.017"/><stop offset="0.792" stop-color="#fff" stop-opacity="0.006"/><stop offset="0.812" stop-color="#fff" stop-opacity="0.002"/><stop offset="0.833" stop-color="#fff" stop-opacity="0.000"/><stop offset="0.854" stop-color="#fff" stop-opacity="0.000"/><stop offset="0.875" stop-color="#fff" stop-opacity="0.000"/><stop offset="0.896" stop-color="#fff" stop-opacity="0.000"/><stop offset="0.917" stop-color="#fff" stop-opacity="0.000"/><stop offset="0.938" stop-color="#fff" stop-opacity="0.000"/><stop offset="0.958" stop-color="#fff" stop-opacity="0.000"/><stop offset="0.979" stop-color="#fff" stop-opacity="0.000"/><stop offset="1.000" stop-color="#fff" stop-opacity="0.000"/></linearGradient><linearGradient id="gB52" x1="0" y1="0" x2="1" y2="0"><stop offset="0.000" stop-color="#fff" stop-opacity="0.000"/><stop offset="0.021" stop-color="#fff" stop-opacity="0.000"/><stop offset="0.042" stop-color="#fff" stop-opacity="0.000"/><stop offset="0.062" stop-color="#fff" stop-opacity="0.000"/><stop offset="0.083" stop-color="#fff" stop-opacity="0.000"/><stop offset="0.104" stop-color="#fff" stop-opacity="0.000"/><stop offset="0.125" stop-color="#fff" stop-opacity="0.000"/><stop offset="0.146" stop-color="#fff" stop-opacity="0.000"/><stop offset="0.167" stop-color="#fff" stop-opacity="0.000"/><stop offset="0.188" stop-color="#fff" stop-opacity="0.001"/><stop offset="0.208" stop-color="#fff" stop-opacity="0.003"/><stop offset="0.229" stop-color="#fff" stop-opacity="0.009"/><stop offset="0.250" stop-color="#fff" stop-opacity="0.023"/><stop offset="0.271" stop-color="#fff" stop-opacity="0.051"/><stop offset="0.292" stop-color="#fff" stop-opacity="0.102"/><stop offset="0.312" stop-color="#fff" stop-opacity="0.180"/><stop offset="0.333" stop-color="#fff" stop-opacity="0.287"/><stop offset="0.354" stop-color="#fff" stop-opacity="0.417"/><stop offset="0.375" stop-color="#fff" stop-opacity="0.557"/><stop offset="0.396" stop-color="#fff" stop-opacity="0.692"/><stop offset="0.417" stop-color="#fff" stop-opacity="0.809"/><stop offset="0.438" stop-color="#fff" stop-opacity="0.898"/><stop offset="0.458" stop-color="#fff" stop-opacity="0.956"/><stop offset="0.479" stop-color="#fff" stop-opacity="0.987"/><stop offset="0.500" stop-color="#fff" stop-opacity="0.998"/><stop offset="0.521" stop-color="#fff" stop-opacity="1.000"/><stop offset="0.542" stop-color="#fff" stop-opacity="0.998"/><stop offset="0.562" stop-color="#fff" stop-opacity="0.981"/><stop offset="0.583" stop-color="#fff" stop-opacity="0.940"/><stop offset="0.604" stop-color="#fff" stop-opacity="0.865"/><stop offset="0.625" stop-color="#fff" stop-opacity="0.754"/><stop offset="0.646" stop-color="#fff" stop-opacity="0.615"/><stop offset="0.667" stop-color="#fff" stop-opacity="0.463"/><stop offset="0.688" stop-color="#fff" stop-opacity="0.317"/><stop offset="0.708" stop-color="#fff" stop-opacity="0.196"/><stop offset="0.729" stop-color="#fff" stop-opacity="0.107"/><stop offset="0.750" stop-color="#fff" stop-opacity="0.051"/><stop offset="0.771" stop-color="#fff" stop-opacity="0.021"/><stop offset="0.792" stop-color="#fff" stop-opacity="0.007"/><stop offset="0.812" stop-color="#fff" stop-opacity="0.002"/><stop offset="0.833" stop-color="#fff" stop-opacity="0.001"/><stop offset="0.854" stop-color="#fff" stop-opacity="0.000"/><stop offset="0.875" stop-color="#fff" stop-opacity="0.000"/><stop offset="0.896" stop-color="#fff" stop-opacity="0.000"/><stop offset="0.917" stop-color="#fff" stop-opacity="0.000"/><stop offset="0.938" stop-color="#fff" stop-opacity="0.000"/><stop offset="0.958" stop-color="#fff" stop-opacity="0.000"/><stop offset="0.979" stop-color="#fff" stop-opacity="0.000"/><stop offset="1.000" stop-color="#fff" stop-opacity="0.000"/></linearGradient><linearGradient id="gB53" x1="0" y1="0" x2="1" y2="0"><stop offset="0.000" stop-color="#fff" stop-opacity="0.000"/><stop offset="0.021" stop-color="#fff" stop-opacity="0.000"/><stop offset="0.042" stop-color="#fff" stop-opacity="0.000"/><stop offset="0.062" stop-color="#fff" stop-opacity="0.000"/><stop offset="0.083" stop-color="#fff" stop-opacity="0.000"/><stop offset="0.104" stop-color="#fff" stop-opacity="0.000"/><stop offset="0.125" stop-color="#fff" stop-opacity="0.000"/><stop offset="0.146" stop-color="#fff" stop-opacity="0.000"/><stop offset="0.167" stop-color="#fff" stop-opacity="0.000"/><stop offset="0.188" stop-color="#fff" stop-opacity="0.001"/><stop offset="0.208" stop-color="#fff" stop-opacity="0.002"/><stop offset="0.229" stop-color="#fff" stop-opacity="0.007"/><stop offset="0.250" stop-color="#fff" stop-opacity="0.019"/><stop offset="0.271" stop-color="#fff" stop-opacity="0.043"/><stop offset="0.292" stop-color="#fff" stop-opacity="0.086"/><stop offset="0.312" stop-color="#fff" stop-opacity="0.155"/><stop offset="0.333" stop-color="#fff" stop-opacity="0.252"/><stop offset="0.354" stop-color="#fff" stop-opacity="0.373"/><stop offset="0.375" stop-color="#fff" stop-opacity="0.509"/><stop offset="0.396" stop-color="#fff" stop-opacity="0.645"/><stop offset="0.417" stop-color="#fff" stop-opacity="0.768"/><stop offset="0.438" stop-color="#fff" stop-opacity="0.866"/><stop offset="0.458" stop-color="#fff" stop-opacity="0.935"/><stop offset="0.479" stop-color="#fff" stop-opacity="0.976"/><stop offset="0.500" stop-color="#fff" stop-opacity="0.995"/><stop offset="0.521" stop-color="#fff" stop-opacity="1.000"/><stop offset="0.542" stop-color="#fff" stop-opacity="1.000"/><stop offset="0.562" stop-color="#fff" stop-opacity="0.991"/><stop offset="0.583" stop-color="#fff" stop-opacity="0.961"/><stop offset="0.604" stop-color="#fff" stop-opacity="0.899"/><stop offset="0.625" stop-color="#fff" stop-opacity="0.800"/><stop offset="0.646" stop-color="#fff" stop-opacity="0.668"/><stop offset="0.667" stop-color="#fff" stop-opacity="0.515"/><stop offset="0.688" stop-color="#fff" stop-opacity="0.362"/><stop offset="0.708" stop-color="#fff" stop-opacity="0.229"/><stop offset="0.729" stop-color="#fff" stop-opacity="0.128"/><stop offset="0.750" stop-color="#fff" stop-opacity="0.063"/><stop offset="0.771" stop-color="#fff" stop-opacity="0.026"/><stop offset="0.792" stop-color="#fff" stop-opacity="0.009"/><stop offset="0.812" stop-color="#fff" stop-opacity="0.003"/><stop offset="0.833" stop-color="#fff" stop-opacity="0.001"/><stop offset="0.854" stop-color="#fff" stop-opacity="0.000"/><stop offset="0.875" stop-color="#fff" stop-opacity="0.000"/><stop offset="0.896" stop-color="#fff" stop-opacity="0.000"/><stop offset="0.917" stop-color="#fff" stop-opacity="0.000"/><stop offset="0.938" stop-color="#fff" stop-opacity="0.000"/><stop offset="0.958" stop-color="#fff" stop-opacity="0.000"/><stop offset="0.979" stop-color="#fff" stop-opacity="0.000"/><stop offset="1.000" stop-color="#fff" stop-opacity="0.000"/></linearGradient><linearGradient id="gB54" x1="0" y1="0" x2="1" y2="0"><stop offset="0.000" stop-color="#fff" stop-opacity="0.000"/><stop offset="0.021" stop-color="#fff" stop-opacity="0.000"/><stop offset="0.042" stop-color="#fff" stop-opacity="0.000"/><stop offset="0.062" stop-color="#fff" stop-opacity="0.000"/><stop offset="0.083" stop-color="#fff" stop-opacity="0.000"/><stop offset="0.104" stop-color="#fff" stop-opacity="0.000"/><stop offset="0.125" stop-color="#fff" stop-opacity="0.000"/><stop offset="0.146" stop-color="#fff" stop-opacity="0.000"/><stop offset="0.167" stop-color="#fff" stop-opacity="0.000"/><stop offset="0.188" stop-color="#fff" stop-opacity="0.001"/><stop offset="0.208" stop-color="#fff" stop-opacity="0.002"/><stop offset="0.229" stop-color="#fff" stop-opacity="0.006"/><stop offset="0.250" stop-color="#fff" stop-opacity="0.015"/><stop offset="0.271" stop-color="#fff" stop-opacity="0.035"/><stop offset="0.292" stop-color="#fff" stop-opacity="0.072"/><stop offset="0.312" stop-color="#fff" stop-opacity="0.133"/><stop offset="0.333" stop-color="#fff" stop-opacity="0.220"/><stop offset="0.354" stop-color="#fff" stop-opacity="0.333"/><stop offset="0.375" stop-color="#fff" stop-opacity="0.463"/><stop offset="0.396" stop-color="#fff" stop-opacity="0.598"/><stop offset="0.417" stop-color="#fff" stop-opacity="0.725"/><stop offset="0.438" stop-color="#fff" stop-opacity="0.831"/><stop offset="0.458" stop-color="#fff" stop-opacity="0.911"/><stop offset="0.479" stop-color="#fff" stop-opacity="0.962"/><stop offset="0.500" stop-color="#fff" stop-opacity="0.989"/><stop offset="0.521" stop-color="#fff" stop-opacity="0.999"/><stop offset="0.542" stop-color="#fff" stop-opacity="1.000"/><stop offset="0.562" stop-color="#fff" stop-opacity="0.997"/><stop offset="0.583" stop-color="#fff" stop-opacity="0.978"/><stop offset="0.604" stop-color="#fff" stop-opacity="0.929"/><stop offset="0.625" stop-color="#fff" stop-opacity="0.843"/><stop offset="0.646" stop-color="#fff" stop-opacity="0.720"/><stop offset="0.667" stop-color="#fff" stop-opacity="0.569"/><stop offset="0.688" stop-color="#fff" stop-opacity="0.411"/><stop offset="0.708" stop-color="#fff" stop-opacity="0.266"/><stop offset="0.729" stop-color="#fff" stop-opacity="0.153"/><stop offset="0.750" stop-color="#fff" stop-opacity="0.077"/><stop offset="0.771" stop-color="#fff" stop-opacity="0.033"/><stop offset="0.792" stop-color="#fff" stop-opacity="0.012"/><stop offset="0.812" stop-color="#fff" stop-opacity="0.004"/><stop offset="0.833" stop-color="#fff" stop-opacity="0.001"/><stop offset="0.854" stop-color="#fff" stop-opacity="0.000"/><stop offset="0.875" stop-color="#fff" stop-opacity="0.000"/><stop offset="0.896" stop-color="#fff" stop-opacity="0.000"/><stop offset="0.917" stop-color="#fff" stop-opacity="0.000"/><stop offset="0.938" stop-color="#fff" stop-opacity="0.000"/><stop offset="0.958" stop-color="#fff" stop-opacity="0.000"/><stop offset="0.979" stop-color="#fff" stop-opacity="0.000"/><stop offset="1.000" stop-color="#fff" stop-opacity="0.000"/></linearGradient><linearGradient id="gB55" x1="0" y1="0" x2="1" y2="0"><stop offset="0.000" stop-color="#fff" stop-opacity="0.000"/><stop offset="0.021" stop-color="#fff" stop-opacity="0.000"/><stop offset="0.042" stop-color="#fff" stop-opacity="0.000"/><stop offset="0.062" stop-color="#fff" stop-opacity="0.000"/><stop offset="0.083" stop-color="#fff" stop-opacity="0.000"/><stop offset="0.104" stop-color="#fff" stop-opacity="0.000"/><stop offset="0.125" stop-color="#fff" stop-opacity="0.000"/><stop offset="0.146" stop-color="#fff" stop-opacity="0.000"/><stop offset="0.167" stop-color="#fff" stop-opacity="0.000"/><stop offset="0.188" stop-color="#fff" stop-opacity="0.000"/><stop offset="0.208" stop-color="#fff" stop-opacity="0.002"/><stop offset="0.229" stop-color="#fff" stop-opacity="0.005"/><stop offset="0.250" stop-color="#fff" stop-opacity="0.013"/><stop offset="0.271" stop-color="#fff" stop-opacity="0.029"/><stop offset="0.292" stop-color="#fff" stop-opacity="0.061"/><stop offset="0.312" stop-color="#fff" stop-opacity="0.114"/><stop offset="0.333" stop-color="#fff" stop-opacity="0.192"/><stop offset="0.354" stop-color="#fff" stop-opacity="0.296"/><stop offset="0.375" stop-color="#fff" stop-opacity="0.419"/><stop offset="0.396" stop-color="#fff" stop-opacity="0.552"/><stop offset="0.417" stop-color="#fff" stop-opacity="0.681"/><stop offset="0.438" stop-color="#fff" stop-opacity="0.794"/><stop offset="0.458" stop-color="#fff" stop-opacity="0.882"/><stop offset="0.479" stop-color="#fff" stop-opacity="0.944"/><stop offset="0.500" stop-color="#fff" stop-opacity="0.980"/><stop offset="0.521" stop-color="#fff" stop-opacity="0.996"/><stop offset="0.542" stop-color="#fff" stop-opacity="1.000"/><stop offset="0.562" stop-color="#fff" stop-opacity="0.999"/><stop offset="0.583" stop-color="#fff" stop-opacity="0.989"/><stop offset="0.604" stop-color="#fff" stop-opacity="0.954"/><stop offset="0.625" stop-color="#fff" stop-opacity="0.882"/><stop offset="0.646" stop-color="#fff" stop-opacity="0.770"/><stop offset="0.667" stop-color="#fff" stop-opacity="0.625"/><stop offset="0.688" stop-color="#fff" stop-opacity="0.463"/><stop offset="0.708" stop-color="#fff" stop-opacity="0.308"/><stop offset="0.729" stop-color="#fff" stop-opacity="0.182"/><stop offset="0.750" stop-color="#fff" stop-opacity="0.093"/><stop offset="0.771" stop-color="#fff" stop-opacity="0.041"/><stop offset="0.792" stop-color="#fff" stop-opacity="0.015"/><stop offset="0.812" stop-color="#fff" stop-opacity="0.005"/><stop offset="0.833" stop-color="#fff" stop-opacity="0.001"/><stop offset="0.854" stop-color="#fff" stop-opacity="0.000"/><stop offset="0.875" stop-color="#fff" stop-opacity="0.000"/><stop offset="0.896" stop-color="#fff" stop-opacity="0.000"/><stop offset="0.917" stop-color="#fff" stop-opacity="0.000"/><stop offset="0.938" stop-color="#fff" stop-opacity="0.000"/><stop offset="0.958" stop-color="#fff" stop-opacity="0.000"/><stop offset="0.979" stop-color="#fff" stop-opacity="0.000"/><stop offset="1.000" stop-color="#fff" stop-opacity="0.000"/></linearGradient></defs>
<rect x="88.5" y="20.3" width="503.5" height="452.4" fill="none" stroke="#5a5a50" stroke-width="1.3"/>
<line x1="88.5" y1="472.7" x2="88.5" y2="477.7" stroke="#555" stroke-width="1.2"/>
<text x="88.5" y="500" font-size="25" text-anchor="middle">−2</text>
<line x1="214.4" y1="472.7" x2="214.4" y2="477.7" stroke="#555" stroke-width="1.2"/>
<text x="214.4" y="500" font-size="25" text-anchor="middle">−1</text>
<line x1="340.2" y1="472.7" x2="340.2" y2="477.7" stroke="#555" stroke-width="1.2"/>
<text x="340.2" y="500" font-size="25" text-anchor="middle">0</text>
<line x1="466.1" y1="472.7" x2="466.1" y2="477.7" stroke="#555" stroke-width="1.2"/>
<text x="466.1" y="500" font-size="25" text-anchor="middle">1</text>
<line x1="592" y1="472.7" x2="592" y2="477.7" stroke="#555" stroke-width="1.2"/>
<text x="592" y="500" font-size="25" text-anchor="middle">2</text>
<line x1="83.5" y1="397.3" x2="88.5" y2="397.3" stroke="#555" stroke-width="1.2"/>
<text x="79.3" y="406.2" font-size="25" text-anchor="end">0.5</text>
<line x1="83.5" y1="303" x2="88.5" y2="303" stroke="#555" stroke-width="1.2"/>
<text x="79.3" y="311.9" font-size="25" text-anchor="end">1.0</text>
<line x1="83.5" y1="208.8" x2="88.5" y2="208.8" stroke="#555" stroke-width="1.2"/>
<text x="79.3" y="217.7" font-size="25" text-anchor="end">1.5</text>
<line x1="83.5" y1="114.6" x2="88.5" y2="114.6" stroke="#555" stroke-width="1.2"/>
<text x="79.3" y="123.5" font-size="25" text-anchor="end">2.0</text>
<line x1="83.5" y1="20.3" x2="88.5" y2="20.3" stroke="#555" stroke-width="1.2"/>
<text x="79.3" y="29.2" font-size="25" text-anchor="end">2.5</text>
<text x="340.7" y="527.6" font-size="25" text-anchor="middle">Delay time (ps)</text>
<text x="34.7" y="245.5" font-size="25" text-anchor="middle" transform="rotate(-90 34.7 245.5)">Kinetic energy (eV)</text>
<rect x="88.7" y="573.3" width="504.3" height="452.2" fill="none" stroke="#5a5a50" stroke-width="1.3"/>
<line x1="88.7" y1="1025.5" x2="88.7" y2="1030.5" stroke="#555" stroke-width="1.2"/>
<text x="88.7" y="1054" font-size="25" text-anchor="middle">−2</text>
<line x1="214.8" y1="1025.5" x2="214.8" y2="1030.5" stroke="#555" stroke-width="1.2"/>
<text x="214.8" y="1054" font-size="25" text-anchor="middle">−1</text>
<line x1="340.9" y1="1025.5" x2="340.9" y2="1030.5" stroke="#555" stroke-width="1.2"/>
<text x="340.9" y="1054" font-size="25" text-anchor="middle">0</text>
<line x1="466.9" y1="1025.5" x2="466.9" y2="1030.5" stroke="#555" stroke-width="1.2"/>
<text x="466.9" y="1054" font-size="25" text-anchor="middle">1</text>
<line x1="593" y1="1025.5" x2="593" y2="1030.5" stroke="#555" stroke-width="1.2"/>
<text x="593" y="1054" font-size="25" text-anchor="middle">2</text>
<line x1="83.7" y1="950.1" x2="88.7" y2="950.1" stroke="#555" stroke-width="1.2"/>
<text x="79.3" y="959" font-size="25" text-anchor="end">0.5</text>
<line x1="83.7" y1="855.9" x2="88.7" y2="855.9" stroke="#555" stroke-width="1.2"/>
<text x="79.3" y="864.8" font-size="25" text-anchor="end">1.0</text>
<line x1="83.7" y1="761.7" x2="88.7" y2="761.7" stroke="#555" stroke-width="1.2"/>
<text x="79.3" y="770.6" font-size="25" text-anchor="end">1.5</text>
<line x1="83.7" y1="667.5" x2="88.7" y2="667.5" stroke="#555" stroke-width="1.2"/>
<text x="79.3" y="676.4" font-size="25" text-anchor="end">2.0</text>
<line x1="83.7" y1="573.3" x2="88.7" y2="573.3" stroke="#555" stroke-width="1.2"/>
<text x="79.3" y="582.2" font-size="25" text-anchor="end">2.5</text>
<text x="340.7" y="1081.6" font-size="25" text-anchor="middle">Delay time (ps)</text>
<text x="34.7" y="802" font-size="25" text-anchor="middle" transform="rotate(-90 34.7 802)">Kinetic energy (eV)</text>
<text x="562" y="62.2" font-size="38" text-anchor="end">GaN</text>
<text x="566.2" y="620" font-size="37" text-anchor="end">Pt/GaN</text>
<text x="-4.5" y="41.5" font-size="62">a</text>
<text x="-2.2" y="603.5" font-size="62">b</text>
<linearGradient id="ylgnbu" x1="0" y1="1" x2="0" y2="0"><stop offset="0%" stop-color="#ffffd9"/><stop offset="2.1%" stop-color="#fcfed3"/><stop offset="4.3%" stop-color="#f9fdcc"/><stop offset="6.4%" stop-color="#f6fbc5"/><stop offset="8.5%" stop-color="#f3fabf"/><stop offset="10.6%" stop-color="#f0f9b7"/><stop offset="12.8%" stop-color="#edf8b1"/><stop offset="14.9%" stop-color="#e6f5b2"/><stop offset="17%" stop-color="#e0f3b2"/><stop offset="19.1%" stop-color="#d9f0b3"/><stop offset="21.3%" stop-color="#d3eeb3"/><stop offset="23.4%" stop-color="#cdebb4"/><stop offset="25.5%" stop-color="#c4e8b4"/><stop offset="27.7%" stop-color="#b9e4b5"/><stop offset="29.8%" stop-color="#abdeb7"/><stop offset="31.9%" stop-color="#a0dab8"/><stop offset="34%" stop-color="#92d5b9"/><stop offset="36.2%" stop-color="#87d0ba"/><stop offset="38.3%" stop-color="#7acbbc"/><stop offset="40.4%" stop-color="#71c8bd"/><stop offset="42.6%" stop-color="#67c4be"/><stop offset="44.7%" stop-color="#5bc0c0"/><stop offset="46.8%" stop-color="#52bcc2"/><stop offset="48.9%" stop-color="#46b8c3"/><stop offset="51.1%" stop-color="#3eb3c4"/><stop offset="53.2%" stop-color="#37acc3"/><stop offset="55.3%" stop-color="#32a6c2"/><stop offset="57.4%" stop-color="#2b9fc2"/><stop offset="59.6%" stop-color="#259ac1"/><stop offset="61.7%" stop-color="#2094c0"/><stop offset="63.8%" stop-color="#1e8bbd"/><stop offset="66%" stop-color="#1e83ba"/><stop offset="68.1%" stop-color="#1f7ab5"/><stop offset="70.2%" stop-color="#2072b1"/><stop offset="72.3%" stop-color="#2168ad"/><stop offset="74.5%" stop-color="#2260a9"/><stop offset="76.6%" stop-color="#2258a5"/><stop offset="78.7%" stop-color="#2351a2"/><stop offset="80.9%" stop-color="#234b9f"/><stop offset="83%" stop-color="#24439b"/><stop offset="85.1%" stop-color="#243c98"/><stop offset="87.2%" stop-color="#253494"/><stop offset="89.4%" stop-color="#21308b"/><stop offset="91.5%" stop-color="#1b2c80"/><stop offset="93.6%" stop-color="#172976"/><stop offset="95.7%" stop-color="#11246b"/><stop offset="97.9%" stop-color="#0d2161"/><stop offset="100%" stop-color="#081d58"/></linearGradient>
<rect x="603.5" y="20.3" width="23.5" height="452.4" fill="url(#ylgnbu)" stroke="#333" stroke-width="1.4"/>
<line x1="627" y1="472.7" x2="630" y2="472.7" stroke="#222" stroke-width="1.0"/>
<line x1="627" y1="445.2" x2="630" y2="445.2" stroke="#222" stroke-width="1.0"/>
<line x1="627" y1="421.9" x2="630" y2="421.9" stroke="#222" stroke-width="1.0"/>
<line x1="627" y1="401.7" x2="630" y2="401.7" stroke="#222" stroke-width="1.0"/>
<line x1="627" y1="383.9" x2="630" y2="383.9" stroke="#222" stroke-width="1.0"/>
<line x1="627" y1="368" x2="632" y2="368" stroke="#222" stroke-width="1.3"/>
<line x1="627" y1="263.3" x2="630" y2="263.3" stroke="#222" stroke-width="1.0"/>
<line x1="627" y1="202.1" x2="630" y2="202.1" stroke="#222" stroke-width="1.0"/>
<line x1="627" y1="158.7" x2="630" y2="158.7" stroke="#222" stroke-width="1.0"/>
<line x1="627" y1="125" x2="630" y2="125" stroke="#222" stroke-width="1.0"/>
<line x1="627" y1="97.4" x2="630" y2="97.4" stroke="#222" stroke-width="1.0"/>
<line x1="627" y1="74.2" x2="630" y2="74.2" stroke="#222" stroke-width="1.0"/>
<line x1="627" y1="54" x2="630" y2="54" stroke="#222" stroke-width="1.0"/>
<line x1="627" y1="36.2" x2="630" y2="36.2" stroke="#222" stroke-width="1.0"/>
<line x1="627" y1="20.3" x2="632" y2="20.3" stroke="#222" stroke-width="1.3"/>
<text x="636.5" y="27.6" font-size="18.7" font-family="'DejaVu Sans', sans-serif">10<tspan dy="-7.7" font-size="13.6">2</tspan></text>
<text x="636.5" y="375.3" font-size="18.7" font-family="'DejaVu Sans', sans-serif">10<tspan dy="-7.7" font-size="13.6">1</tspan></text>
<text x="684.8" y="241" font-size="26" text-anchor="middle" transform="rotate(90 684.8 241)">Intensity (arb. units)</text>
<rect x="604.5" y="573.3" width="23" height="452.2" fill="url(#ylgnbu)" stroke="#333" stroke-width="1.4"/>
<line x1="627.5" y1="1025.5" x2="630.5" y2="1025.5" stroke="#222" stroke-width="1.0"/>
<line x1="627.5" y1="1007.6" x2="630.5" y2="1007.6" stroke="#222" stroke-width="1.0"/>
<line x1="627.5" y1="992.5" x2="630.5" y2="992.5" stroke="#222" stroke-width="1.0"/>
<line x1="627.5" y1="979.3" x2="630.5" y2="979.3" stroke="#222" stroke-width="1.0"/>
<line x1="627.5" y1="967.8" x2="630.5" y2="967.8" stroke="#222" stroke-width="1.0"/>
<line x1="627.5" y1="957.4" x2="632.5" y2="957.4" stroke="#222" stroke-width="1.3"/>
<line x1="627.5" y1="889.4" x2="630.5" y2="889.4" stroke="#222" stroke-width="1.0"/>
<line x1="627.5" y1="849.6" x2="630.5" y2="849.6" stroke="#222" stroke-width="1.0"/>
<line x1="627.5" y1="821.3" x2="630.5" y2="821.3" stroke="#222" stroke-width="1.0"/>
<line x1="627.5" y1="799.4" x2="630.5" y2="799.4" stroke="#222" stroke-width="1.0"/>
<line x1="627.5" y1="781.5" x2="630.5" y2="781.5" stroke="#222" stroke-width="1.0"/>
<line x1="627.5" y1="766.4" x2="630.5" y2="766.4" stroke="#222" stroke-width="1.0"/>
<line x1="627.5" y1="753.2" x2="630.5" y2="753.2" stroke="#222" stroke-width="1.0"/>
<line x1="627.5" y1="741.7" x2="630.5" y2="741.7" stroke="#222" stroke-width="1.0"/>
<line x1="627.5" y1="731.3" x2="632.5" y2="731.3" stroke="#222" stroke-width="1.3"/>
<line x1="627.5" y1="663.3" x2="630.5" y2="663.3" stroke="#222" stroke-width="1.0"/>
<line x1="627.5" y1="623.5" x2="630.5" y2="623.5" stroke="#222" stroke-width="1.0"/>
<line x1="627.5" y1="595.2" x2="630.5" y2="595.2" stroke="#222" stroke-width="1.0"/>
<line x1="627.5" y1="573.3" x2="630.5" y2="573.3" stroke="#222" stroke-width="1.0"/>
<text x="637" y="738.6" font-size="18.7" font-family="'DejaVu Sans', sans-serif">10<tspan dy="-7.7" font-size="13.6">1</tspan></text>
<text x="637" y="964.7" font-size="18.7" font-family="'DejaVu Sans', sans-serif">10<tspan dy="-7.7" font-size="13.6">0</tspan></text>
<text x="684.8" y="803.2" font-size="26" text-anchor="middle" transform="rotate(90 684.8 803.2)">Intensity (arb. units)</text>
<path d="M337.7 978 C328 966 318 958 302 953 C285 948 262 945 208 939" fill="none" stroke="#7030a0" stroke-width="3.6" stroke-dasharray="9 5"/>
<path d="M218.6 932.2 L201 938.3 L215.6 948.8" fill="none" stroke="#7030a0" stroke-width="3.6" stroke-linecap="round" stroke-linejoin="miter"/>
<clipPath id="cc"><rect x="821.5" y="18.3" width="510.7" height="448.2"/></clipPath>
<path d="M823.5 343.3 L825.3 359.7 L829 395.8 L830.8 394.5 L834.5 369.8 L836.4 368.6 L838.1 394.5 L841.8 330.4 L843.8 341.4 L847.3 348.8 L848.2 304.8 L852 330 L856 352 L860 320 L864 338 L868 300 L871 322 L873 357.9 L876 286 L876.6 285.6 L883.4 257.3 L884.8 258.7 L885.8 270 L887.3 262.2 L891 275 L895.5 261 L897 245 L898 228 L898.6 210 L899 192 L899.6 175 L900.2 160 L900.8 142 L901.5 125 L902.2 108 L902.8 92 L903.5 78 L904.2 64 L904.8 52 L905.3 41 L906.5 39 L907.3 48 L907.8 60 L908.3 74 L908.8 90 L909.2 106 L909.6 122 L910 140 L910.5 158 L911 175 L911.8 190 L912.2 206.2 L915.8 199.1 L914.6 227.1 L917 255.1 L918.1 246.7 L922.9 233.6 L925.3 215.2 L927.7 256.9 L927.7 265.8 L932.4 230 L937.2 239 L939.6 258.1 L942.6 275.9 L945 293.8 L949.1 239 L951.5 250.9 L953.3 260.5 L957.5 269.4 L963.4 248.5 L964.6 252.7 L965.8 289.1 L974.2 275.3 L978.9 284.9 L983.1 245.6 L987.3 271.2 L992 281.9 L995.6 261 L1000 260.5 L1000.4 283.7 L1002 282.7 L1004 273 L1009 295.8 L1013.1 265.5 L1020.2 268.6 L1023.2 270.6 L1025.2 292.8 L1030.2 274.6 L1034.3 256.5 L1042.3 286.7 L1051.4 285.7 L1059.5 263.5 L1068.6 273.6 L1076.6 305.9 L1084.7 293.8 L1093.8 274.6 L1101.8 260.5 L1110.9 260.5 L1120 261.5 L1128 262.9 L1136.1 246.4 L1144.8 244.8 L1153.3 245.4 L1161.3 252.8 L1182.5 258.9 L1204.1 282.3 L1225.2 286.7 L1246.4 298.2 L1267.8 270.2 L1288.8 273.6 L1310.1 279.7 L1330.7 280.7" fill="none" stroke="#03c6c6" stroke-width="2.6" stroke-linejoin="round" clip-path="url(#cc)"/>
<g fill="#fff" stroke="#03c6c6" stroke-width="2.4" clip-path="url(#cc)"><circle cx="823.5" cy="343.3" r="5.8"/><circle cx="825.3" cy="359.7" r="5.8"/><circle cx="829" cy="395.8" r="5.8"/><circle cx="830.8" cy="394.5" r="5.8"/><circle cx="834.5" cy="369.8" r="5.8"/><circle cx="836.4" cy="368.6" r="5.8"/><circle cx="838.1" cy="394.5" r="5.8"/><circle cx="841.8" cy="330.4" r="5.8"/><circle cx="843.8" cy="341.4" r="5.8"/><circle cx="847.3" cy="348.8" r="5.8"/><circle cx="848.2" cy="304.8" r="5.8"/><circle cx="852" cy="330" r="5.8"/><circle cx="856" cy="352" r="5.8"/><circle cx="860" cy="320" r="5.8"/><circle cx="864" cy="338" r="5.8"/><circle cx="868" cy="300" r="5.8"/><circle cx="871" cy="322" r="5.8"/><circle cx="873" cy="357.9" r="5.8"/><circle cx="876" cy="286" r="5.8"/><circle cx="876.6" cy="285.6" r="5.8"/><circle cx="883.4" cy="257.3" r="5.8"/><circle cx="884.8" cy="258.7" r="5.8"/><circle cx="885.8" cy="270" r="5.8"/><circle cx="887.3" cy="262.2" r="5.8"/><circle cx="891" cy="275" r="5.8"/><circle cx="895.5" cy="261" r="5.8"/><circle cx="897" cy="245" r="5.8"/><circle cx="898" cy="228" r="5.8"/><circle cx="898.6" cy="210" r="5.8"/><circle cx="899" cy="192" r="5.8"/><circle cx="899.6" cy="175" r="5.8"/><circle cx="900.2" cy="160" r="5.8"/><circle cx="900.8" cy="142" r="5.8"/><circle cx="901.5" cy="125" r="5.8"/><circle cx="902.2" cy="108" r="5.8"/><circle cx="902.8" cy="92" r="5.8"/><circle cx="903.5" cy="78" r="5.8"/><circle cx="904.2" cy="64" r="5.8"/><circle cx="904.8" cy="52" r="5.8"/><circle cx="905.3" cy="41" r="5.8"/><circle cx="906.5" cy="39" r="5.8"/><circle cx="907.3" cy="48" r="5.8"/><circle cx="907.8" cy="60" r="5.8"/><circle cx="908.3" cy="74" r="5.8"/><circle cx="908.8" cy="90" r="5.8"/><circle cx="909.2" cy="106" r="5.8"/><circle cx="909.6" cy="122" r="5.8"/><circle cx="910" cy="140" r="5.8"/><circle cx="910.5" cy="158" r="5.8"/><circle cx="911" cy="175" r="5.8"/><circle cx="911.8" cy="190" r="5.8"/><circle cx="912.2" cy="206.2" r="5.8"/><circle cx="915.8" cy="199.1" r="5.8"/><circle cx="914.6" cy="227.1" r="5.8"/><circle cx="917" cy="255.1" r="5.8"/><circle cx="918.1" cy="246.7" r="5.8"/><circle cx="922.9" cy="233.6" r="5.8"/><circle cx="925.3" cy="215.2" r="5.8"/><circle cx="927.7" cy="256.9" r="5.8"/><circle cx="927.7" cy="265.8" r="5.8"/><circle cx="932.4" cy="230" r="5.8"/><circle cx="937.2" cy="239" r="5.8"/><circle cx="939.6" cy="258.1" r="5.8"/><circle cx="942.6" cy="275.9" r="5.8"/><circle cx="945" cy="293.8" r="5.8"/><circle cx="949.1" cy="239" r="5.8"/><circle cx="951.5" cy="250.9" r="5.8"/><circle cx="953.3" cy="260.5" r="5.8"/><circle cx="957.5" cy="269.4" r="5.8"/><circle cx="963.4" cy="248.5" r="5.8"/><circle cx="964.6" cy="252.7" r="5.8"/><circle cx="965.8" cy="289.1" r="5.8"/><circle cx="974.2" cy="275.3" r="5.8"/><circle cx="978.9" cy="284.9" r="5.8"/><circle cx="983.1" cy="245.6" r="5.8"/><circle cx="987.3" cy="271.2" r="5.8"/><circle cx="992" cy="281.9" r="5.8"/><circle cx="995.6" cy="261" r="5.8"/><circle cx="1000" cy="260.5" r="5.8"/><circle cx="1000.4" cy="283.7" r="5.8"/><circle cx="1002" cy="282.7" r="5.8"/><circle cx="1004" cy="273" r="5.8"/><circle cx="1009" cy="295.8" r="5.8"/><circle cx="1013.1" cy="265.5" r="5.8"/><circle cx="1020.2" cy="268.6" r="5.8"/><circle cx="1023.2" cy="270.6" r="5.8"/><circle cx="1025.2" cy="292.8" r="5.8"/><circle cx="1030.2" cy="274.6" r="5.8"/><circle cx="1034.3" cy="256.5" r="5.8"/><circle cx="1042.3" cy="286.7" r="5.8"/><circle cx="1051.4" cy="285.7" r="5.8"/><circle cx="1059.5" cy="263.5" r="5.8"/><circle cx="1068.6" cy="273.6" r="5.8"/><circle cx="1076.6" cy="305.9" r="5.8"/><circle cx="1084.7" cy="293.8" r="5.8"/><circle cx="1093.8" cy="274.6" r="5.8"/><circle cx="1101.8" cy="260.5" r="5.8"/><circle cx="1110.9" cy="260.5" r="5.8"/><circle cx="1120" cy="261.5" r="5.8"/><circle cx="1128" cy="262.9" r="5.8"/><circle cx="1136.1" cy="246.4" r="5.8"/><circle cx="1144.8" cy="244.8" r="5.8"/><circle cx="1153.3" cy="245.4" r="5.8"/><circle cx="1161.3" cy="252.8" r="5.8"/><circle cx="1182.5" cy="258.9" r="5.8"/><circle cx="1204.1" cy="282.3" r="5.8"/><circle cx="1225.2" cy="286.7" r="5.8"/><circle cx="1246.4" cy="298.2" r="5.8"/><circle cx="1267.8" cy="270.2" r="5.8"/><circle cx="1288.8" cy="273.6" r="5.8"/><circle cx="1310.1" cy="279.7" r="5.8"/><circle cx="1330.7" cy="280.7" r="5.8"/></g>
<path d="M823.5 341.4 L824 306.8 L826.2 307.5 L830.8 314 L831.4 314.2 L834.5 319.5 L838.9 299.4 L839 300.2 L843.6 314.9 L844.6 419.3 L847.3 428.4 L849.1 381.7 L852.8 331.4 L855.5 490 L856.5 470 L857.4 315.8 L860.1 303 L862 383.6 L864.7 362.5 L866.5 373.5 L869.3 317.6 L871.1 326.8 L873 413.8 L874.8 386.3 L877.5 373.5 L879.4 396.4 L881.2 309.4 L883.9 297.5 L883.9 348.8 L884.8 326.8 L886.7 407.4 L886.7 288.3 L887.2 289.7 L891.3 354.2 L893.1 301.1 L893.1 272.7 L894.3 273 L894.9 283.7 L895.5 246.7 L896.1 225.3 L896.7 235.4 L899.1 205.6 L899.7 188.9 L900.2 189.1 L900.5 166 L901.4 143.8 L902.2 128.1 L902.7 118.2 L903 92.6 L903.8 76.1 L904.7 67.9 L905.1 57.1 L905.5 45.6 L905.5 38.2 L906.3 41.5 L907.1 53 L908 62.9 L908.8 81.1 L909.6 87.7 L908.8 102.5 L909.6 120.7 L909.6 139.6 L909.6 157.8 L909.6 183.4 L909.2 183.6 L909.8 216.9 L909.8 249.7 L910.7 282.4 L911 286.1 L912.1 301 L913.4 323.6 L912.1 342.2 L916.1 368.8 L917.4 395.4 L916.9 444 L917.5 490 L918.5 480 L921.4 444.6 L921.4 406 L925.4 305 L926.7 376.8 L929.4 291.7 L932 313 L936 371.5 L938.7 410 L942.7 310.3 L945.3 383.5 L948 340.9 L957.3 298.4 L964 307.7 L966.6 343.6 L970.6 399.4 L974.6 358.2 L978.6 380.8 L982.6 343.6 L991.9 407.4 L995.9 358.2 L1004.4 302.3 L1011.8 370.2 L1013.1 315 L1017.1 371.4 L1021.2 308.9 L1025.2 355.3 L1030.2 328 L1035.3 329 L1042.3 301.8 L1051.4 358.3 L1059.5 309.9 L1068.6 382.5 L1076.6 342.2 L1084.7 355.3 L1093.8 330 L1101.8 324 L1110.9 361.3 L1119 394.6 L1128 354.3 L1136.1 307.9 L1144.8 338.1 L1153.3 337.1 L1161.3 351.6 L1182.5 360.3 L1204.1 322 L1225.2 328 L1246.4 345.6 L1267.8 327 L1288.8 316.6 L1310.1 340.1 L1330.7 350.8" fill="none" stroke="#e57883" stroke-width="2.6" stroke-linejoin="round" clip-path="url(#cc)"/>
<g fill="#fff" stroke="#e57883" stroke-width="2.4" clip-path="url(#cc)"><circle cx="823.5" cy="341.4" r="5.8"/><circle cx="824" cy="306.8" r="5.8"/><circle cx="826.2" cy="307.5" r="5.8"/><circle cx="830.8" cy="314" r="5.8"/><circle cx="831.4" cy="314.2" r="5.8"/><circle cx="834.5" cy="319.5" r="5.8"/><circle cx="838.9" cy="299.4" r="5.8"/><circle cx="839" cy="300.2" r="5.8"/><circle cx="843.6" cy="314.9" r="5.8"/><circle cx="844.6" cy="419.3" r="5.8"/><circle cx="847.3" cy="428.4" r="5.8"/><circle cx="849.1" cy="381.7" r="5.8"/><circle cx="852.8" cy="331.4" r="5.8"/><circle cx="855.5" cy="490" r="5.8"/><circle cx="856.5" cy="470" r="5.8"/><circle cx="857.4" cy="315.8" r="5.8"/><circle cx="860.1" cy="303" r="5.8"/><circle cx="862" cy="383.6" r="5.8"/><circle cx="864.7" cy="362.5" r="5.8"/><circle cx="866.5" cy="373.5" r="5.8"/><circle cx="869.3" cy="317.6" r="5.8"/><circle cx="871.1" cy="326.8" r="5.8"/><circle cx="873" cy="413.8" r="5.8"/><circle cx="874.8" cy="386.3" r="5.8"/><circle cx="877.5" cy="373.5" r="5.8"/><circle cx="879.4" cy="396.4" r="5.8"/><circle cx="881.2" cy="309.4" r="5.8"/><circle cx="883.9" cy="297.5" r="5.8"/><circle cx="883.9" cy="348.8" r="5.8"/><circle cx="884.8" cy="326.8" r="5.8"/><circle cx="886.7" cy="407.4" r="5.8"/><circle cx="886.7" cy="288.3" r="5.8"/><circle cx="887.2" cy="289.7" r="5.8"/><circle cx="891.3" cy="354.2" r="5.8"/><circle cx="893.1" cy="301.1" r="5.8"/><circle cx="893.1" cy="272.7" r="5.8"/><circle cx="894.3" cy="273" r="5.8"/><circle cx="894.9" cy="283.7" r="5.8"/><circle cx="895.5" cy="246.7" r="5.8"/><circle cx="896.1" cy="225.3" r="5.8"/><circle cx="896.7" cy="235.4" r="5.8"/><circle cx="899.1" cy="205.6" r="5.8"/><circle cx="899.7" cy="188.9" r="5.8"/><circle cx="900.2" cy="189.1" r="5.8"/><circle cx="900.5" cy="166" r="5.8"/><circle cx="901.4" cy="143.8" r="5.8"/><circle cx="902.2" cy="128.1" r="5.8"/><circle cx="902.7" cy="118.2" r="5.8"/><circle cx="903" cy="92.6" r="5.8"/><circle cx="903.8" cy="76.1" r="5.8"/><circle cx="904.7" cy="67.9" r="5.8"/><circle cx="905.1" cy="57.1" r="5.8"/><circle cx="905.5" cy="45.6" r="5.8"/><circle cx="905.5" cy="38.2" r="5.8"/><circle cx="906.3" cy="41.5" r="5.8"/><circle cx="907.1" cy="53" r="5.8"/><circle cx="908" cy="62.9" r="5.8"/><circle cx="908.8" cy="81.1" r="5.8"/><circle cx="909.6" cy="87.7" r="5.8"/><circle cx="908.8" cy="102.5" r="5.8"/><circle cx="909.6" cy="120.7" r="5.8"/><circle cx="909.6" cy="139.6" r="5.8"/><circle cx="909.6" cy="157.8" r="5.8"/><circle cx="909.6" cy="183.4" r="5.8"/><circle cx="909.2" cy="183.6" r="5.8"/><circle cx="909.8" cy="216.9" r="5.8"/><circle cx="909.8" cy="249.7" r="5.8"/><circle cx="910.7" cy="282.4" r="5.8"/><circle cx="911" cy="286.1" r="5.8"/><circle cx="912.1" cy="301" r="5.8"/><circle cx="913.4" cy="323.6" r="5.8"/><circle cx="912.1" cy="342.2" r="5.8"/><circle cx="916.1" cy="368.8" r="5.8"/><circle cx="917.4" cy="395.4" r="5.8"/><circle cx="916.9" cy="444" r="5.8"/><circle cx="917.5" cy="490" r="5.8"/><circle cx="918.5" cy="480" r="5.8"/><circle cx="921.4" cy="444.6" r="5.8"/><circle cx="921.4" cy="406" r="5.8"/><circle cx="925.4" cy="305" r="5.8"/><circle cx="926.7" cy="376.8" r="5.8"/><circle cx="929.4" cy="291.7" r="5.8"/><circle cx="932" cy="313" r="5.8"/><circle cx="936" cy="371.5" r="5.8"/><circle cx="938.7" cy="410" r="5.8"/><circle cx="942.7" cy="310.3" r="5.8"/><circle cx="945.3" cy="383.5" r="5.8"/><circle cx="948" cy="340.9" r="5.8"/><circle cx="957.3" cy="298.4" r="5.8"/><circle cx="964" cy="307.7" r="5.8"/><circle cx="966.6" cy="343.6" r="5.8"/><circle cx="970.6" cy="399.4" r="5.8"/><circle cx="974.6" cy="358.2" r="5.8"/><circle cx="978.6" cy="380.8" r="5.8"/><circle cx="982.6" cy="343.6" r="5.8"/><circle cx="991.9" cy="407.4" r="5.8"/><circle cx="995.9" cy="358.2" r="5.8"/><circle cx="1004.4" cy="302.3" r="5.8"/><circle cx="1011.8" cy="370.2" r="5.8"/><circle cx="1013.1" cy="315" r="5.8"/><circle cx="1017.1" cy="371.4" r="5.8"/><circle cx="1021.2" cy="308.9" r="5.8"/><circle cx="1025.2" cy="355.3" r="5.8"/><circle cx="1030.2" cy="328" r="5.8"/><circle cx="1035.3" cy="329" r="5.8"/><circle cx="1042.3" cy="301.8" r="5.8"/><circle cx="1051.4" cy="358.3" r="5.8"/><circle cx="1059.5" cy="309.9" r="5.8"/><circle cx="1068.6" cy="382.5" r="5.8"/><circle cx="1076.6" cy="342.2" r="5.8"/><circle cx="1084.7" cy="355.3" r="5.8"/><circle cx="1093.8" cy="330" r="5.8"/><circle cx="1101.8" cy="324" r="5.8"/><circle cx="1110.9" cy="361.3" r="5.8"/><circle cx="1119" cy="394.6" r="5.8"/><circle cx="1128" cy="354.3" r="5.8"/><circle cx="1136.1" cy="307.9" r="5.8"/><circle cx="1144.8" cy="338.1" r="5.8"/><circle cx="1153.3" cy="337.1" r="5.8"/><circle cx="1161.3" cy="351.6" r="5.8"/><circle cx="1182.5" cy="360.3" r="5.8"/><circle cx="1204.1" cy="322" r="5.8"/><circle cx="1225.2" cy="328" r="5.8"/><circle cx="1246.4" cy="345.6" r="5.8"/><circle cx="1267.8" cy="327" r="5.8"/><circle cx="1288.8" cy="316.6" r="5.8"/><circle cx="1310.1" cy="340.1" r="5.8"/><circle cx="1330.7" cy="350.8" r="5.8"/></g>
<line x1="822.5" y1="355.6" x2="1331.2" y2="355.6" stroke="#808080" stroke-width="3" stroke-dasharray="8.5 4.5"/>
<rect x="821.5" y="18.3" width="510.7" height="448.2" fill="none" stroke="#000" stroke-width="2.2"/>
<line x1="821.5" y1="466.5" x2="821.5" y2="475" stroke="#000" stroke-width="2.2"/>
<text x="821.5" y="499.7" font-size="23" text-anchor="middle">−2</text>
<line x1="864.1" y1="466.5" x2="864.1" y2="471" stroke="#000" stroke-width="2.2"/>
<line x1="906.6" y1="466.5" x2="906.6" y2="475" stroke="#000" stroke-width="2.2"/>
<text x="906.6" y="499.7" font-size="23" text-anchor="middle">0</text>
<line x1="949.2" y1="466.5" x2="949.2" y2="471" stroke="#000" stroke-width="2.2"/>
<line x1="991.7" y1="466.5" x2="991.7" y2="475" stroke="#000" stroke-width="2.2"/>
<text x="991.7" y="499.7" font-size="23" text-anchor="middle">2</text>
<line x1="1034.3" y1="466.5" x2="1034.3" y2="471" stroke="#000" stroke-width="2.2"/>
<line x1="1076.8" y1="466.5" x2="1076.8" y2="475" stroke="#000" stroke-width="2.2"/>
<text x="1076.8" y="499.7" font-size="23" text-anchor="middle">4</text>
<line x1="1119.4" y1="466.5" x2="1119.4" y2="471" stroke="#000" stroke-width="2.2"/>
<line x1="1162" y1="466.5" x2="1162" y2="475" stroke="#000" stroke-width="2.2"/>
<text x="1162" y="499.7" font-size="23" text-anchor="middle">6</text>
<line x1="1204.5" y1="466.5" x2="1204.5" y2="471" stroke="#000" stroke-width="2.2"/>
<line x1="1247.1" y1="466.5" x2="1247.1" y2="475" stroke="#000" stroke-width="2.2"/>
<text x="1247.1" y="499.7" font-size="23" text-anchor="middle">8</text>
<line x1="1289.6" y1="466.5" x2="1289.6" y2="471" stroke="#000" stroke-width="2.2"/>
<line x1="1332.2" y1="466.5" x2="1332.2" y2="475" stroke="#000" stroke-width="2.2"/>
<text x="1332.2" y="499.7" font-size="23" text-anchor="middle">10</text>
<line x1="817" y1="466.1" x2="821.5" y2="466.1" stroke="#000" stroke-width="2.2"/>
<line x1="817" y1="421.7" x2="821.5" y2="421.7" stroke="#000" stroke-width="2.2"/>
<line x1="817" y1="390.2" x2="821.5" y2="390.2" stroke="#000" stroke-width="2.2"/>
<line x1="817" y1="365.8" x2="821.5" y2="365.8" stroke="#000" stroke-width="2.2"/>
<line x1="817" y1="345.9" x2="821.5" y2="345.9" stroke="#000" stroke-width="2.2"/>
<line x1="817" y1="329" x2="821.5" y2="329" stroke="#000" stroke-width="2.2"/>
<line x1="817" y1="314.4" x2="821.5" y2="314.4" stroke="#000" stroke-width="2.2"/>
<line x1="817" y1="301.5" x2="821.5" y2="301.5" stroke="#000" stroke-width="2.2"/>
<line x1="813" y1="290" x2="821.5" y2="290" stroke="#000" stroke-width="2.2"/>
<line x1="817" y1="214.2" x2="821.5" y2="214.2" stroke="#000" stroke-width="2.2"/>
<line x1="817" y1="169.8" x2="821.5" y2="169.8" stroke="#000" stroke-width="2.2"/>
<line x1="817" y1="138.3" x2="821.5" y2="138.3" stroke="#000" stroke-width="2.2"/>
<line x1="817" y1="113.9" x2="821.5" y2="113.9" stroke="#000" stroke-width="2.2"/>
<line x1="817" y1="94" x2="821.5" y2="94" stroke="#000" stroke-width="2.2"/>
<line x1="817" y1="77.1" x2="821.5" y2="77.1" stroke="#000" stroke-width="2.2"/>
<line x1="817" y1="62.5" x2="821.5" y2="62.5" stroke="#000" stroke-width="2.2"/>
<line x1="817" y1="49.6" x2="821.5" y2="49.6" stroke="#000" stroke-width="2.2"/>
<line x1="813" y1="38.1" x2="821.5" y2="38.1" stroke="#000" stroke-width="2.2"/>
<text x="807.3" y="45.1" font-size="23" text-anchor="end">1</text>
<text x="807.3" y="297" font-size="23" text-anchor="end">0.1</text>
<text x="1077.6" y="528.3" font-size="24" text-anchor="middle">Delay time (ps)</text>
<text x="772" y="245" font-size="23.5" text-anchor="middle" transform="rotate(-90 772 245)">Normalized intenisty</text>
<text x="0" y="0" font-size="58" font-weight="bold" transform="translate(742 42.4) scale(1 1.1)">c</text>
<line x1="1094" y1="109.9" x2="1141.6" y2="109.9" stroke="#03c6c6" stroke-width="3"/>
<circle cx="1117.7" cy="109.9" r="5.9" fill="#fff" stroke="#03c6c6" stroke-width="2.4"/>
<text x="1148" y="116.8" font-size="23">GaN</text>
<line x1="1094" y1="138.5" x2="1141.6" y2="138.5" stroke="#e57883" stroke-width="3"/>
<circle cx="1117.7" cy="138.5" r="5.9" fill="#fff" stroke="#e57883" stroke-width="2.4"/>
<text x="1148" y="145.8" font-size="23">Pt/GaN</text>
<clipPath id="cd"><rect x="1452" y="19" width="494.5" height="447.8"/></clipPath>
<path d="M1452.4 196.3 L1455.5 189 L1460.3 170.6 L1465.5 152.7 L1470.5 137.7 L1475.7 123.4 L1481 111 L1486 100.1 L1491.2 90.8 L1497.2 83.6 L1502.7 76.2 L1507.9 70.3 L1512.7 65.5 L1517.5 62.6 L1522.2 61 L1527 60.3 L1533 63.8 L1540.1 71.7 L1546.8 83.6 L1553.9 98.9 L1561.1 118.2 L1568.7 141.3 L1575.8 168.7 L1583.7 197.8 L1591.3 229.5 L1599.8 260.8 L1605.8 289.5 L1614.8 318 L1624.3 342.2 L1633.7 362.2 L1642.6 380.1 L1652.7 395.5 L1662.2 407.5 L1672.7 418.1 L1682.6 426.5 L1692.8 432.8 L1703.9 437.7 L1714.9 441.3 L1726.5 444 L1738.1 446.5 L1750.3 449.3 L1763.2 451.6 L1776 453.6 L1789.6 454.9 L1803.3 454.9 L1817.6 454.3 L1831.9 453.3 L1846.6 452.3 L1862.4 451.3 L1878.8 448.2 L1895.6 447.2 L1912.4 446.7 L1930.2 446.7 L1947 446.7" fill="none" stroke="#e57883" stroke-width="2.6" stroke-linejoin="round" clip-path="url(#cd)"/>
<g fill="#fff" stroke="#e57883" stroke-width="2.4" clip-path="url(#cd)"><circle cx="1452.4" cy="196.3" r="5.8"/><circle cx="1455.5" cy="189" r="5.8"/><circle cx="1460.3" cy="170.6" r="5.8"/><circle cx="1465.5" cy="152.7" r="5.8"/><circle cx="1470.5" cy="137.7" r="5.8"/><circle cx="1475.7" cy="123.4" r="5.8"/><circle cx="1481" cy="111" r="5.8"/><circle cx="1486" cy="100.1" r="5.8"/><circle cx="1491.2" cy="90.8" r="5.8"/><circle cx="1497.2" cy="83.6" r="5.8"/><circle cx="1502.7" cy="76.2" r="5.8"/><circle cx="1507.9" cy="70.3" r="5.8"/><circle cx="1512.7" cy="65.5" r="5.8"/><circle cx="1517.5" cy="62.6" r="5.8"/><circle cx="1522.2" cy="61" r="5.8"/><circle cx="1527" cy="60.3" r="5.8"/><circle cx="1533" cy="63.8" r="5.8"/><circle cx="1540.1" cy="71.7" r="5.8"/><circle cx="1546.8" cy="83.6" r="5.8"/><circle cx="1553.9" cy="98.9" r="5.8"/><circle cx="1561.1" cy="118.2" r="5.8"/><circle cx="1568.7" cy="141.3" r="5.8"/><circle cx="1575.8" cy="168.7" r="5.8"/><circle cx="1583.7" cy="197.8" r="5.8"/><circle cx="1591.3" cy="229.5" r="5.8"/><circle cx="1599.8" cy="260.8" r="5.8"/><circle cx="1605.8" cy="289.5" r="5.8"/><circle cx="1614.8" cy="318" r="5.8"/><circle cx="1624.3" cy="342.2" r="5.8"/><circle cx="1633.7" cy="362.2" r="5.8"/><circle cx="1642.6" cy="380.1" r="5.8"/><circle cx="1652.7" cy="395.5" r="5.8"/><circle cx="1662.2" cy="407.5" r="5.8"/><circle cx="1672.7" cy="418.1" r="5.8"/><circle cx="1682.6" cy="426.5" r="5.8"/><circle cx="1692.8" cy="432.8" r="5.8"/><circle cx="1703.9" cy="437.7" r="5.8"/><circle cx="1714.9" cy="441.3" r="5.8"/><circle cx="1726.5" cy="444" r="5.8"/><circle cx="1738.1" cy="446.5" r="5.8"/><circle cx="1750.3" cy="449.3" r="5.8"/><circle cx="1763.2" cy="451.6" r="5.8"/><circle cx="1776" cy="453.6" r="5.8"/><circle cx="1789.6" cy="454.9" r="5.8"/><circle cx="1803.3" cy="454.9" r="5.8"/><circle cx="1817.6" cy="454.3" r="5.8"/><circle cx="1831.9" cy="453.3" r="5.8"/><circle cx="1846.6" cy="452.3" r="5.8"/><circle cx="1862.4" cy="451.3" r="5.8"/><circle cx="1878.8" cy="448.2" r="5.8"/><circle cx="1895.6" cy="447.2" r="5.8"/><circle cx="1912.4" cy="446.7" r="5.8"/><circle cx="1930.2" cy="446.7" r="5.8"/><circle cx="1947" cy="446.7" r="5.8"/></g>
<path d="M1453 218.1 L1456.6 208.6 L1460.1 200.8 L1463.7 197.1 L1467.4 196 L1471 196.9 L1474.7 199.1 L1478.3 202.5 L1482 205.6 L1485.7 208.4 L1489.5 211 L1493.2 213.6 L1497 215.4 L1500.8 216.5 L1504.6 216.2 L1508.4 215.4 L1512.4 213.7 L1516.4 211.8 L1520.4 209.9 L1524.6 209 L1528.8 209.4 L1533 210.2 L1537.4 211.6 L1541.7 213.4 L1546.2 215.6 L1550.8 218.3 L1555.4 220.9 L1560.1 223.6 L1565 226.6 L1570 230.3 L1575.2 235 L1580.5 242.9 L1586 253.2 L1591.7 262 L1597.5 270 L1603.6 280.3 L1609.9 291.6 L1616.2 302.5 L1622.6 314.2 L1629.1 326.1 L1635.7 338.2 L1642.4 349.8 L1649.2 360.9 L1656 371.8 L1663 381.8 L1670 390.9 L1677.3 399.7 L1684.7 406.7 L1692.3 412.9 L1700.1 418.4 L1708.1 423.2 L1716.4 427.1 L1724.9 430.1 L1733.7 433 L1742.8 435 L1752.2 437.3 L1761.8 438.9 L1771.8 440.5 L1782 442.2 L1792.6 443.7 L1803.5 444.8 L1814.7 445.8 L1826.2 446.7 L1837.9 447.7 L1850 448.7 L1862.4 449.2 L1875.2 449.8 L1888.3 450.3 L1901.7 450.8 L1915.6 451.3 L1929.5 451.3 L1943.6 451.8" fill="none" stroke="#03c6c6" stroke-width="2.6" stroke-linejoin="round" clip-path="url(#cd)"/>
<g fill="#fff" stroke="#03c6c6" stroke-width="2.4" clip-path="url(#cd)"><circle cx="1453" cy="218.1" r="5.8"/><circle cx="1456.6" cy="208.6" r="5.8"/><circle cx="1460.1" cy="200.8" r="5.8"/><circle cx="1463.7" cy="197.1" r="5.8"/><circle cx="1467.4" cy="196" r="5.8"/><circle cx="1471" cy="196.9" r="5.8"/><circle cx="1474.7" cy="199.1" r="5.8"/><circle cx="1478.3" cy="202.5" r="5.8"/><circle cx="1482" cy="205.6" r="5.8"/><circle cx="1485.7" cy="208.4" r="5.8"/><circle cx="1489.5" cy="211" r="5.8"/><circle cx="1493.2" cy="213.6" r="5.8"/><circle cx="1497" cy="215.4" r="5.8"/><circle cx="1500.8" cy="216.5" r="5.8"/><circle cx="1504.6" cy="216.2" r="5.8"/><circle cx="1508.4" cy="215.4" r="5.8"/><circle cx="1512.4" cy="213.7" r="5.8"/><circle cx="1516.4" cy="211.8" r="5.8"/><circle cx="1520.4" cy="209.9" r="5.8"/><circle cx="1524.6" cy="209" r="5.8"/><circle cx="1528.8" cy="209.4" r="5.8"/><circle cx="1533" cy="210.2" r="5.8"/><circle cx="1537.4" cy="211.6" r="5.8"/><circle cx="1541.7" cy="213.4" r="5.8"/><circle cx="1546.2" cy="215.6" r="5.8"/><circle cx="1550.8" cy="218.3" r="5.8"/><circle cx="1555.4" cy="220.9" r="5.8"/><circle cx="1560.1" cy="223.6" r="5.8"/><circle cx="1565" cy="226.6" r="5.8"/><circle cx="1570" cy="230.3" r="5.8"/><circle cx="1575.2" cy="235" r="5.8"/><circle cx="1580.5" cy="242.9" r="5.8"/><circle cx="1586" cy="253.2" r="5.8"/><circle cx="1591.7" cy="262" r="5.8"/><circle cx="1597.5" cy="270" r="5.8"/><circle cx="1603.6" cy="280.3" r="5.8"/><circle cx="1609.9" cy="291.6" r="5.8"/><circle cx="1616.2" cy="302.5" r="5.8"/><circle cx="1622.6" cy="314.2" r="5.8"/><circle cx="1629.1" cy="326.1" r="5.8"/><circle cx="1635.7" cy="338.2" r="5.8"/><circle cx="1642.4" cy="349.8" r="5.8"/><circle cx="1649.2" cy="360.9" r="5.8"/><circle cx="1656" cy="371.8" r="5.8"/><circle cx="1663" cy="381.8" r="5.8"/><circle cx="1670" cy="390.9" r="5.8"/><circle cx="1677.3" cy="399.7" r="5.8"/><circle cx="1684.7" cy="406.7" r="5.8"/><circle cx="1692.3" cy="412.9" r="5.8"/><circle cx="1700.1" cy="418.4" r="5.8"/><circle cx="1708.1" cy="423.2" r="5.8"/><circle cx="1716.4" cy="427.1" r="5.8"/><circle cx="1724.9" cy="430.1" r="5.8"/><circle cx="1733.7" cy="433" r="5.8"/><circle cx="1742.8" cy="435" r="5.8"/><circle cx="1752.2" cy="437.3" r="5.8"/><circle cx="1761.8" cy="438.9" r="5.8"/><circle cx="1771.8" cy="440.5" r="5.8"/><circle cx="1782" cy="442.2" r="5.8"/><circle cx="1792.6" cy="443.7" r="5.8"/><circle cx="1803.5" cy="444.8" r="5.8"/><circle cx="1814.7" cy="445.8" r="5.8"/><circle cx="1826.2" cy="446.7" r="5.8"/><circle cx="1837.9" cy="447.7" r="5.8"/><circle cx="1850" cy="448.7" r="5.8"/><circle cx="1862.4" cy="449.2" r="5.8"/><circle cx="1875.2" cy="449.8" r="5.8"/><circle cx="1888.3" cy="450.3" r="5.8"/><circle cx="1901.7" cy="450.8" r="5.8"/><circle cx="1915.6" cy="451.3" r="5.8"/><circle cx="1929.5" cy="451.3" r="5.8"/><circle cx="1943.6" cy="451.8" r="5.8"/></g>
<rect x="1452" y="19" width="494.5" height="447.8" fill="none" stroke="#000" stroke-width="2.2"/>
<line x1="1452" y1="466.8" x2="1452" y2="475.3" stroke="#000" stroke-width="2.2"/>
<text x="1452" y="500" font-size="23.5" text-anchor="middle">0.5</text>
<line x1="1534.4" y1="466.8" x2="1534.4" y2="471.3" stroke="#000" stroke-width="2.2"/>
<line x1="1616.8" y1="466.8" x2="1616.8" y2="475.3" stroke="#000" stroke-width="2.2"/>
<text x="1616.8" y="500" font-size="23.5" text-anchor="middle">1.0</text>
<line x1="1699.2" y1="466.8" x2="1699.2" y2="471.3" stroke="#000" stroke-width="2.2"/>
<line x1="1781.7" y1="466.8" x2="1781.7" y2="475.3" stroke="#000" stroke-width="2.2"/>
<text x="1781.7" y="500" font-size="23.5" text-anchor="middle">1.5</text>
<line x1="1864.1" y1="466.8" x2="1864.1" y2="471.3" stroke="#000" stroke-width="2.2"/>
<line x1="1946.5" y1="466.8" x2="1946.5" y2="475.3" stroke="#000" stroke-width="2.2"/>
<text x="1946.5" y="500" font-size="23.5" text-anchor="middle">2.0</text>
<line x1="1443.5" y1="452.1" x2="1452" y2="452.1" stroke="#000" stroke-width="2.2"/>
<text x="1437.2" y="458.9" font-size="23.5" text-anchor="end">0.0</text>
<line x1="1447.5" y1="379.9" x2="1452" y2="379.9" stroke="#000" stroke-width="2.2"/>
<line x1="1443.5" y1="307.7" x2="1452" y2="307.7" stroke="#000" stroke-width="2.2"/>
<text x="1437.2" y="314.5" font-size="23.5" text-anchor="end">0.1</text>
<line x1="1447.5" y1="235.5" x2="1452" y2="235.5" stroke="#000" stroke-width="2.2"/>
<line x1="1443.5" y1="163.3" x2="1452" y2="163.3" stroke="#000" stroke-width="2.2"/>
<text x="1437.2" y="170.1" font-size="23.5" text-anchor="end">0.2</text>
<line x1="1447.5" y1="91.1" x2="1452" y2="91.1" stroke="#000" stroke-width="2.2"/>
<line x1="1443.5" y1="18.9" x2="1452" y2="18.9" stroke="#000" stroke-width="2.2"/>
<text x="1437.2" y="25.7" font-size="23.5" text-anchor="end">0.3</text>
<text x="1699.6" y="535" font-size="23.5" text-anchor="middle">Kinetic energy (eV)</text>
<text x="1395.6" y="242.8" font-size="23.5" text-anchor="middle" transform="rotate(-90 1395.6 242.8)">Normalized intenisty</text>
<text x="1365.7" y="44.3" font-size="62">d</text>
<text x="1775" y="55.2" font-size="28">-0.2 ps</text>
<line x1="1764.2" y1="125.9" x2="1811.9" y2="125.9" stroke="#03c6c6" stroke-width="3"/>
<circle cx="1788.1" cy="125.9" r="5.9" fill="#fff" stroke="#03c6c6" stroke-width="2.4"/>
<text x="1818.5" y="132.9" font-size="23">GaN</text>
<line x1="1764.2" y1="154.2" x2="1811.9" y2="154.2" stroke="#e57883" stroke-width="3"/>
<circle cx="1788.1" cy="154.2" r="5.9" fill="#fff" stroke="#e57883" stroke-width="2.4"/>
<text x="1818.5" y="161.5" font-size="23">Pt/GaN</text>
<clipPath id="ce"><rect x="857.8" y="569" width="1023.7" height="452.8"/><rect x="1900.5" y="569" width="45.1" height="452.8"/></clipPath>
<g fill="none" stroke="#f4c0c6" stroke-width="2.8" clip-path="url(#ce)"><rect x="855.4" y="937.4" width="11.6" height="11.6"/><rect x="930.8" y="951" width="11.6" height="11.6"/><rect x="1009.3" y="949" width="11.6" height="11.6"/><rect x="1049.1" y="942.9" width="11.6" height="11.6"/><rect x="1088.2" y="913.9" width="11.6" height="11.6"/><rect x="1127.6" y="912.7" width="11.6" height="11.6"/><rect x="1166.9" y="905.8" width="11.6" height="11.6"/><rect x="1182.6" y="903.7" width="11.6" height="11.6"/><rect x="1198.5" y="904.2" width="11.6" height="11.6"/><rect x="1214.2" y="920.1" width="11.6" height="11.6"/><rect x="1229.5" y="905.2" width="11.6" height="11.6"/><rect x="1245.4" y="906.6" width="11.6" height="11.6"/><rect x="1261.3" y="895.4" width="11.6" height="11.6"/><rect x="1277" y="916.8" width="11.6" height="11.6"/><rect x="1292.9" y="894.3" width="11.6" height="11.6"/><rect x="1308.6" y="931" width="11.6" height="11.6"/><rect x="1324.5" y="904.1" width="11.6" height="11.6"/><rect x="1340.2" y="893.7" width="11.6" height="11.6"/><rect x="1355.9" y="935.5" width="11.6" height="11.6"/><rect x="1371.8" y="906.6" width="11.6" height="11.6"/><rect x="1387.1" y="889.2" width="11.6" height="11.6"/><rect x="1403" y="913.7" width="11.6" height="11.6"/><rect x="1411" y="878" width="11.6" height="11.6"/><rect x="1418.7" y="883.1" width="11.6" height="11.6"/><rect x="1426.9" y="886.2" width="11.6" height="11.6"/><rect x="1434.6" y="881.1" width="11.6" height="11.6"/><rect x="1442.6" y="908.6" width="11.6" height="11.6"/><rect x="1450.3" y="917.4" width="11.6" height="11.6"/><rect x="1458.5" y="898.4" width="11.6" height="11.6"/><rect x="1466.2" y="920.2" width="11.6" height="11.6"/><rect x="1474.2" y="890.9" width="11.6" height="11.6"/><rect x="1481.9" y="889.2" width="11.6" height="11.6"/><rect x="1490.1" y="882.1" width="11.6" height="11.6"/><rect x="1497.8" y="900.9" width="11.6" height="11.6"/><rect x="1505.4" y="875" width="11.6" height="11.6"/><rect x="1513.1" y="879.1" width="11.6" height="11.6"/><rect x="1521.7" y="854.6" width="11.6" height="11.6"/><rect x="1529.2" y="878.6" width="11.6" height="11.6"/><rect x="1532.9" y="852.5" width="11.6" height="11.6"/><rect x="1538" y="867.8" width="11.6" height="11.6"/><rect x="1541" y="874" width="11.6" height="11.6"/><rect x="1549.2" y="843.4" width="11.6" height="11.6"/><rect x="1556.2" y="844.2" width="11.6" height="11.6"/><rect x="1560.4" y="863.8" width="11.6" height="11.6"/><rect x="1564.5" y="856.6" width="11.6" height="11.6"/><rect x="1572.6" y="842.4" width="11.6" height="11.6"/><rect x="1578.7" y="854.6" width="11.6" height="11.6"/><rect x="1588.9" y="849.5" width="11.6" height="11.6"/><rect x="1597.1" y="838.3" width="11.6" height="11.6"/><rect x="1648.3" y="895.4" width="11.6" height="11.6"/><rect x="1653.8" y="912.5" width="11.6" height="11.6"/><rect x="1658.6" y="929.7" width="11.6" height="11.6"/><rect x="1655.8" y="880.2" width="11.6" height="11.6"/><rect x="1665.5" y="885.7" width="11.6" height="11.6"/><rect x="1671" y="910.5" width="11.6" height="11.6"/><rect x="1677.2" y="930.4" width="11.6" height="11.6"/><rect x="1683.3" y="909.8" width="11.6" height="11.6"/><rect x="1690.2" y="924.2" width="11.6" height="11.6"/><rect x="1694.4" y="946.9" width="11.6" height="11.6"/><rect x="1698.5" y="916" width="11.6" height="11.6"/><rect x="1702.6" y="894" width="11.6" height="11.6"/><rect x="1710.9" y="910.5" width="11.6" height="11.6"/><rect x="1715" y="913.2" width="11.6" height="11.6"/><rect x="1721.9" y="933.9" width="11.6" height="11.6"/><rect x="1730.1" y="910.5" width="11.6" height="11.6"/><rect x="1745.2" y="910.5" width="11.6" height="11.6"/><rect x="1749.4" y="872" width="11.6" height="11.6"/><rect x="1757.6" y="911.9" width="11.6" height="11.6"/><rect x="1773.4" y="922.9" width="11.6" height="11.6"/><rect x="1781" y="929.7" width="11.6" height="11.6"/><rect x="1789.3" y="909.1" width="11.6" height="11.6"/><rect x="1793.4" y="940.7" width="11.6" height="11.6"/><rect x="1646.9" y="874.7" width="11.6" height="11.6"/><rect x="1646.9" y="834.8" width="11.6" height="11.6"/><rect x="1643.5" y="845.8" width="11.6" height="11.6"/><rect x="1643.5" y="858.2" width="11.6" height="11.6"/><rect x="1643.5" y="891.2" width="11.6" height="11.6"/><rect x="1651.7" y="920.1" width="11.6" height="11.6"/><rect x="1677.2" y="892.6" width="11.6" height="11.6"/><rect x="1688.2" y="891.2" width="11.6" height="11.6"/><rect x="1776.2" y="921.8" width="11.6" height="11.6"/><rect x="1796.9" y="941.5" width="11.6" height="11.6"/><rect x="1805" y="878.5" width="11.6" height="11.6"/><rect x="1820.6" y="871.4" width="11.6" height="11.6"/><rect x="1828.2" y="910.2" width="11.6" height="11.6"/><rect x="1836.2" y="874.5" width="11.6" height="11.6"/><rect x="1844.3" y="943.5" width="11.6" height="11.6"/><rect x="1868" y="887.6" width="11.6" height="11.6"/><rect x="1897.2" y="884.5" width="11.6" height="11.6"/><rect x="1917.4" y="908.7" width="11.6" height="11.6"/><rect x="1936" y="900.7" width="11.6" height="11.6"/><rect x="1736.2" y="899.2" width="11.6" height="11.6"/><rect x="1764.2" y="899.2" width="11.6" height="11.6"/><rect x="1619.7" y="683.5" width="11.6" height="11.6"/><rect x="1623" y="690" width="11.6" height="11.6"/><rect x="1621.2" y="697" width="11.6" height="11.6"/><rect x="1620.8" y="706.5" width="11.6" height="11.6"/><rect x="1619.9" y="712" width="11.6" height="11.6"/><rect x="1617.7" y="720.2" width="11.6" height="11.6"/><rect x="1614.1" y="723.1" width="11.6" height="11.6"/><rect x="1615.2" y="732.5" width="11.6" height="11.6"/><rect x="1616.2" y="741.5" width="11.6" height="11.6"/><rect x="1612.1" y="748.8" width="11.6" height="11.6"/><rect x="1613.9" y="756.6" width="11.6" height="11.6"/><rect x="1612.2" y="761" width="11.6" height="11.6"/><rect x="1609.7" y="767.4" width="11.6" height="11.6"/><rect x="1604.3" y="776.7" width="11.6" height="11.6"/><rect x="1602.7" y="782.2" width="11.6" height="11.6"/><rect x="1606.9" y="789.5" width="11.6" height="11.6"/><rect x="1604" y="795.3" width="11.6" height="11.6"/><rect x="1603.6" y="803.2" width="11.6" height="11.6"/><rect x="1597.5" y="809.2" width="11.6" height="11.6"/><rect x="1596.4" y="816.2" width="11.6" height="11.6"/><rect x="1594.1" y="823.1" width="11.6" height="11.6"/><rect x="1587.7" y="831.4" width="11.6" height="11.6"/><rect x="1580.5" y="838.4" width="11.6" height="11.6"/><rect x="1567.3" y="847.6" width="11.6" height="11.6"/><rect x="1549.6" y="852.5" width="11.6" height="11.6"/><rect x="1528.7" y="856.8" width="11.6" height="11.6"/><rect x="1598.3" y="800" width="11.6" height="11.6"/><rect x="1602.5" y="859.9" width="11.6" height="11.6"/><rect x="1605.1" y="804.4" width="11.6" height="11.6"/><rect x="1581.4" y="861.3" width="11.6" height="11.6"/><rect x="1589.4" y="814.5" width="11.6" height="11.6"/><rect x="1588.9" y="843.7" width="11.6" height="11.6"/><rect x="1582.7" y="830.7" width="11.6" height="11.6"/><rect x="1596.7" y="848.3" width="11.6" height="11.6"/><rect x="1578.5" y="855" width="11.6" height="11.6"/><rect x="1590.4" y="826.9" width="11.6" height="11.6"/><rect x="1642" y="649.2" width="11.6" height="11.6"/><rect x="1644" y="656.2" width="11.6" height="11.6"/><rect x="1644.5" y="663.2" width="11.6" height="11.6"/><rect x="1644.4" y="670.2" width="11.6" height="11.6"/><rect x="1645.7" y="677.2" width="11.6" height="11.6"/><rect x="1645.3" y="684.2" width="11.6" height="11.6"/><rect x="1644.7" y="691.2" width="11.6" height="11.6"/><rect x="1645.8" y="698.2" width="11.6" height="11.6"/><rect x="1646" y="705.2" width="11.6" height="11.6"/><rect x="1646.3" y="712.2" width="11.6" height="11.6"/><rect x="1645.6" y="719.2" width="11.6" height="11.6"/><rect x="1647" y="726.2" width="11.6" height="11.6"/><rect x="1647.3" y="733.2" width="11.6" height="11.6"/><rect x="1646.7" y="740.2" width="11.6" height="11.6"/><rect x="1647.5" y="747.2" width="11.6" height="11.6"/><rect x="1648.5" y="754.2" width="11.6" height="11.6"/><rect x="1648.7" y="761.2" width="11.6" height="11.6"/><rect x="1650.7" y="768.2" width="11.6" height="11.6"/><rect x="1650.2" y="775.2" width="11.6" height="11.6"/><rect x="1650.1" y="782.2" width="11.6" height="11.6"/><rect x="1650.8" y="789.2" width="11.6" height="11.6"/><rect x="1652.2" y="796.2" width="11.6" height="11.6"/><rect x="1654.5" y="803.2" width="11.6" height="11.6"/><rect x="1654.5" y="810.2" width="11.6" height="11.6"/><rect x="1656.1" y="817.2" width="11.6" height="11.6"/><rect x="1658.4" y="824.2" width="11.6" height="11.6"/><rect x="1660.1" y="831.2" width="11.6" height="11.6"/><rect x="1663.1" y="838.2" width="11.6" height="11.6"/><rect x="1663.8" y="845.2" width="11.6" height="11.6"/><rect x="1667.4" y="852.2" width="11.6" height="11.6"/><rect x="1628.1" y="654.2" width="11.6" height="11.6"/><rect x="1627.3" y="662.2" width="11.6" height="11.6"/><rect x="1625.3" y="670.2" width="11.6" height="11.6"/><rect x="1626.4" y="678.2" width="11.6" height="11.6"/><rect x="1624.8" y="686.2" width="11.6" height="11.6"/><rect x="1624.4" y="694.2" width="11.6" height="11.6"/><rect x="1623.5" y="702.2" width="11.6" height="11.6"/><rect x="1623.2" y="710.2" width="11.6" height="11.6"/><rect x="1623.7" y="718.2" width="11.6" height="11.6"/><rect x="1623.5" y="726.2" width="11.6" height="11.6"/><rect x="1622.9" y="734.2" width="11.6" height="11.6"/><rect x="1622.7" y="742.2" width="11.6" height="11.6"/><rect x="1621.9" y="750.2" width="11.6" height="11.6"/><rect x="1620.9" y="758.2" width="11.6" height="11.6"/></g>
<g fill="none" stroke="#8fe5de" stroke-width="2.9" clip-path="url(#ce)"><circle cx="896.9" cy="975.2" r="6.5"/><circle cx="936.6" cy="998.6" r="6.5"/><circle cx="976" cy="961.3" r="6.5"/><circle cx="1015.1" cy="998.6" r="6.5"/><circle cx="1054.9" cy="963.6" r="6.5"/><circle cx="1094" cy="996" r="6.5"/><circle cx="1133.4" cy="962.6" r="6.5"/><circle cx="1172.7" cy="1010.9" r="6.5"/><circle cx="1188.4" cy="960.3" r="6.5"/><circle cx="1204.3" cy="977.8" r="6.5"/><circle cx="1220" cy="972.1" r="6.5"/><circle cx="1267.1" cy="997" r="6.5"/><circle cx="1282.8" cy="947.4" r="6.5"/><circle cx="1299.1" cy="983.7" r="6.5"/><circle cx="1314.4" cy="971.5" r="6.5"/><circle cx="1330.3" cy="986.8" r="6.5"/><circle cx="1346" cy="993.9" r="6.5"/><circle cx="1361.7" cy="997" r="6.5"/><circle cx="1377.6" cy="987.4" r="6.5"/><circle cx="1392.9" cy="969.5" r="6.5"/><circle cx="1408.8" cy="945.4" r="6.5"/><circle cx="1416.8" cy="926.2" r="6.5"/><circle cx="1424.5" cy="939.9" r="6.5"/><circle cx="1432.7" cy="923.6" r="6.5"/><circle cx="1440.4" cy="1004.1" r="6.5"/><circle cx="1448.4" cy="953.1" r="6.5"/><circle cx="1456.1" cy="978.2" r="6.5"/><circle cx="1464.3" cy="945" r="6.5"/><circle cx="1472.4" cy="945" r="6.5"/><circle cx="1480" cy="968.8" r="6.5"/><circle cx="1487.7" cy="944.6" r="6.5"/><circle cx="1495.9" cy="951.1" r="6.5"/><circle cx="1503.6" cy="941.3" r="6.5"/><circle cx="1511.2" cy="932.8" r="6.5"/><circle cx="1518.9" cy="946" r="6.5"/><circle cx="1527.5" cy="950.1" r="6.5"/><circle cx="1531.5" cy="944" r="6.5"/><circle cx="1535" cy="915" r="6.5"/><circle cx="1539.7" cy="920.5" r="6.5"/><circle cx="1543.8" cy="944" r="6.5"/><circle cx="1546.4" cy="927.3" r="6.5"/><circle cx="1550.9" cy="956.6" r="6.5"/><circle cx="1555" cy="945.6" r="6.5"/><circle cx="1558.5" cy="918.5" r="6.5"/><circle cx="1566.2" cy="910.3" r="6.5"/><circle cx="1574.3" cy="926.6" r="6.5"/><circle cx="1578.4" cy="905.2" r="6.5"/><circle cx="1582.5" cy="892" r="6.5"/><circle cx="1586.6" cy="911.4" r="6.5"/><circle cx="1594.7" cy="898.1" r="6.5"/><circle cx="1602.9" cy="891" r="6.5"/><circle cx="1650.6" cy="837.9" r="6.5"/><circle cx="1654.1" cy="848.9" r="6.5"/><circle cx="1657.5" cy="861.3" r="6.5"/><circle cx="1669.9" cy="846.1" r="6.5"/><circle cx="1675.4" cy="854.4" r="6.5"/><circle cx="1680.9" cy="861.3" r="6.5"/><circle cx="1685" cy="872.3" r="6.5"/><circle cx="1693.3" cy="865.4" r="6.5"/><circle cx="1698.8" cy="877.8" r="6.5"/><circle cx="1707" cy="880.5" r="6.5"/><circle cx="1719.4" cy="876.4" r="6.5"/><circle cx="1726.3" cy="890.2" r="6.5"/><circle cx="1735.9" cy="880.5" r="6.5"/><circle cx="1740" cy="895.7" r="6.5"/><circle cx="1749.7" cy="894.3" r="6.5"/><circle cx="1756.5" cy="897" r="6.5"/><circle cx="1763.4" cy="905.3" r="6.5"/><circle cx="1771.7" cy="913.5" r="6.5"/><circle cx="1778.6" cy="897" r="6.5"/><circle cx="1689.1" cy="887.4" r="6.5"/><circle cx="1708.4" cy="891.5" r="6.5"/><circle cx="1714" cy="884" r="6.5"/><circle cx="1745" cy="885" r="6.5"/><circle cx="1795.1" cy="884.3" r="6.5"/><circle cx="1803.2" cy="887.3" r="6.5"/><circle cx="1810.8" cy="899.4" r="6.5"/><circle cx="1818.3" cy="905" r="6.5"/><circle cx="1826.4" cy="895.4" r="6.5"/><circle cx="1834.5" cy="899.4" r="6.5"/><circle cx="1842" cy="884.3" r="6.5"/><circle cx="1850.1" cy="901.4" r="6.5"/><circle cx="1857.6" cy="922.1" r="6.5"/><circle cx="1865.7" cy="904" r="6.5"/><circle cx="1874.3" cy="907.5" r="6.5"/><circle cx="1877.8" cy="920.6" r="6.5"/><circle cx="1904" cy="921.6" r="6.5"/><circle cx="1923" cy="930.2" r="6.5"/><circle cx="1945.4" cy="922.6" r="6.5"/><circle cx="1636.9" cy="654" r="6.5"/><circle cx="1633.5" cy="660.5" r="6.5"/><circle cx="1633.9" cy="667" r="6.5"/><circle cx="1632.8" cy="673.5" r="6.5"/><circle cx="1632.3" cy="680" r="6.5"/><circle cx="1631.9" cy="686.5" r="6.5"/><circle cx="1630.5" cy="693" r="6.5"/><circle cx="1631.1" cy="699.5" r="6.5"/><circle cx="1630.5" cy="706" r="6.5"/><circle cx="1632.3" cy="712.5" r="6.5"/><circle cx="1630.4" cy="719" r="6.5"/><circle cx="1629.8" cy="725.5" r="6.5"/><circle cx="1629.6" cy="732" r="6.5"/><circle cx="1629.1" cy="738.5" r="6.5"/><circle cx="1628.4" cy="745" r="6.5"/><circle cx="1628.3" cy="751.5" r="6.5"/><circle cx="1628.4" cy="758" r="6.5"/><circle cx="1627.6" cy="764.5" r="6.5"/><circle cx="1627.6" cy="771" r="6.5"/><circle cx="1626.6" cy="777.5" r="6.5"/><circle cx="1626.2" cy="784" r="6.5"/><circle cx="1626.4" cy="790.5" r="6.5"/><circle cx="1625" cy="797" r="6.5"/><circle cx="1623.8" cy="803.5" r="6.5"/><circle cx="1623.1" cy="810" r="6.5"/><circle cx="1622.5" cy="816.5" r="6.5"/><circle cx="1621.7" cy="823" r="6.5"/><circle cx="1619" cy="829.5" r="6.5"/><circle cx="1634.2" cy="801" r="6.5"/><circle cx="1632.7" cy="803.7" r="6.5"/><circle cx="1634.8" cy="808.6" r="6.5"/><circle cx="1633" cy="812.7" r="6.5"/><circle cx="1628" cy="817" r="6.5"/><circle cx="1630.1" cy="818.3" r="6.5"/><circle cx="1631.1" cy="824.7" r="6.5"/><circle cx="1629" cy="826.9" r="6.5"/><circle cx="1628.6" cy="831.9" r="6.5"/><circle cx="1629.4" cy="836.7" r="6.5"/><circle cx="1625.4" cy="841.1" r="6.5"/><circle cx="1623.2" cy="843.1" r="6.5"/><circle cx="1622.6" cy="848.6" r="6.5"/><circle cx="1619.6" cy="851.2" r="6.5"/><circle cx="1618.4" cy="853.5" r="6.5"/><circle cx="1616.3" cy="860.5" r="6.5"/><circle cx="1610.8" cy="864.1" r="6.5"/><circle cx="1609.9" cy="868.8" r="6.5"/><circle cx="1605.3" cy="871.1" r="6.5"/><circle cx="1607.4" cy="877.2" r="6.5"/><circle cx="1601.1" cy="879.5" r="6.5"/><circle cx="1601.7" cy="883.4" r="6.5"/><circle cx="1601.4" cy="886.8" r="6.5"/><circle cx="1597.5" cy="891" r="6.5"/><circle cx="1595.8" cy="896" r="6.5"/><circle cx="1590.9" cy="898.3" r="6.5"/><circle cx="1591.7" cy="904.8" r="6.5"/><circle cx="1641.2" cy="703" r="6.5"/><circle cx="1641.5" cy="711" r="6.5"/><circle cx="1641.2" cy="719" r="6.5"/><circle cx="1640.8" cy="727" r="6.5"/><circle cx="1641" cy="735" r="6.5"/><circle cx="1641.4" cy="743" r="6.5"/><circle cx="1643.3" cy="751" r="6.5"/><circle cx="1642.3" cy="759" r="6.5"/><circle cx="1643.5" cy="767" r="6.5"/><circle cx="1644.3" cy="775" r="6.5"/><circle cx="1645.2" cy="783" r="6.5"/><circle cx="1646" cy="791" r="6.5"/><circle cx="1645.7" cy="799" r="6.5"/><circle cx="1647.1" cy="656" r="6.5"/><circle cx="1648.7" cy="662.5" r="6.5"/><circle cx="1650" cy="669" r="6.5"/><circle cx="1650.2" cy="675.5" r="6.5"/><circle cx="1650.2" cy="682" r="6.5"/><circle cx="1650.2" cy="688.5" r="6.5"/><circle cx="1650.7" cy="695" r="6.5"/><circle cx="1650.6" cy="701.5" r="6.5"/><circle cx="1651.2" cy="708" r="6.5"/><circle cx="1650.5" cy="714.5" r="6.5"/><circle cx="1651.1" cy="721" r="6.5"/><circle cx="1651.2" cy="727.5" r="6.5"/><circle cx="1651.8" cy="734" r="6.5"/><circle cx="1651.9" cy="740.5" r="6.5"/><circle cx="1653.4" cy="747" r="6.5"/><circle cx="1653.6" cy="753.5" r="6.5"/><circle cx="1654.1" cy="760" r="6.5"/><circle cx="1652.9" cy="766.5" r="6.5"/><circle cx="1654.2" cy="773" r="6.5"/><circle cx="1654.6" cy="779.5" r="6.5"/><circle cx="1655.6" cy="786" r="6.5"/><circle cx="1654.7" cy="792.5" r="6.5"/><circle cx="1657.1" cy="799" r="6.5"/><circle cx="1658.1" cy="805.5" r="6.5"/><circle cx="1657.9" cy="812" r="6.5"/><circle cx="1659.3" cy="818.5" r="6.5"/><circle cx="1660.9" cy="825" r="6.5"/><circle cx="1663.4" cy="831.5" r="6.5"/><circle cx="1665.2" cy="838" r="6.5"/><circle cx="1667.6" cy="844.5" r="6.5"/><circle cx="1673.9" cy="866" r="6.5"/><circle cx="1676.1" cy="868" r="6.5"/><circle cx="1686.1" cy="846.4" r="6.5"/><circle cx="1680.8" cy="858.4" r="6.5"/><circle cx="1690.9" cy="845.7" r="6.5"/><circle cx="1670.4" cy="863.5" r="6.5"/><circle cx="1679.4" cy="869.9" r="6.5"/><circle cx="1676.6" cy="850.3" r="6.5"/><circle cx="1699.4" cy="852.2" r="6.5"/><circle cx="1669.6" cy="853.8" r="6.5"/><circle cx="1676.9" cy="851.5" r="6.5"/><circle cx="1684.4" cy="881.4" r="6.5"/><circle cx="1668.8" cy="859.4" r="6.5"/><circle cx="1689.4" cy="879.2" r="6.5"/><circle cx="1641.8" cy="647.5" r="6.5"/><circle cx="1638.5" cy="650" r="6.5"/><circle cx="1645" cy="650" r="6.5"/></g>
<path d="M857.8 967.6 L861.8 967.5 L865.8 967.4 L869.9 967.3 L873.9 967.2 L877.9 967.1 L881.9 967 L886 966.9 L890 966.8 L894 966.7 L898 966.6 L902 966.5 L906.1 966.4 L910.1 966.3 L914.1 966.2 L918.1 966 L922.1 965.9 L926.2 965.8 L930.2 965.7 L934.2 965.5 L938.2 965.4 L942.2 965.3 L946.3 965.1 L950.3 965 L954.3 964.8 L958.3 964.7 L962.3 964.5 L966.4 964.4 L970.4 964.2 L974.4 964 L978.4 963.9 L982.4 963.7 L986.5 963.5 L990.5 963.3 L994.5 963.1 L998.5 963 L1002.5 962.8 L1006.5 962.6 L1010.6 962.4 L1014.6 962.2 L1018.6 961.9 L1022.6 961.7 L1026.6 961.5 L1030.6 961.3 L1034.7 961.1 L1038.7 960.8 L1042.7 960.6 L1046.7 960.3 L1050.7 960.1 L1054.7 959.8 L1058.8 959.6 L1062.8 959.3 L1066.8 959 L1070.8 958.7 L1074.8 958.5 L1078.8 958.2 L1082.8 957.9 L1086.8 957.6 L1090.9 957.3 L1094.9 957 L1098.9 956.6 L1102.9 956.3 L1106.9 956 L1110.9 955.6 L1114.9 955.3 L1118.9 954.9 L1122.9 954.6 L1126.9 954.2 L1130.9 953.8 L1134.9 953.4 L1138.9 953 L1142.9 952.6 L1146.9 952.2 L1150.9 951.8 L1154.9 951.4 L1158.9 951 L1162.9 950.5 L1166.9 950.1 L1170.9 949.6 L1174.9 949.2 L1178.9 948.7 L1182.9 948.2 L1186.9 947.8 L1190.9 947.3 L1194.9 946.8 L1198.9 946.2 L1202.9 945.7 L1206.9 945.2 L1210.9 944.7 L1214.8 944.1 L1218.8 943.6 L1222.8 943 L1226.8 942.4 L1230.8 941.8 L1234.7 941.2 L1238.7 940.6 L1242.7 940 L1246.7 939.4 L1250.6 938.8 L1254.6 938.1 L1258.6 937.5 L1262.6 936.8 L1266.5 936.1 L1270.5 935.5 L1274.4 934.8 L1278.4 934.1 L1282.4 933.4 L1286.3 932.6 L1290.3 931.9 L1294.2 931.2 L1298.2 930.4 L1302.1 929.7 L1306.1 928.9 L1310 928.1 L1314 927.3 L1317.9 926.5 L1321.9 925.7 L1325.8 924.9 L1329.7 924.1 L1333.7 923.2 L1337.6 922.4 L1341.5 921.5 L1345.5 920.7 L1349.4 919.8 L1353.3 918.9 L1357.2 918 L1361.1 917.1 L1365.1 916.2 L1369 915.2 L1372.9 914.3 L1376.8 913.4 L1380.7 912.4 L1384.6 911.4 L1388.5 910.5 L1392.4 909.5 L1396.3 908.5 L1400.2 907.5 L1404.1 906.5 L1408 905.4 L1411.9 904.4 L1415.8 903.4 L1419.7 902.3 L1423.5 901.3 L1427.4 900.2 L1431.3 899.1 L1435.2 898 L1439 896.9 L1442.9 895.8 L1446.8 894.7 L1450.6 893.6 L1454.5 892.5 L1458.4 891.4 L1462.2 890.2 L1466.1 889.1 L1469.9 887.9 L1473.8 886.7 L1477.6 885.6 L1481.5 884.4 L1485.3 883.2 L1489.1 882 L1493 880.8 L1496.8 879.6 L1500.7 878.4 L1504.5 877.2 L1508.3 875.9 L1512.1 874.7 L1516 873.4 L1519.8 872.2 L1523.6 870.9 L1527.4 869.7 L1531.2 868.4 L1535.1 867.1 L1538.9 865.8 L1542.7 864.5 L1546.5 863.2 L1550.3 861.9 L1554.1 860.6 L1557.9 859.3 L1561.7 858 L1565.5 856.6 L1569.3 855.3 L1573.1 853.9 L1576.8 852.5 L1580.6 851.1 L1584.3 849.5 L1588 847.9 L1591.6 846.1 L1595.1 844.1 L1598.4 841.8 L1601.4 839.1 L1604.1 836.2 L1606.5 832.9 L1608.6 829.5 L1610.4 825.9 L1612 822.2 L1613.4 818.4 L1614.7 814.6 L1615.9 810.8 L1617 806.9 L1618 803 L1618.9 799.1 L1619.8 795.2 L1620.6 791.2 L1621.4 787.3 L1622.1 783.3 L1622.9 779.4 L1623.5 775.4 L1624.2 771.4 L1624.9 767.5 L1625.5 763.5 L1626.2 759.5 L1626.8 755.6 L1627.4 751.6 L1628.1 747.6 L1628.8 743.6 L1629.5 739.7 L1630.2 735.7 L1630.9 731.8 L1631.6 727.8 L1632.2 723.8 L1632.7 719.8 L1633.2 715.9 L1633.6 711.9 L1634 707.9 L1634.5 703.8 L1634.9 699.8 L1635.3 695.8 L1635.8 691.8 L1636.3 687.9 L1636.8 683.9 L1637.3 679.9 L1637.8 675.9 L1638.3 671.9 L1638.9 667.9 L1639.4 663.9 L1640 659.9 L1640.5 656 L1641.1 652 L1641.7 648 L1641.9 652 L1642.2 656.1 L1642.4 660.1 L1642.7 664.2 L1642.9 668.2 L1643.1 672.2 L1643.3 676.3 L1643.5 680.3 L1643.7 684.4 L1644 688.4 L1644.1 692.4 L1644.3 696.5 L1644.5 700.5 L1644.7 704.6 L1644.9 708.6 L1645 712.7 L1645.2 716.7 L1645.3 720.7 L1645.5 724.8 L1645.6 728.8 L1645.8 732.9 L1645.9 736.9 L1646 741 L1646.2 745 L1646.3 749.1 L1646.4 753.1 L1646.6 757.1 L1646.7 761.2 L1646.9 765.2 L1647 769.3 L1647.2 773.3 L1647.4 777.4 L1647.6 781.4 L1647.8 785.4 L1647.9 789.5 L1648.1 793.5 L1648.3 797.6 L1648.6 801.6 L1648.8 805.7 L1649 809.7 L1649.2 813.7 L1649.5 817.8 L1649.7 821.8 L1650 825.9 L1650.3 829.9 L1650.6 833.9 L1650.9 838 L1651.2 842 L1651.6 846 L1652.1 850.1 L1652.6 854.1 L1653.2 858 L1654 862 L1654.9 866 L1656 869.9 L1657.1 873.8 L1658.3 877.7 L1659.6 881.6 L1661.1 885.5 L1662.8 889.3 L1664.8 892.7 L1667.1 895.8 L1670 898.7 L1673.4 901.2 L1677 902.9 L1680.8 904 L1684.7 904.9 L1688.8 905.5 L1692.9 906 L1697 906.2 L1701 906.4 L1705 906.5 L1709.1 906.6 L1713.1 906.7 L1717.2 906.8 L1721.2 906.8 L1725.3 906.8 L1729.3 906.8 L1733.4 906.8 L1737.4 906.8 L1741.5 906.8 L1745.5 906.8 L1749.6 906.8 L1753.6 906.8 L1757.7 906.8 L1761.7 906.8 L1765.7 906.8 L1769.8 906.8 L1773.8 906.8 L1777.9 906.8 L1781.9 906.8 L1786 906.8 L1790 906.8 L1794.1 906.8 L1798.1 906.8 L1802.2 906.8 L1806.2 906.8 L1810.3 906.8 L1814.3 906.8 L1818.3 906.8 L1822.4 906.8 L1826.4 906.8 L1830.5 906.8 L1834.5 906.8 L1838.6 906.8 L1842.6 906.8 L1846.7 906.8 L1850.7 906.8 L1854.8 906.8 L1858.8 906.8 L1862.9 906.8 L1866.9 906.8 L1871 906.8 L1875 906.8 L1879 906.8 L1883.1 906.8 L1887.1 906.8 L1891.2 906.8 L1895.2 906.8 L1899.3 906.8 L1903.3 906.8 L1907.4 906.8 L1911.4 906.8 L1915.5 906.8 L1919.5 906.8 L1923.6 906.8 L1927.6 906.8 L1931.7 906.8 L1935.7 906.8 L1939.8 906.8 L1943.8 906.8 L1947.9 906.8 L1951.9 906.8 L1956 906.8 L1960 906.8" fill="none" stroke="#e57883" stroke-width="6.6" stroke-linejoin="round" clip-path="url(#ce)"/>
<path d="M857.8 974.5 L861.8 974.5 L865.8 974.5 L869.9 974.5 L873.9 974.5 L877.9 974.5 L881.9 974.5 L885.9 974.5 L890 974.5 L894 974.5 L898 974.5 L902 974.5 L906 974.5 L910.1 974.5 L914.1 974.5 L918.1 974.5 L922.1 974.5 L926.1 974.5 L930.2 974.5 L934.2 974.5 L938.2 974.5 L942.2 974.5 L946.2 974.5 L950.3 974.5 L954.3 974.5 L958.3 974.5 L962.3 974.5 L966.3 974.5 L970.4 974.5 L974.4 974.5 L978.4 974.5 L982.4 974.5 L986.4 974.5 L990.5 974.5 L994.5 974.5 L998.5 974.5 L1002.5 974.5 L1006.5 974.5 L1010.6 974.5 L1014.6 974.5 L1018.6 974.5 L1022.6 974.5 L1026.6 974.5 L1030.7 974.5 L1034.7 974.5 L1038.7 974.5 L1042.7 974.5 L1046.7 974.5 L1050.8 974.5 L1054.8 974.5 L1058.8 974.5 L1062.8 974.5 L1066.8 974.5 L1070.9 974.5 L1074.9 974.5 L1078.9 974.5 L1082.9 974.5 L1086.9 974.5 L1091 974.5 L1095 974.5 L1099 974.5 L1103 974.5 L1107 974.5 L1111.1 974.5 L1115.1 974.5 L1119.1 974.5 L1123.1 974.5 L1127.1 974.5 L1131.2 974.5 L1135.2 974.5 L1139.2 974.5 L1143.2 974.5 L1147.2 974.5 L1151.3 974.5 L1155.3 974.5 L1159.3 974.5 L1163.3 974.5 L1167.3 974.5 L1171.4 974.5 L1175.4 974.5 L1179.4 974.5 L1183.4 974.5 L1187.5 974.5 L1191.5 974.5 L1195.5 974.5 L1199.5 974.5 L1203.5 974.5 L1207.6 974.5 L1211.6 974.5 L1215.6 974.5 L1219.6 974.5 L1223.6 974.5 L1227.7 974.5 L1231.7 974.5 L1235.7 974.5 L1239.7 974.5 L1243.7 974.5 L1247.8 974.5 L1251.8 974.5 L1255.8 974.5 L1259.8 974.5 L1263.8 974.5 L1267.9 974.5 L1271.9 974.5 L1275.9 974.5 L1279.9 974.5 L1283.9 974.5 L1288 974.5 L1292 974.5 L1296 974.5 L1300 974.5 L1304 974.5 L1308.1 974.5 L1312.1 974.5 L1316.1 974.5 L1320.1 974.5 L1324.1 974.5 L1328.2 974.5 L1332.2 974.5 L1336.2 974.5 L1340.2 974.5 L1344.2 974.5 L1348.3 974.5 L1352.3 974.4 L1356.3 974.4 L1360.3 974.4 L1364.3 974.4 L1368.4 974.4 L1372.4 974.4 L1376.4 974.4 L1380.4 974.3 L1384.4 974.3 L1388.5 974.3 L1392.5 974.2 L1396.5 974.2 L1400.5 974.2 L1404.5 974.1 L1408.6 974.1 L1412.6 974 L1416.6 973.9 L1420.6 973.9 L1424.6 973.8 L1428.7 973.7 L1432.7 973.6 L1436.7 973.4 L1440.7 973.3 L1444.7 973.1 L1448.7 972.9 L1452.8 972.7 L1456.8 972.4 L1460.8 972.2 L1464.8 971.9 L1468.8 971.5 L1472.8 971.1 L1476.8 970.6 L1480.8 970.1 L1484.7 969.5 L1488.7 968.9 L1492.7 968.2 L1496.6 967.4 L1500.5 966.4 L1504.4 965.4 L1508.3 964.3 L1512.1 963.1 L1515.9 961.8 L1519.6 960.3 L1523.3 958.7 L1526.9 956.9 L1530.5 955.1 L1534 953.1 L1537.4 951 L1540.8 948.8 L1544 946.4 L1547.2 944 L1550.3 941.4 L1553.4 938.8 L1556.3 936 L1559.2 933.2 L1562 930.3 L1564.7 927.4 L1567.4 924.4 L1570 921.3 L1572.5 918.2 L1575 915 L1577.5 911.9 L1579.8 908.6 L1582.2 905.3 L1584.5 902.1 L1586.7 898.7 L1589 895.4 L1591.2 892 L1593.3 888.6 L1595.4 885.2 L1597.5 881.8 L1599.6 878.3 L1601.6 874.8 L1603.6 871.4 L1605.6 867.9 L1607.6 864.4 L1609.5 860.8 L1611.4 857.3 L1613.3 853.8 L1615.2 850.2 L1617 846.6 L1618.6 842.9 L1620.3 839.2 L1621.7 835.5 L1623 831.7 L1624.1 827.8 L1625.1 823.9 L1626 820 L1626.7 816.1 L1627.3 812.1 L1627.9 808.1 L1628.5 804.1 L1629 800.1 L1629.5 796.1 L1629.9 792.1 L1630.3 788.1 L1630.6 784.1 L1631 780.1 L1631.3 776.1 L1631.6 772.1 L1631.9 768.1 L1632.2 764.1 L1632.5 760.1 L1632.7 756.1 L1633 752 L1633.3 748 L1633.5 744 L1633.8 740 L1634 736 L1634.2 732 L1634.4 728 L1634.6 723.9 L1634.8 719.9 L1635 715.9 L1635.1 711.9 L1635.3 707.9 L1635.5 703.8 L1635.7 699.8 L1635.9 695.8 L1636.1 691.8 L1636.4 687.8 L1636.7 683.8 L1637 679.8 L1637.3 675.8 L1637.8 671.8 L1638.2 667.8 L1638.7 663.8 L1639.3 659.8 L1640 655.9 L1640.8 651.9 L1641.7 648 L1642.7 652 L1643.5 655.9 L1644 659.9 L1644.4 664 L1644.8 668 L1645.1 672.1 L1645.3 676.1 L1645.5 680.2 L1645.7 684.2 L1645.8 688.3 L1646 692.3 L1646.1 696.4 L1646.2 700.5 L1646.3 704.5 L1646.3 708.6 L1646.4 712.6 L1646.5 716.7 L1646.6 720.7 L1646.7 724.8 L1646.8 728.9 L1646.9 732.9 L1647.1 737 L1647.3 741 L1647.6 745.1 L1647.9 749.1 L1648.2 753.1 L1648.6 757.2 L1648.9 761.2 L1649.3 765.3 L1649.6 769.3 L1649.9 773.4 L1650.2 777.4 L1650.5 781.5 L1650.8 785.5 L1651.1 789.6 L1651.5 793.6 L1651.9 797.6 L1652.4 801.7 L1653 805.7 L1653.6 809.7 L1654.3 813.7 L1655.2 817.6 L1656.1 821.6 L1657.2 825.5 L1658.2 829.4 L1659.2 833.4 L1660.3 837.3 L1661.3 841.3 L1662.5 845.2 L1663.7 849.1 L1665 852.9 L1666.4 856.6 L1667.9 860.5 L1669.6 864.4 L1671.4 868.2 L1673.4 871.8 L1675.7 875 L1678.2 877.7 L1681.2 880.3 L1684.7 882.7 L1688.5 884.7 L1692.4 886.1 L1696.2 886.9 L1700.2 887.5 L1704.3 888 L1708.4 888.3 L1712.5 888.3 L1716.5 888.4 L1720.6 888.5 L1724.7 888.5 L1728.7 888.5 L1732.8 888.5 L1736.8 888.5 L1740.9 888.5 L1744.9 888.5 L1749 888.5 L1753.1 888.5 L1757.1 888.5 L1761.2 888.5 L1765.2 888.5 L1769.3 888.5 L1773.3 888.5 L1777.4 888.5 L1781.5 888.5 L1785.5 888.5 L1789.6 888.5 L1793.6 888.5 L1797.7 888.5 L1801.8 888.5 L1805.8 888.5 L1809.9 888.5 L1813.9 888.5 L1818 888.5 L1822 888.5 L1826.1 888.5 L1830.2 888.5 L1834.2 888.5 L1838.3 888.5 L1842.3 888.5 L1846.4 888.5 L1850.4 888.5 L1854.5 888.5 L1858.6 888.5 L1862.6 888.5 L1866.7 888.5 L1870.7 888.5 L1874.8 888.5 L1878.8 888.5 L1882.9 888.5 L1887 888.5 L1891 888.5 L1895.1 888.5 L1899.1 888.5 L1903.2 888.5 L1907.2 888.5 L1911.3 888.5 L1915.4 888.5 L1919.4 888.5 L1923.5 888.5 L1927.5 888.5 L1931.6 888.5 L1935.7 888.5 L1939.7 888.5 L1943.8 888.5 L1947.8 888.5 L1951.9 888.5 L1955.9 888.5 L1960 888.5" fill="none" stroke="#26c5b8" stroke-width="6.6" stroke-linejoin="round" clip-path="url(#ce)"/>
<g stroke="#000" stroke-width="2.2" fill="none">
<path d="M1881.5 569 V569 H857.8"/>
<path d="M857.8 569 V1021.8 H1880.5"/>
<path d="M1900.5 569 H1945.6 V1021.8 H1900.5"/>
<path d="M1872.1 579.8 L1891 558.7 M1891 579.8 L1910 558.7 M1872.3 1032 L1891 1011.6 M1891.6 1032 L1909.6 1011.6"/>
</g>
<line x1="857.8" y1="1021.8" x2="857.8" y2="1031.8" stroke="#000" stroke-width="2.2"/>
<text x="857.8" y="1058.7" font-size="25" text-anchor="middle">−10</text>
<line x1="897.1" y1="1021.8" x2="897.1" y2="1026.8" stroke="#000" stroke-width="2.2"/>
<line x1="936.5" y1="1021.8" x2="936.5" y2="1031.8" stroke="#000" stroke-width="2.2"/>
<text x="936.5" y="1058.7" font-size="25" text-anchor="middle">−9</text>
<line x1="975.8" y1="1021.8" x2="975.8" y2="1026.8" stroke="#000" stroke-width="2.2"/>
<line x1="1015.2" y1="1021.8" x2="1015.2" y2="1031.8" stroke="#000" stroke-width="2.2"/>
<text x="1015.2" y="1058.7" font-size="25" text-anchor="middle">−8</text>
<line x1="1054.5" y1="1021.8" x2="1054.5" y2="1026.8" stroke="#000" stroke-width="2.2"/>
<line x1="1093.9" y1="1021.8" x2="1093.9" y2="1031.8" stroke="#000" stroke-width="2.2"/>
<text x="1093.9" y="1058.7" font-size="25" text-anchor="middle">−7</text>
<line x1="1133.2" y1="1021.8" x2="1133.2" y2="1026.8" stroke="#000" stroke-width="2.2"/>
<line x1="1172.6" y1="1021.8" x2="1172.6" y2="1031.8" stroke="#000" stroke-width="2.2"/>
<text x="1172.6" y="1058.7" font-size="25" text-anchor="middle">−6</text>
<line x1="1211.9" y1="1021.8" x2="1211.9" y2="1026.8" stroke="#000" stroke-width="2.2"/>
<line x1="1251.3" y1="1021.8" x2="1251.3" y2="1031.8" stroke="#000" stroke-width="2.2"/>
<text x="1251.3" y="1058.7" font-size="25" text-anchor="middle">−5</text>
<line x1="1290.6" y1="1021.8" x2="1290.6" y2="1026.8" stroke="#000" stroke-width="2.2"/>
<line x1="1330" y1="1021.8" x2="1330" y2="1031.8" stroke="#000" stroke-width="2.2"/>
<text x="1330" y="1058.7" font-size="25" text-anchor="middle">−4</text>
<line x1="1369.3" y1="1021.8" x2="1369.3" y2="1026.8" stroke="#000" stroke-width="2.2"/>
<line x1="1408.7" y1="1021.8" x2="1408.7" y2="1031.8" stroke="#000" stroke-width="2.2"/>
<text x="1408.7" y="1058.7" font-size="25" text-anchor="middle">−3</text>
<line x1="1448" y1="1021.8" x2="1448" y2="1026.8" stroke="#000" stroke-width="2.2"/>
<line x1="1487.4" y1="1021.8" x2="1487.4" y2="1031.8" stroke="#000" stroke-width="2.2"/>
<text x="1487.4" y="1058.7" font-size="25" text-anchor="middle">−2</text>
<line x1="1526.8" y1="1021.8" x2="1526.8" y2="1026.8" stroke="#000" stroke-width="2.2"/>
<line x1="1566.1" y1="1021.8" x2="1566.1" y2="1031.8" stroke="#000" stroke-width="2.2"/>
<text x="1566.1" y="1058.7" font-size="25" text-anchor="middle">−1</text>
<line x1="1605.5" y1="1021.8" x2="1605.5" y2="1026.8" stroke="#000" stroke-width="2.2"/>
<line x1="1644.8" y1="1021.8" x2="1644.8" y2="1031.8" stroke="#000" stroke-width="2.2"/>
<text x="1644.8" y="1058.7" font-size="25" text-anchor="middle">0</text>
<line x1="1684.1" y1="1021.8" x2="1684.1" y2="1026.8" stroke="#000" stroke-width="2.2"/>
<line x1="1723.5" y1="1021.8" x2="1723.5" y2="1031.8" stroke="#000" stroke-width="2.2"/>
<text x="1723.5" y="1058.7" font-size="25" text-anchor="middle">1</text>
<line x1="1762.8" y1="1021.8" x2="1762.8" y2="1026.8" stroke="#000" stroke-width="2.2"/>
<line x1="1802.2" y1="1021.8" x2="1802.2" y2="1031.8" stroke="#000" stroke-width="2.2"/>
<text x="1802.2" y="1058.7" font-size="25" text-anchor="middle">2</text>
<line x1="1841.5" y1="1021.8" x2="1841.5" y2="1026.8" stroke="#000" stroke-width="2.2"/>
<line x1="1922.7" y1="1021.8" x2="1922.7" y2="1026.8" stroke="#000" stroke-width="2.2"/>
<line x1="1945.6" y1="1021.8" x2="1945.6" y2="1031.8" stroke="#000" stroke-width="2.2"/>
<text x="1945.6" y="1058.7" font-size="25" text-anchor="middle">10</text>
<line x1="852.8" y1="1021.4" x2="857.8" y2="1021.4" stroke="#000" stroke-width="2.2"/>
<line x1="852.8" y1="1008.5" x2="857.8" y2="1008.5" stroke="#000" stroke-width="2.2"/>
<line x1="852.8" y1="997.6" x2="857.8" y2="997.6" stroke="#000" stroke-width="2.2"/>
<line x1="852.8" y1="988.2" x2="857.8" y2="988.2" stroke="#000" stroke-width="2.2"/>
<line x1="852.8" y1="979.8" x2="857.8" y2="979.8" stroke="#000" stroke-width="2.2"/>
<line x1="847.8" y1="972.4" x2="857.8" y2="972.4" stroke="#000" stroke-width="2.2"/>
<line x1="852.8" y1="923.4" x2="857.8" y2="923.4" stroke="#000" stroke-width="2.2"/>
<line x1="852.8" y1="894.8" x2="857.8" y2="894.8" stroke="#000" stroke-width="2.2"/>
<line x1="852.8" y1="874.4" x2="857.8" y2="874.4" stroke="#000" stroke-width="2.2"/>
<line x1="852.8" y1="858.7" x2="857.8" y2="858.7" stroke="#000" stroke-width="2.2"/>
<line x1="852.8" y1="845.8" x2="857.8" y2="845.8" stroke="#000" stroke-width="2.2"/>
<line x1="852.8" y1="834.9" x2="857.8" y2="834.9" stroke="#000" stroke-width="2.2"/>
<line x1="852.8" y1="825.5" x2="857.8" y2="825.5" stroke="#000" stroke-width="2.2"/>
<line x1="852.8" y1="817.1" x2="857.8" y2="817.1" stroke="#000" stroke-width="2.2"/>
<line x1="847.8" y1="809.7" x2="857.8" y2="809.7" stroke="#000" stroke-width="2.2"/>
<line x1="852.8" y1="760.7" x2="857.8" y2="760.7" stroke="#000" stroke-width="2.2"/>
<line x1="852.8" y1="732.1" x2="857.8" y2="732.1" stroke="#000" stroke-width="2.2"/>
<line x1="852.8" y1="711.7" x2="857.8" y2="711.7" stroke="#000" stroke-width="2.2"/>
<line x1="852.8" y1="696" x2="857.8" y2="696" stroke="#000" stroke-width="2.2"/>
<line x1="852.8" y1="683.1" x2="857.8" y2="683.1" stroke="#000" stroke-width="2.2"/>
<line x1="852.8" y1="672.2" x2="857.8" y2="672.2" stroke="#000" stroke-width="2.2"/>
<line x1="852.8" y1="662.8" x2="857.8" y2="662.8" stroke="#000" stroke-width="2.2"/>
<line x1="852.8" y1="654.4" x2="857.8" y2="654.4" stroke="#000" stroke-width="2.2"/>
<line x1="847.8" y1="647" x2="857.8" y2="647" stroke="#000" stroke-width="2.2"/>
<line x1="852.8" y1="598" x2="857.8" y2="598" stroke="#000" stroke-width="2.2"/>
<line x1="852.8" y1="569.4" x2="857.8" y2="569.4" stroke="#000" stroke-width="2.2"/>
<text x="839.2" y="653.8" font-size="25" text-anchor="end">1</text>
<text x="839.2" y="816.5" font-size="25" text-anchor="end">0.1</text>
<text x="839.2" y="979.2" font-size="25" text-anchor="end">0.01</text>
<text x="1402" y="1085.9" font-size="25" text-anchor="middle">Delay time (ps)</text>
<text x="783.2" y="798" font-size="25" text-anchor="middle" transform="rotate(-90 783.2 798)">Normalized intenisty</text>
<text x="731.6" y="606.2" font-size="62">e</text>
<circle cx="994.8" cy="700.4" r="6.6" fill="none" stroke="#8fe5de" stroke-width="3"/>
<rect x="989" y="726.4" width="11.4" height="11.4" fill="none" stroke="#f4c0c6" stroke-width="3"/>
<line x1="966" y1="763.5" x2="1023.5" y2="763.5" stroke="#e57883" stroke-width="6.8"/>
<line x1="1023" y1="763.5" x2="1080.7" y2="763.5" stroke="#26c5b8" stroke-width="6.8"/>
<text x="1030.5" y="708.9" font-size="26">GaN</text>
<text x="1030.5" y="740.7" font-size="26">Pt/GaN</text>
<text x="1087" y="771.7" font-size="26.5">Fit</text>
<linearGradient id="slab" x1="0" y1="0" x2="1" y2="0"><stop offset="0" stop-color="#8a8a8a"/><stop offset="0.45" stop-color="#f2f2f2"/><stop offset="1" stop-color="#dcdcdc"/></linearGradient>
<path d="M1197.7 609.4 L1214.5 609.6 L1217 607.3 L1218.7 600.6 L1220.5 608.8 L1221.3 607.1 L1222.8 613.9 L1224.4 600.4 L1225.9 620.6 L1227.5 593.6 L1229 627.4 L1230.6 586.9 L1232.1 634.1 L1233.7 580.1 L1235.2 637.7 L1236.8 583.3 L1238.3 631 L1239.9 590 L1241.4 624.2 L1243 596.8 L1244.5 617.5 L1246.1 603.5 L1247.6 610.7 L1248.5 608.8" fill="none" stroke="#1fa8ba" stroke-width="2.0" stroke-linejoin="round"/>
<line x1="1248" y1="608.8" x2="1259" y2="608.8" stroke="#1fa8ba" stroke-width="1.9"/>
<path d="M1259 609.1 L1267.9 609.3 L1270.4 607 L1272.1 603.6 L1273.9 608.5 L1274.7 607.3 L1276.2 612 L1277.7 602.6 L1279.2 616.7 L1280.7 597.9 L1282.2 621.4 L1283.7 593.2 L1285.2 626.1 L1286.7 592.5 L1288.2 622.2 L1289.7 597.2 L1291.2 617.5 L1292.7 601.8 L1294.2 612.8 L1295.7 606.5 L1296.9 608.5" fill="none" stroke="#7030a0" stroke-width="2.0" stroke-linejoin="round"/>
<line x1="1296" y1="608.5" x2="1312" y2="608.5" stroke="#7030a0" stroke-width="1.9"/>
<path d="M1300 601.3 L1313 608.5 L1300 615.7" fill="none" stroke="#7030a0" stroke-width="2.1" stroke-linejoin="miter"/>
<rect x="1317" y="592" width="5.8" height="33.5" fill="url(#slab)" stroke="#2a3550" stroke-width="0.9"/>
<text x="1250.8" y="660.8" font-size="25">t &lt; 0</text>
<path d="M1625.4 602.6 L1626.2 601 L1627.7 607.4 L1629.3 594.6 L1630.8 613.8 L1632.4 588.2 L1633.9 620.3 L1635.5 581.7 L1637 626.7 L1638.6 575.3 L1640.1 630.1 L1641.7 578.3 L1643.2 623.7 L1644.8 584.7 L1646.3 617.3 L1647.9 591.2 L1649.4 610.8 L1651 597.6 L1652.5 604.4 L1653.4 602.6" fill="none" stroke="#1fa8ba" stroke-width="2.0" stroke-linejoin="round"/>
<path d="M1604 603.2 L1621.9 603.4 L1624.4 601.1 L1626.1 597.7 L1627.9 602.6 L1628.7 601.4 L1630.2 606.1 L1631.7 596.7 L1633.2 610.8 L1634.7 592 L1636.2 615.5 L1637.7 587.3 L1639.2 620.2 L1640.7 586.6 L1642.2 616.3 L1643.7 591.3 L1645.2 611.6 L1646.7 595.9 L1648.2 606.9 L1649.7 600.6 L1650.9 602.6" fill="none" stroke="#7030a0" stroke-width="2.0" stroke-linejoin="round"/>
<line x1="1650" y1="602.6" x2="1663" y2="602.6" stroke="#7030a0" stroke-width="1.9"/>
<path d="M1651.7 595.4 L1664.7 602.6 L1651.7 609.8" fill="none" stroke="#7030a0" stroke-width="2.1" stroke-linejoin="miter"/>
<rect x="1669.3" y="588.4" width="5.5" height="30.3" fill="url(#slab)" stroke="#2a3550" stroke-width="0.9"/>
<text x="1561.7" y="649.9" font-size="25">t ~ 0</text>
<path d="M1780 608.3 L1797.8 608.5 L1800.3 606.2 L1802 603.1 L1803.8 607.7 L1804.5 606.6 L1806 611 L1807.5 602.2 L1809 615.5 L1810.5 597.7 L1812 619.9 L1813.5 593.3 L1815 624.3 L1816.5 592.5 L1818 620.6 L1819.5 597 L1821 616.2 L1822.5 601.4 L1824 611.8 L1825.5 605.9 L1826.8 607.7" fill="none" stroke="#7030a0" stroke-width="2.0" stroke-linejoin="round"/>
<line x1="1826.5" y1="607.7" x2="1838" y2="607.7" stroke="#7030a0" stroke-width="1.9"/>
<path d="M1838 608.3 L1842.8 608.5 L1845.3 606.2 L1847 599.9 L1848.8 607.7 L1849.6 606.1 L1851.1 612.5 L1852.7 599.7 L1854.2 618.9 L1855.8 593.3 L1857.3 625.4 L1858.9 586.8 L1860.4 631.8 L1862 580.4 L1863.5 635.2 L1865.1 583.4 L1866.6 628.8 L1868.2 589.8 L1869.7 622.4 L1871.3 596.3 L1872.8 615.9 L1874.4 602.7 L1875.9 609.5 L1876.8 607.7" fill="none" stroke="#1fa8ba" stroke-width="2.0" stroke-linejoin="round"/>
<line x1="1876" y1="607.7" x2="1888" y2="607.7" stroke="#1fa8ba" stroke-width="1.9"/>
<path d="M1876 600.5 L1889 607.7 L1876 614.9" fill="none" stroke="#1fa8ba" stroke-width="2.1" stroke-linejoin="miter"/>
<rect x="1893.3" y="592.4" width="5.4" height="31.1" fill="url(#slab)"/>
<path d="M1898.7 592.4 H1893.3 V623.5 H1898.7" fill="none" stroke="#5a6a7a" stroke-width="0.9"/>
<text x="1834.7" y="669.4" font-size="25">t &gt; 0</text>
</svg>
</body></html>
